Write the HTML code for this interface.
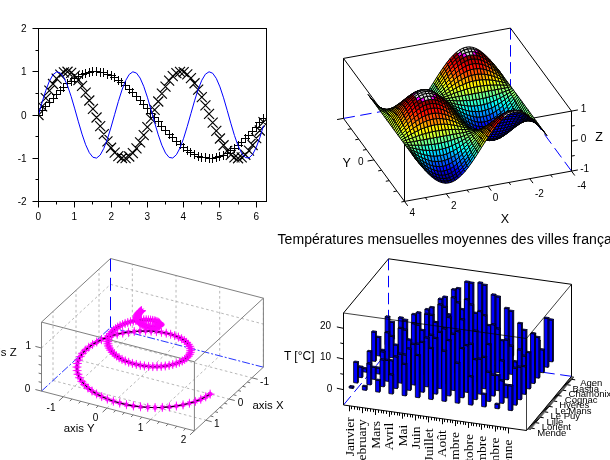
<!DOCTYPE html>
<html lang="fr">
<head>
<meta charset="utf-8">
<title>Scilab subplot</title>
<style>
html,body{margin:0;padding:0;background:#fff;}
body{width:610px;height:460px;overflow:hidden;}
svg{display:block;font-family:"Liberation Sans",sans-serif;}
</style>
</head>
<body>
<svg width="610" height="460" viewBox="0 0 610 460">
<rect x="0" y="0" width="610" height="460" fill="#fff"/>
<g id="plot2d">
<clipPath id="c1"><rect x="38.5" y="28.5" width="228" height="173"/></clipPath>
<g clip-path="url(#c1)">
<path d="M34 115.5h9M38.5 111v9M38 110.5h9M42.5 106v9M41 106.5h9M45.5 102v9M45 102.5h9M49.5 98v9M49 98.5h9M53.5 94v9M52 94.5h9M56.5 90v9M56 90.5h9M60.5 86v9M59 87.5h9M63.5 83v9M63 83.5h9M67.5 79v9M67 81.5h9M71.5 77v9M70 78.5h9M74.5 74v9M74 76.5h9M78.5 72v9M78 74.5h9M82.5 70v9M81 73.5h9M85.5 69v9M85 72.5h9M89.5 68v9M88 71.5h9M92.5 67v9M92 71.5h9M96.5 67v9M96 72.5h9M100.5 68v9M99 72.5h9M103.5 68v9M103 74.5h9M107.5 70v9M107 75.5h9M111.5 71v9M110 77.5h9M114.5 73v9M114 80.5h9M118.5 76v9M117 82.5h9M121.5 78v9M121 85.5h9M125.5 81v9M125 89.5h9M129.5 85v9M128 92.5h9M132.5 88v9M132 96.5h9M136.5 92v9M136 100.5h9M140.5 96v9M139 104.5h9M143.5 100v9M143 108.5h9M147.5 104v9M146 113.5h9M150.5 109v9M150 117.5h9M154.5 113v9M154 121.5h9M158.5 117v9M157 126.5h9M161.5 122v9M161 130.5h9M165.5 126v9M165 134.5h9M169.5 130v9M168 137.5h9M172.5 133v9M172 141.5h9M176.5 137v9M176 144.5h9M180.5 140v9M179 147.5h9M183.5 143v9M183 150.5h9M187.5 146v9M186 152.5h9M190.5 148v9M190 154.5h9M194.5 150v9M194 156.5h9M198.5 152v9M197 157.5h9M201.5 153v9M201 157.5h9M205.5 153v9M205 158.5h9M209.5 154v9M208 158.5h9M212.5 154v9M212 157.5h9M216.5 153v9M215 156.5h9M219.5 152v9M219 155.5h9M223.5 151v9M223 153.5h9M227.5 149v9M226 150.5h9M230.5 146v9M230 148.5h9M234.5 144v9M234 145.5h9M238.5 141v9M237 142.5h9M241.5 138v9M241 138.5h9M245.5 134v9M244 135.5h9M248.5 131v9M248 131.5h9M252.5 127v9M252 127.5h9M256.5 123v9M255 122.5h9M259.5 118v9M259 118.5h9M263.5 114v9" stroke="#000" stroke-width="1" fill="none"/>
<path d="M33.5 110l10 10M33.5 120l10 -10M37.13 101.41l10 10M37.13 111.41l10 -10M40.76 93.16l10 10M40.76 103.16l10 -10M44.39 85.58l10 10M44.39 95.58l10 -10M48.01 78.97l10 10M48.01 88.97l10 -10M51.64 73.61l10 10M51.64 83.61l10 -10M55.27 69.69l10 10M55.27 79.69l10 -10M58.9 67.38l10 10M58.9 77.38l10 -10M62.53 66.77l10 10M62.53 76.77l10 -10M66.16 67.88l10 10M66.16 77.88l10 -10M69.79 70.67l10 10M69.79 80.67l10 -10M73.42 75.03l10 10M73.42 85.03l10 -10M77.04 80.79l10 10M77.04 90.79l10 -10M80.67 87.7l10 10M80.67 97.7l10 -10M84.3 95.51l10 10M84.3 105.51l10 -10M87.93 103.9l10 10M87.93 113.9l10 -10M91.56 112.52l10 10M91.56 122.52l10 -10M95.19 121.05l10 10M95.19 131.05l10 -10M98.82 129.14l10 10M98.82 139.14l10 -10M102.45 136.46l10 10M102.45 146.46l10 -10M106.07 142.73l10 10M106.07 152.73l10 -10M109.7 147.7l10 10M109.7 157.7l10 -10M113.33 151.16l10 10M113.33 161.16l10 -10M116.96 152.98l10 10M116.96 162.98l10 -10M120.59 153.08l10 10M120.59 163.08l10 -10M124.22 151.47l10 10M124.22 161.47l10 -10M127.85 148.21l10 10M127.85 158.21l10 -10M131.48 143.42l10 10M131.48 153.42l10 -10M135.1 137.3l10 10M135.1 147.3l10 -10M138.73 130.09l10 10M138.73 140.09l10 -10M142.36 122.08l10 10M142.36 132.08l10 -10M145.99 113.59l10 10M145.99 123.59l10 -10M149.62 104.96l10 10M149.62 114.96l10 -10M153.25 96.53l10 10M153.25 106.53l10 -10M156.88 88.63l10 10M156.88 98.63l10 -10M160.51 81.59l10 10M160.51 91.59l10 -10M164.13 75.67l10 10M164.13 85.67l10 -10M167.76 71.13l10 10M167.76 81.13l10 -10M171.39 68.14l10 10M171.39 78.14l10 -10M175.02 66.81l10 10M175.02 76.81l10 -10M178.65 67.21l10 10M178.65 77.21l10 -10M182.28 69.31l10 10M182.28 79.31l10 -10M185.91 73.04l10 10M185.91 83.04l10 -10M189.54 78.24l10 10M189.54 88.24l10 -10M193.16 84.7l10 10M193.16 94.7l10 -10M196.79 92.18l10 10M196.79 102.18l10 -10M200.42 100.36l10 10M200.42 110.36l10 -10M204.05 108.93l10 10M204.05 118.93l10 -10M207.68 117.54l10 10M207.68 127.54l10 -10M211.31 125.85l10 10M211.31 135.85l10 -10M214.94 133.53l10 10M214.94 143.53l10 -10M218.57 140.27l10 10M218.57 150.27l10 -10M222.19 145.8l10 10M222.19 155.8l10 -10M225.82 149.91l10 10M225.82 159.91l10 -10M229.45 152.43l10 10M229.45 162.43l10 -10M233.08 153.25l10 10M233.08 163.25l10 -10M236.71 152.35l10 10M236.71 162.35l10 -10M240.34 149.76l10 10M240.34 159.76l10 -10M243.97 145.59l10 10M243.97 155.59l10 -10M247.6 139.99l10 10M247.6 149.99l10 -10M251.22 133.21l10 10M251.22 143.21l10 -10M254.85 125.49l10 10M254.85 135.49l10 -10M258.48 117.16l10 10M258.48 127.16l10 -10" stroke="#000" stroke-width="1.15" fill="none"/>
<path d="M38.5 115 L42.13 102.22 L45.76 90.58 L49.39 81.12 L53.01 74.69 L56.64 71.86 L60.27 72.88 L63.9 77.67 L67.53 85.79 L71.16 96.52 L74.79 108.9 L78.42 121.82 L82.04 134.14 L85.67 144.75 L89.3 152.7 L92.93 157.28 L96.56 158.08 L100.19 155.04 L103.82 148.42 L107.45 138.82 L111.07 127.08 L114.7 114.27 L118.33 101.53 L121.96 89.98 L125.59 80.67 L129.22 74.43 L132.85 71.81 L136.48 73.05 L140.1 78.04 L143.73 86.33 L147.36 97.18 L150.99 109.62 L154.62 122.54 L158.25 134.79 L161.88 145.27 L165.51 153.05 L169.13 157.43 L172.76 158.01 L176.39 154.76 L180.02 147.96 L183.65 138.21 L187.28 126.38 L190.91 113.55 L194.54 100.84 L198.16 89.39 L201.79 80.24 L205.42 74.19 L209.05 71.78 L212.68 73.24 L216.31 78.42 L219.94 86.88 L223.57 97.84 L227.19 110.34 L230.82 123.25 L234.45 135.43 L238.08 145.78 L241.71 153.39 L245.34 157.56 L248.97 157.93 L252.6 154.47 L256.22 147.48 L259.85 137.59 L263.48 125.68" stroke="#0000ff" stroke-width="1" fill="none"/>
</g>
<rect x="38.5" y="28.5" width="228" height="173" fill="none" stroke="#000" stroke-width="1"/>
<text x="38.2" y="220.2" font-size="10" text-anchor="middle">0</text>
<text x="74.2" y="220.2" font-size="10" text-anchor="middle">1</text>
<text x="111.2" y="220.2" font-size="10" text-anchor="middle">2</text>
<text x="147.2" y="220.2" font-size="10" text-anchor="middle">3</text>
<text x="183.2" y="220.2" font-size="10" text-anchor="middle">4</text>
<text x="219.2" y="220.2" font-size="10" text-anchor="middle">5</text>
<text x="256.2" y="220.2" font-size="10" text-anchor="middle">6</text>
<text x="26.6" y="205" font-size="10" text-anchor="end">-2</text>
<text x="26.6" y="162" font-size="10" text-anchor="end">-1</text>
<text x="26.6" y="119" font-size="10" text-anchor="end">0</text>
<text x="26.6" y="75" font-size="10" text-anchor="end">1</text>
<text x="26.6" y="32" font-size="10" text-anchor="end">2</text>
<path d="M38.5 201.5v6M56.5 201.5v3M74.5 201.5v6M92.5 201.5v3M111.5 201.5v6M129.5 201.5v3M147.5 201.5v6M165.5 201.5v3M183.5 201.5v6M201.5 201.5v3M219.5 201.5v6M238.5 201.5v3M256.5 201.5v6M38.5 201.5h-6M38.5 179.5h-3M38.5 158.5h-6M38.5 136.5h-3M38.5 115.5h-6M38.5 93.5h-3M38.5 71.5h-6M38.5 50.5h-3M38.5 28.5h-6" stroke="#000" stroke-width="1" fill="none"/>
</g>
<g id="plot3d">
<line x1="510.5" y1="28.1" x2="510.5" y2="88.1" stroke="#0000ff" stroke-width="1" stroke-dasharray="11.5 5.5"/>
<line x1="343.5" y1="118.4" x2="510.5" y2="88.1" stroke="#0000ff" stroke-width="1" stroke-dasharray="11.5 5.5"/>
<line x1="571.5" y1="171.1" x2="510.5" y2="88.1" stroke="#0000ff" stroke-width="1" stroke-dasharray="11.5 5.5"/>
<path d="M343.5 118.4L404.5 201.4L571.5 171.1L571.5 111.1L510.5 28.1L343.5 58.4Z" stroke="#000" stroke-width="1" fill="none"/>
<path d="M343.5 58.4L404.5 141.4L571.5 111.1M404.5 141.4L404.5 201.4" stroke="#000" stroke-width="1" fill="none"/>
<g stroke="#000" stroke-width="1" stroke-linejoin="round">
<polygon points="404.03,116.85 400.75,117.81 401.95,119.07 405.23,118.12" fill="#00008f"/>
<polygon points="400.75,117.81 397.48,118.04 398.67,119.31 401.95,119.07" fill="#00008f"/>
<polygon points="407.31,115.18 404.03,116.85 405.23,118.12 408.51,116.46" fill="#00008f"/>
<polygon points="397.48,118.04 394.2,117.56 395.39,118.84 398.67,119.31" fill="#00008f"/>
<polygon points="405.23,118.12 401.95,119.07 403.15,119.63 406.43,118.69" fill="#00008f"/>
<polygon points="410.59,112.82 407.31,115.18 408.51,116.46 411.79,114.12" fill="#0000af"/>
<polygon points="401.95,119.07 398.67,119.31 399.87,119.88 403.15,119.63" fill="#00008f"/>
<polygon points="408.51,116.46 405.23,118.12 406.43,118.69 409.71,117.07" fill="#0000af"/>
<polygon points="398.67,119.31 395.39,118.84 396.59,119.45 399.87,119.88" fill="#0000af"/>
<polygon points="394.2,117.56 390.92,116.39 392.12,117.69 395.39,118.84" fill="#0000af"/>
<polygon points="411.79,114.12 408.51,116.46 409.71,117.07 412.99,114.79" fill="#0000af"/>
<polygon points="413.87,109.81 410.59,112.82 411.79,114.12 415.07,111.15" fill="#0000cf"/>
<polygon points="406.43,118.69 403.15,119.63 404.35,119.49 407.63,118.57" fill="#0000af"/>
<polygon points="403.15,119.63 399.87,119.88 401.07,119.76 404.35,119.49" fill="#0000f4"/>
<polygon points="409.71,117.07 406.43,118.69 407.63,118.57 410.91,117.02" fill="#0000af"/>
<polygon points="395.39,118.84 392.12,117.69 393.31,118.36 396.59,119.45" fill="#0000af"/>
<polygon points="415.07,111.15 411.79,114.12 412.99,114.79 416.27,111.91" fill="#0000cf"/>
<polygon points="399.87,119.88 396.59,119.45 397.79,119.4 401.07,119.76" fill="#0000f4"/>
<polygon points="412.99,114.79 409.71,117.07 410.91,117.02 414.19,114.85" fill="#0000cf"/>
<polygon points="390.92,116.39 387.64,114.57 388.84,115.91 392.12,117.69" fill="#0000cf"/>
<polygon points="417.15,106.22 413.87,109.81 415.07,111.15 418.35,107.59" fill="#0010ff"/>
<polygon points="396.59,119.45 393.31,118.36 394.51,118.42 397.79,119.4" fill="#0000f4"/>
<polygon points="407.63,118.57 404.35,119.49 405.55,118.71 408.82,117.82" fill="#0000f4"/>
<polygon points="392.12,117.69 388.84,115.91 390.03,116.67 393.31,118.36" fill="#0000f4"/>
<polygon points="416.27,111.91 412.99,114.79 414.19,114.85 417.46,112.11" fill="#0000ef"/>
<polygon points="404.35,119.49 401.07,119.76 402.27,119.01 405.55,118.71" fill="#0000f4"/>
<polygon points="410.91,117.02 407.63,118.57 408.82,117.82 412.1,116.36" fill="#0000f4"/>
<polygon points="418.35,107.59 415.07,111.15 416.27,111.91 419.55,108.46" fill="#0010ff"/>
<polygon points="401.07,119.76 397.79,119.4 398.99,118.74 402.27,119.01" fill="#0000f4"/>
<polygon points="414.19,114.85 410.91,117.02 412.1,116.36 415.38,114.33" fill="#0000ef"/>
<polygon points="387.64,114.57 384.36,112.17 385.56,113.54 388.84,115.91" fill="#0010ff"/>
<polygon points="393.31,118.36 390.03,116.67 391.23,116.87 394.51,118.42" fill="#0000f4"/>
<polygon points="420.43,102.12 417.15,106.22 418.35,107.59 421.63,103.53" fill="#0050ff"/>
<polygon points="491.17,132.86 487.89,133.8 489.09,136.51 492.37,135.56" fill="#00008f"/>
<polygon points="492.37,135.56 489.09,136.51 490.29,138.5 493.57,137.54" fill="#00008f"/>
<polygon points="419.55,108.46 416.27,111.91 417.46,112.11 420.74,108.84" fill="#0030ff"/>
<polygon points="487.89,133.8 484.62,134.05 485.81,136.75 489.09,136.51" fill="#00008f"/>
<polygon points="489.09,136.51 485.81,136.75 487.01,138.73 490.29,138.5" fill="#00008f"/>
<polygon points="397.79,119.4 394.51,118.42 395.71,117.9 398.99,118.74" fill="#0000f4"/>
<polygon points="494.45,131.24 491.17,132.86 492.37,135.56 495.65,133.9" fill="#0000af"/>
<polygon points="417.46,112.11 414.19,114.85 415.38,114.33 418.66,111.79" fill="#0010ff"/>
<polygon points="495.65,133.9 492.37,135.56 493.57,137.54 496.85,135.87" fill="#00008f"/>
<polygon points="489.98,129.49 486.7,130.41 487.89,133.8 491.17,132.86" fill="#0000af"/>
<polygon points="493.57,137.54 490.29,138.5 491.49,139.77 494.77,138.82" fill="#00008f"/>
<polygon points="388.84,115.91 385.56,113.54 386.76,114.41 390.03,116.67" fill="#0000f4"/>
<polygon points="486.7,130.41 483.42,130.68 484.62,134.05 487.89,133.8" fill="#0000af"/>
<polygon points="493.26,127.94 489.98,129.49 491.17,132.86 494.45,131.24" fill="#0000af"/>
<polygon points="490.29,138.5 487.01,138.73 488.21,140.01 491.49,139.77" fill="#00008f"/>
<polygon points="408.82,117.82 405.55,118.71 406.74,117.34 410.02,116.49" fill="#0000f4"/>
<polygon points="421.63,103.53 418.35,107.59 419.55,108.46 422.82,104.53" fill="#0050ff"/>
<polygon points="496.85,135.87 493.57,137.54 494.77,138.82 498.05,137.16" fill="#00008f"/>
<polygon points="484.62,134.05 481.34,133.62 482.53,136.28 485.81,136.75" fill="#0000af"/>
<polygon points="485.81,136.75 482.53,136.28 483.73,138.25 487.01,138.73" fill="#00008f"/>
<polygon points="412.1,116.36 408.82,117.82 410.02,116.49 413.3,115.14" fill="#0000f4"/>
<polygon points="405.55,118.71 402.27,119.01 403.46,117.68 406.74,117.34" fill="#0000f4"/>
<polygon points="497.73,128.97 494.45,131.24 495.65,133.9 498.93,131.56" fill="#0000af"/>
<polygon points="498.93,131.56 495.65,133.9 496.85,135.87 500.13,133.51" fill="#0000af"/>
<polygon points="483.42,130.68 480.14,130.31 481.34,133.62 484.62,134.05" fill="#0000af"/>
<polygon points="488.78,125.48 485.5,126.37 486.7,130.41 489.98,129.49" fill="#0000cf"/>
<polygon points="496.53,125.77 493.26,127.94 494.45,131.24 497.73,128.97" fill="#0000cf"/>
<polygon points="487.01,138.73 483.73,138.25 484.93,139.54 488.21,140.01" fill="#00008f"/>
<polygon points="415.38,114.33 412.1,116.36 413.3,115.14 416.58,113.29" fill="#0000f4"/>
<polygon points="485.5,126.37 482.22,126.67 483.42,130.68 486.7,130.41" fill="#0000cf"/>
<polygon points="402.27,119.01 398.99,118.74 400.19,117.52 403.46,117.68" fill="#0000f4"/>
<polygon points="494.77,138.82 491.49,139.77 492.69,140.32 495.96,139.38" fill="#00008f"/>
<polygon points="492.06,124.01 488.78,125.48 489.98,129.49 493.26,127.94" fill="#0000cf"/>
<polygon points="500.13,133.51 496.85,135.87 498.05,137.16 501.33,134.82" fill="#0000af"/>
<polygon points="394.51,118.42 391.23,116.87 392.43,116.55 395.71,117.9" fill="#0000f4"/>
<polygon points="420.74,108.84 417.46,112.11 418.66,111.79 421.94,108.77" fill="#0050ff"/>
<polygon points="491.49,139.77 488.21,140.01 489.41,140.57 492.69,140.32" fill="#00008f"/>
<polygon points="390.03,116.67 386.76,114.41 387.95,114.79 391.23,116.87" fill="#0000f4"/>
<polygon points="498.05,137.16 494.77,138.82 495.96,139.38 499.24,137.76" fill="#0000af"/>
<polygon points="422.82,104.53 419.55,108.46 420.74,108.84 424.02,105.12" fill="#0050ff"/>
<polygon points="481.34,133.62 478.06,132.54 479.26,135.13 482.53,136.28" fill="#0000af"/>
<polygon points="482.53,136.28 479.26,135.13 480.45,137.08 483.73,138.25" fill="#0000af"/>
<polygon points="384.36,112.17 381.08,109.26 382.28,110.67 385.56,113.54" fill="#0050ff"/>
<polygon points="482.22,126.67 478.94,126.39 480.14,130.31 483.42,130.68" fill="#0000cf"/>
<polygon points="495.34,121.99 492.06,124.01 493.26,127.94 496.53,125.77" fill="#0000ef"/>
<polygon points="501.01,126.08 497.73,128.97 498.93,131.56 502.21,128.58" fill="#0000cf"/>
<polygon points="423.71,97.59 420.43,102.12 421.63,103.53 424.91,99.05" fill="#008fff"/>
<polygon points="502.21,128.58 498.93,131.56 500.13,133.51 503.41,130.51" fill="#0000cf"/>
<polygon points="480.14,130.31 476.86,129.34 478.06,132.54 481.34,133.62" fill="#0000cf"/>
<polygon points="418.66,111.79 415.38,114.33 416.58,113.29 419.86,110.99" fill="#0000f4"/>
<polygon points="488.21,140.01 484.93,139.54 486.13,140.14 489.41,140.57" fill="#0000af"/>
<polygon points="398.99,118.74 395.71,117.9 396.91,116.86 400.19,117.52" fill="#0000f4"/>
<polygon points="499.81,123.02 496.53,125.77 497.73,128.97 501.01,126.08" fill="#0000ef"/>
<polygon points="483.73,138.25 480.45,137.08 481.65,138.39 484.93,139.54" fill="#0000af"/>
<polygon points="501.33,134.82 498.05,137.16 499.24,137.76 502.52,135.49" fill="#0000af"/>
<polygon points="487.58,120.89 484.3,121.74 485.5,126.37 488.78,125.48" fill="#0010ff"/>
<polygon points="503.41,130.51 500.13,133.51 501.33,134.82 504.6,131.84" fill="#0000cf"/>
<polygon points="490.86,119.53 487.58,120.89 488.78,125.48 492.06,124.01" fill="#0010ff"/>
<polygon points="484.3,121.74 481.02,122.08 482.22,126.67 485.5,126.37" fill="#0010ff"/>
<polygon points="385.56,113.54 382.28,110.67 383.48,111.67 386.76,114.41" fill="#0000f4"/>
<polygon points="495.96,139.38 492.69,140.32 493.88,140.19 497.16,139.27" fill="#0000af"/>
<polygon points="424.91,99.05 421.63,103.53 422.82,104.53 426.1,100.19" fill="#008fff"/>
<polygon points="478.94,126.39 475.66,125.56 476.86,129.34 480.14,130.31" fill="#0000ef"/>
<polygon points="492.69,140.32 489.41,140.57 490.6,140.46 493.88,140.19" fill="#0000f4"/>
<polygon points="498.62,119.44 495.34,121.99 496.53,125.77 499.81,123.02" fill="#0010ff"/>
<polygon points="499.24,137.76 495.96,139.38 497.16,139.27 500.44,137.71" fill="#0000af"/>
<polygon points="494.14,117.69 490.86,119.53 492.06,124.01 495.34,121.99" fill="#0030ff"/>
<polygon points="424.02,105.12 420.74,108.84 421.94,108.77 425.22,105.34" fill="#0070ff"/>
<polygon points="481.02,122.08 477.74,121.91 478.94,126.39 482.22,126.67" fill="#0010ff"/>
<polygon points="391.23,116.87 387.95,114.79 389.15,114.72 392.43,116.55" fill="#0000f4"/>
<polygon points="410.02,116.49 406.74,117.34 407.94,115.46 411.22,114.66" fill="#0000f4"/>
<polygon points="484.93,139.54 481.65,138.39 482.85,139.06 486.13,140.14" fill="#0000af"/>
<polygon points="478.06,132.54 474.78,130.84 475.98,133.34 479.26,135.13" fill="#0000cf"/>
<polygon points="421.94,108.77 418.66,111.79 419.86,110.99 423.14,108.28" fill="#0070ff"/>
<polygon points="413.3,115.14 410.02,116.49 411.22,114.66 414.5,113.43" fill="#0000f4"/>
<polygon points="479.26,135.13 475.98,133.34 477.17,135.27 480.45,137.08" fill="#0000cf"/>
<polygon points="406.74,117.34 403.46,117.68 404.66,115.85 407.94,115.46" fill="#0000f4"/>
<polygon points="395.71,117.9 392.43,116.55 393.63,115.75 396.91,116.86" fill="#0000f4"/>
<polygon points="504.6,131.84 501.33,134.82 502.52,135.49 505.8,132.6" fill="#0000cf"/>
<polygon points="504.29,122.64 501.01,126.08 502.21,128.58 505.49,125.03" fill="#0010ff"/>
<polygon points="489.41,140.57 486.13,140.14 487.33,140.09 490.6,140.46" fill="#0000f4"/>
<polygon points="476.86,129.34 473.58,127.78 474.78,130.84 478.06,132.54" fill="#0000ef"/>
<polygon points="505.49,125.03 502.21,128.58 503.41,130.51 506.69,126.91" fill="#0010ff"/>
<polygon points="502.52,135.49 499.24,137.76 500.44,137.71 503.72,135.55" fill="#0000cf"/>
<polygon points="503.09,119.76 499.81,123.02 501.01,126.08 504.29,122.64" fill="#0030ff"/>
<polygon points="386.76,114.41 383.48,111.67 384.67,112.26 387.95,114.79" fill="#0000f4"/>
<polygon points="416.58,113.29 413.3,115.14 414.5,113.43 417.78,111.8" fill="#0000f4"/>
<polygon points="426.1,100.19 422.82,104.53 424.02,105.12 427.3,101.02" fill="#008fff"/>
<polygon points="480.45,137.08 477.17,135.27 478.37,136.6 481.65,138.39" fill="#0000cf"/>
<polygon points="403.46,117.68 400.19,117.52 401.38,115.81 404.66,115.85" fill="#0000f4"/>
<polygon points="497.42,115.39 494.14,117.69 495.34,121.99 498.62,119.44" fill="#0050ff"/>
<polygon points="477.74,121.91 474.46,121.26 475.66,125.56 478.94,126.39" fill="#0030ff"/>
<polygon points="486.38,115.8 483.1,116.6 484.3,121.74 487.58,120.89" fill="#0050ff"/>
<polygon points="489.66,114.57 486.38,115.8 487.58,120.89 490.86,119.53" fill="#0050ff"/>
<polygon points="506.69,126.91 503.41,130.51 504.6,131.84 507.88,128.29" fill="#0010ff"/>
<polygon points="483.1,116.6 479.82,116.99 481.02,122.08 484.3,121.74" fill="#0050ff"/>
<polygon points="475.66,125.56 472.38,124.2 473.58,127.78 476.86,129.34" fill="#0010ff"/>
<polygon points="501.89,116.43 498.62,119.44 499.81,123.02 503.09,119.76" fill="#0050ff"/>
<polygon points="381.08,109.26 377.8,105.92 379,107.38 382.28,110.67" fill="#008fff"/>
<polygon points="419.86,110.99 416.58,113.29 417.78,111.8 421.06,109.78" fill="#0000f4"/>
<polygon points="426.99,92.73 423.71,97.59 424.91,99.05 428.19,94.25" fill="#00cfff"/>
<polygon points="492.94,112.93 489.66,114.57 490.86,119.53 494.14,117.69" fill="#0050ff"/>
<polygon points="486.13,140.14 482.85,139.06 484.05,139.11 487.33,140.09" fill="#0000f4"/>
<polygon points="497.16,139.27 493.88,140.19 495.08,139.4 498.36,138.52" fill="#0000f4"/>
<polygon points="400.19,117.52 396.91,116.86 398.1,115.37 401.38,115.81" fill="#0000f4"/>
<polygon points="479.82,116.99 476.55,116.95 477.74,121.91 481.02,122.08" fill="#0050ff"/>
<polygon points="425.22,105.34 421.94,108.77 423.14,108.28 426.42,105.2" fill="#008fff"/>
<polygon points="481.65,138.39 478.37,136.6 479.57,137.36 482.85,139.06" fill="#0000f4"/>
<polygon points="505.8,132.6 502.52,135.49 503.72,135.55 507,132.8" fill="#0000ef"/>
<polygon points="493.88,140.19 490.6,140.46 491.8,139.71 495.08,139.4" fill="#0000f4"/>
<polygon points="500.44,137.71 497.16,139.27 498.36,138.52 501.64,137.05" fill="#0000f4"/>
<polygon points="392.43,116.55 389.15,114.72 390.35,114.23 393.63,115.75" fill="#0000f4"/>
<polygon points="427.3,101.02 424.02,105.12 425.22,105.34 428.5,101.56" fill="#00afff"/>
<polygon points="507.88,128.29 504.6,131.84 505.8,132.6 509.08,129.16" fill="#0010ff"/>
<polygon points="500.7,112.68 497.42,115.39 498.62,119.44 501.89,116.43" fill="#0070ff"/>
<polygon points="387.95,114.79 384.67,112.26 385.87,112.47 389.15,114.72" fill="#0000f4"/>
<polygon points="474.78,130.84 471.5,128.59 472.7,130.98 475.98,133.34" fill="#0010ff"/>
<polygon points="382.28,110.67 379,107.38 380.2,108.52 383.48,111.67" fill="#0000f4"/>
<polygon points="428.19,94.25 424.91,99.05 426.1,100.19 429.38,95.55" fill="#00cfff"/>
<polygon points="474.46,121.26 471.19,120.15 472.38,124.2 475.66,125.56" fill="#0050ff"/>
<polygon points="496.22,110.92 492.94,112.93 494.14,117.69 497.42,115.39" fill="#0070ff"/>
<polygon points="475.98,133.34 472.7,130.98 473.9,132.86 477.17,135.27" fill="#0010ff"/>
<polygon points="473.58,127.78 470.3,125.71 471.5,128.59 474.78,130.84" fill="#0030ff"/>
<polygon points="490.6,140.46 487.33,140.09 488.52,139.43 491.8,139.71" fill="#0000f4"/>
<polygon points="507.57,118.71 504.29,122.64 505.49,125.03 508.77,120.97" fill="#0050ff"/>
<polygon points="423.14,108.28 419.86,110.99 421.06,109.78 424.34,107.43" fill="#0000f4"/>
<polygon points="503.72,135.55 500.44,137.71 501.64,137.05 504.92,135.03" fill="#0000ef"/>
<polygon points="476.55,116.95 473.27,116.5 474.46,121.26 477.74,121.91" fill="#0050ff"/>
<polygon points="506.37,116.04 503.09,119.76 504.29,122.64 507.57,118.71" fill="#0050ff"/>
<polygon points="508.77,120.97 505.49,125.03 506.69,126.91 509.96,122.81" fill="#0050ff"/>
<polygon points="396.91,116.86 393.63,115.75 394.83,114.54 398.1,115.37" fill="#0000f4"/>
<polygon points="477.17,135.27 473.9,132.86 475.09,134.24 478.37,136.6" fill="#0010ff"/>
<polygon points="505.17,112.99 501.89,116.43 503.09,119.76 506.37,116.04" fill="#0070ff"/>
<polygon points="472.38,124.2 469.1,122.38 470.3,125.71 473.58,127.78" fill="#0050ff"/>
<polygon points="485.19,110.28 481.91,111.04 483.1,116.6 486.38,115.8" fill="#008fff"/>
<polygon points="488.46,109.2 485.19,110.28 486.38,115.8 489.66,114.57" fill="#008fff"/>
<polygon points="482.85,139.06 479.57,137.36 480.77,137.56 484.05,139.11" fill="#0000f4"/>
<polygon points="429.38,95.55 426.1,100.19 427.3,101.02 430.58,96.63" fill="#00cfff"/>
<polygon points="509.96,122.81 506.69,126.91 507.88,128.29 511.16,124.23" fill="#0050ff"/>
<polygon points="481.91,111.04 478.63,111.47 479.82,116.99 483.1,116.6" fill="#008fff"/>
<polygon points="411.22,114.66 407.94,115.46 409.14,113.16 412.42,112.4" fill="#0000f4"/>
<polygon points="383.48,111.67 380.2,108.52 381.39,109.35 384.67,112.26" fill="#0000f4"/>
<polygon points="414.5,113.43 411.22,114.66 412.42,112.4 415.7,111.32" fill="#0000f4"/>
<polygon points="509.08,129.16 505.8,132.6 507,132.8 510.28,129.54" fill="#0030ff"/>
<polygon points="499.5,108.57 496.22,110.92 497.42,115.39 500.7,112.68" fill="#008fff"/>
<polygon points="491.74,107.8 488.46,109.2 489.66,114.57 492.94,112.93" fill="#008fff"/>
<polygon points="407.94,115.46 404.66,115.85 405.86,113.59 409.14,113.16" fill="#0000f4"/>
<polygon points="487.33,140.09 484.05,139.11 485.24,138.6 488.52,139.43" fill="#0000f4"/>
<polygon points="428.5,101.56 425.22,105.34 426.42,105.2 429.7,101.83" fill="#00cfff"/>
<polygon points="507,132.8 503.72,135.55 504.92,135.03 508.2,132.48" fill="#0010ff"/>
<polygon points="417.78,111.8 414.5,113.43 415.7,111.32 418.98,109.92" fill="#0000f4"/>
<polygon points="503.98,109.6 500.7,112.68 501.89,116.43 505.17,112.99" fill="#008fff"/>
<polygon points="473.27,116.5 469.99,115.68 471.19,120.15 474.46,121.26" fill="#0070ff"/>
<polygon points="478.63,111.47 475.35,111.58 476.55,116.95 479.82,116.99" fill="#008fff"/>
<polygon points="426.42,105.2 423.14,108.28 424.34,107.43 427.62,104.77" fill="#00afff"/>
<polygon points="478.37,136.6 475.09,134.24 476.29,135.11 479.57,137.36" fill="#0000f4"/>
<polygon points="404.66,115.85 401.38,115.81 402.58,113.7 405.86,113.59" fill="#0000f4"/>
<polygon points="471.19,120.15 467.91,118.63 469.1,122.38 472.38,124.2" fill="#0070ff"/>
<polygon points="389.15,114.72 385.87,112.47 387.07,112.34 390.35,114.23" fill="#0000f4"/>
<polygon points="495.02,106.11 491.74,107.8 492.94,112.93 496.22,110.92" fill="#00afff"/>
<polygon points="498.36,138.52 495.08,139.4 496.28,138.04 499.56,137.19" fill="#0000f4"/>
<polygon points="511.16,124.23 507.88,128.29 509.08,129.16 512.36,125.23" fill="#0050ff"/>
<polygon points="421.06,109.78 417.78,111.8 418.98,109.92 422.26,108.23" fill="#0000f4"/>
<polygon points="501.64,137.05 498.36,138.52 499.56,137.19 502.84,135.83" fill="#0000f4"/>
<polygon points="495.08,139.4 491.8,139.71 493,138.38 496.28,138.04" fill="#0000f4"/>
<polygon points="393.63,115.75 390.35,114.23 391.55,113.38 394.83,114.54" fill="#0000f4"/>
<polygon points="430.58,96.63 427.3,101.02 428.5,101.56 431.78,97.51" fill="#00efff"/>
<polygon points="430.27,87.65 426.99,92.73 428.19,94.25 431.46,89.22" fill="#30ffcf"/>
<polygon points="475.35,111.58 472.07,111.37 473.27,116.5 476.55,116.95" fill="#008fff"/>
<polygon points="377.8,105.92 374.52,102.25 375.72,103.77 379,107.38" fill="#00cfff"/>
<polygon points="384.67,112.26 381.39,109.35 382.59,109.89 385.87,112.47" fill="#0000f4"/>
<polygon points="471.5,128.59 468.22,125.85 469.42,128.11 472.7,130.98" fill="#0050ff"/>
<polygon points="401.38,115.81 398.1,115.37 399.3,113.49 402.58,113.7" fill="#0000f4"/>
<polygon points="502.78,105.91 499.5,108.57 500.7,112.68 503.98,109.6" fill="#00afff"/>
<polygon points="470.3,125.71 467.02,123.18 468.22,125.85 471.5,128.59" fill="#0050ff"/>
<polygon points="509.65,111.94 506.37,116.04 507.57,118.71 510.85,114.37" fill="#008fff"/>
<polygon points="504.92,135.03 501.64,137.05 502.84,135.83 506.12,133.99" fill="#0000f4"/>
<polygon points="510.85,114.37 507.57,118.71 508.77,120.97 512.05,116.49" fill="#008fff"/>
<polygon points="498.3,104.16 495.02,106.11 496.22,110.92 499.5,108.57" fill="#00cfff"/>
<polygon points="491.8,139.71 488.52,139.43 489.72,138.21 493,138.38" fill="#0000f4"/>
<polygon points="472.7,130.98 469.42,128.11 470.62,129.95 473.9,132.86" fill="#0050ff"/>
<polygon points="484.05,139.11 480.77,137.56 481.97,137.24 485.24,138.6" fill="#0000f4"/>
<polygon points="510.28,129.54 507,132.8 508.2,132.48 511.48,129.46" fill="#0050ff"/>
<polygon points="424.34,107.43 421.06,109.78 422.26,108.23 425.53,106.28" fill="#0000f4"/>
<polygon points="508.45,109.22 505.17,112.99 506.37,116.04 509.65,111.94" fill="#00afff"/>
<polygon points="431.46,89.22 428.19,94.25 429.38,95.55 432.66,90.68" fill="#30ffcf"/>
<polygon points="512.05,116.49 508.77,120.97 509.96,122.81 513.24,118.28" fill="#008fff"/>
<polygon points="479.57,137.36 476.29,135.11 477.49,135.49 480.77,137.56" fill="#0000f4"/>
<polygon points="469.99,115.68 466.71,114.52 467.91,118.63 471.19,120.15" fill="#008fff"/>
<polygon points="469.1,122.38 465.83,120.13 467.02,123.18 470.3,125.71" fill="#0070ff"/>
<polygon points="379,107.38 375.72,103.77 376.92,105.06 380.2,108.52" fill="#0000f4"/>
<polygon points="512.36,125.23 509.08,129.16 510.28,129.54 513.56,125.82" fill="#0050ff"/>
<polygon points="429.7,101.83 426.42,105.2 427.62,104.77 430.89,101.86" fill="#00efff"/>
<polygon points="473.9,132.86 470.62,129.95 471.81,131.37 475.09,134.24" fill="#0050ff"/>
<polygon points="487.27,103.51 483.99,104.44 485.19,110.28 488.46,109.2" fill="#00cfff"/>
<polygon points="483.99,104.44 480.71,105.15 481.91,111.04 485.19,110.28" fill="#00cfff"/>
<polygon points="472.07,111.37 468.79,110.87 469.99,115.68 473.27,116.5" fill="#00afff"/>
<polygon points="507.25,106.23 503.98,109.6 505.17,112.99 508.45,109.22" fill="#00cfff"/>
<polygon points="431.78,97.51 428.5,101.56 429.7,101.83 432.98,98.22" fill="#10ffef"/>
<polygon points="490.55,102.37 487.27,103.51 488.46,109.2 491.74,107.8" fill="#00cfff"/>
<polygon points="480.71,105.15 477.43,105.63 478.63,111.47 481.91,111.04" fill="#00cfff"/>
<polygon points="398.1,115.37 394.83,114.54 396.02,112.99 399.3,113.49" fill="#0000f4"/>
<polygon points="513.24,118.28 509.96,122.81 511.16,124.23 514.44,119.75" fill="#008fff"/>
<polygon points="508.2,132.48 504.92,135.03 506.12,133.99 509.4,131.69" fill="#0000f4"/>
<polygon points="488.52,139.43 485.24,138.6 486.44,137.56 489.72,138.21" fill="#0000f4"/>
<polygon points="501.58,101.97 498.3,104.16 499.5,108.57 502.78,105.91" fill="#00efff"/>
<polygon points="432.66,90.68 429.38,95.55 430.58,96.63 433.86,92.04" fill="#30ffcf"/>
<polygon points="467.91,118.63 464.63,116.74 465.83,120.13 469.1,122.38" fill="#008fff"/>
<polygon points="493.82,101.03 490.55,102.37 491.74,107.8 495.02,106.11" fill="#00efff"/>
<polygon points="390.35,114.23 387.07,112.34 388.27,111.91 391.55,113.38" fill="#0000f4"/>
<polygon points="477.43,105.63 474.15,105.89 475.35,111.58 478.63,111.47" fill="#00cfff"/>
<polygon points="427.62,104.77 424.34,107.43 425.53,106.28 428.81,104.09" fill="#0000f4"/>
<polygon points="385.87,112.47 382.59,109.89 383.79,110.16 387.07,112.34" fill="#0000f4"/>
<polygon points="506.06,103 502.78,105.91 503.98,109.6 507.25,106.23" fill="#00efff"/>
<polygon points="380.2,108.52 376.92,105.06 378.12,106.15 381.39,109.35" fill="#0000f4"/>
<polygon points="475.09,134.24 471.81,131.37 473.01,132.36 476.29,135.11" fill="#0000f4"/>
<polygon points="514.44,119.75 511.16,124.23 512.36,125.23 515.64,120.89" fill="#008fff"/>
<polygon points="497.1,99.51 493.82,101.03 495.02,106.11 498.3,104.16" fill="#10ffef"/>
<polygon points="474.15,105.89 470.87,105.94 472.07,111.37 475.35,111.58" fill="#00cfff"/>
<polygon points="468.79,110.87 465.51,110.11 466.71,114.52 469.99,115.68" fill="#00cfff"/>
<polygon points="415.7,111.32 412.42,112.4 413.62,109.82 416.89,108.89" fill="#0000f4"/>
<polygon points="412.42,112.4 409.14,113.16 410.34,110.53 413.62,109.82" fill="#0000f4"/>
<polygon points="499.13,70.56 495.85,66.55 497.04,68.24 500.32,72.19" fill="#cfff30"/>
<polygon points="433.86,92.04 430.58,96.63 431.78,97.51 435.06,93.29" fill="#30ffcf"/>
<polygon points="513.56,125.82 510.28,129.54 511.48,129.46 514.76,126.03" fill="#0070ff"/>
<polygon points="480.77,137.56 477.49,135.49 478.69,135.41 481.97,137.24" fill="#0000f4"/>
<polygon points="394.83,114.54 391.55,113.38 392.74,112.23 396.02,112.99" fill="#0000f4"/>
<polygon points="466.71,114.52 463.43,113.05 464.63,116.74 467.91,118.63" fill="#00afff"/>
<polygon points="418.98,109.92 415.7,111.32 416.89,108.89 420.17,107.75" fill="#0000f4"/>
<polygon points="499.56,137.19 496.28,138.04 497.48,136.16 500.76,135.35" fill="#0000f4"/>
<polygon points="409.14,113.16 405.86,113.59 407.06,111.01 410.34,110.53" fill="#0000f4"/>
<polygon points="432.98,98.22 429.7,101.83 430.89,101.86 434.17,98.76" fill="#10ffef"/>
<polygon points="511.48,129.46 508.2,132.48 509.4,131.69 512.67,128.97" fill="#0070ff"/>
<polygon points="504.86,99.59 501.58,101.97 502.78,105.91 506.06,103" fill="#10ffef"/>
<polygon points="502.84,135.83 499.56,137.19 500.76,135.35 504.03,134.12" fill="#0000f4"/>
<polygon points="496.28,138.04 493,138.38 494.2,136.54 497.48,136.16" fill="#0000f4"/>
<polygon points="485.24,138.6 481.97,137.24 483.16,136.45 486.44,137.56" fill="#0000f4"/>
<polygon points="500.38,97.83 497.1,99.51 498.3,104.16 501.58,101.97" fill="#10ffef"/>
<polygon points="500.32,72.19 497.04,68.24 498.24,70.04 501.52,73.82" fill="#cfff30"/>
<polygon points="430.89,101.86 427.62,104.77 428.81,104.09 432.09,101.71" fill="#10ffef"/>
<polygon points="422.26,108.23 418.98,109.92 420.17,107.75 423.45,106.41" fill="#0000f4"/>
<polygon points="381.39,109.35 378.12,106.15 379.31,107.03 382.59,109.89" fill="#0000f4"/>
<polygon points="405.86,113.59 402.58,113.7 403.78,111.27 407.06,111.01" fill="#0000f4"/>
<polygon points="512.93,107.55 509.65,111.94 510.85,114.37 514.13,109.72" fill="#00cfff"/>
<polygon points="511.73,105.17 508.45,109.22 509.65,111.94 512.93,107.55" fill="#00efff"/>
<polygon points="470.87,105.94 467.59,105.79 468.79,110.87 472.07,111.37" fill="#00efff"/>
<polygon points="467.02,123.18 463.74,120.27 464.94,122.7 468.22,125.85" fill="#008fff"/>
<polygon points="468.22,125.85 464.94,122.7 466.14,124.82 469.42,128.11" fill="#008fff"/>
<polygon points="433.55,82.46 430.27,87.65 431.46,89.22 434.74,84.09" fill="#70ff8f"/>
<polygon points="514.13,109.72 510.85,114.37 512.05,116.49 515.32,111.68" fill="#00cfff"/>
<polygon points="476.29,135.11 473.01,132.36 474.21,132.96 477.49,135.49" fill="#0000f4"/>
<polygon points="506.12,133.99 502.84,135.83 504.03,134.12 507.31,132.49" fill="#0000f4"/>
<polygon points="515.64,120.89 512.36,125.23 513.56,125.82 516.84,121.72" fill="#008fff"/>
<polygon points="510.53,102.62 507.25,106.23 508.45,109.22 511.73,105.17" fill="#10ffef"/>
<polygon points="493,138.38 489.72,138.21 490.92,136.5 494.2,136.54" fill="#0000f4"/>
<polygon points="465.83,120.13 462.55,117.54 463.74,120.27 467.02,123.18" fill="#00afff"/>
<polygon points="501.52,73.82 498.24,70.04 499.44,71.94 502.72,75.45" fill="#cfff30"/>
<polygon points="469.42,128.11 466.14,124.82 467.34,126.61 470.62,129.95" fill="#008fff"/>
<polygon points="435.06,93.29 431.78,97.51 432.98,98.22 436.25,94.45" fill="#30ffcf"/>
<polygon points="425.53,106.28 422.26,108.23 423.45,106.41 426.73,104.89" fill="#0000f4"/>
<polygon points="515.32,111.68 512.05,116.49 513.24,118.28 516.52,113.43" fill="#00cfff"/>
<polygon points="374.52,102.25 371.24,98.36 372.44,99.93 375.72,103.77" fill="#30ffcf"/>
<polygon points="509.34,99.9 506.06,103 507.25,106.23 510.53,102.62" fill="#10ffef"/>
<polygon points="402.58,113.7 399.3,113.49 400.5,111.32 403.78,111.27" fill="#0000f4"/>
<polygon points="486.07,97.62 482.79,98.38 483.99,104.44 487.27,103.51" fill="#30ffcf"/>
<polygon points="387.07,112.34 383.79,110.16 384.99,110.19 388.27,111.91" fill="#0000f4"/>
<polygon points="489.35,96.75 486.07,97.62 487.27,103.51 490.55,102.37" fill="#30ffcf"/>
<polygon points="482.79,98.38 479.51,99.03 480.71,105.15 483.99,104.44" fill="#30ffcf"/>
<polygon points="503.66,96.02 500.38,97.83 501.58,101.97 504.86,99.59" fill="#30ffcf"/>
<polygon points="434.74,84.09 431.46,89.22 432.66,90.68 435.94,85.72" fill="#70ff8f"/>
<polygon points="465.51,110.11 462.23,109.11 463.43,113.05 466.71,114.52" fill="#00efff"/>
<polygon points="492.63,95.77 489.35,96.75 490.55,102.37 493.82,101.03" fill="#30ffcf"/>
<polygon points="502.72,75.45 499.44,71.94 500.64,73.95 503.92,77.08" fill="#cfff30"/>
<polygon points="464.63,116.74 461.35,114.55 462.55,117.54 465.83,120.13" fill="#00cfff"/>
<polygon points="479.51,99.03 476.23,99.57 477.43,105.63 480.71,105.15" fill="#30ffcf"/>
<polygon points="470.62,129.95 467.34,126.61 468.53,128.08 471.81,131.37" fill="#008fff"/>
<polygon points="391.55,113.38 388.27,111.91 389.46,111.23 392.74,112.23" fill="#0000f4"/>
<polygon points="509.4,131.69 506.12,133.99 507.31,132.49 510.59,130.48" fill="#0000f4"/>
<polygon points="467.59,105.79 464.31,105.46 465.51,110.11 468.79,110.87" fill="#10ffef"/>
<polygon points="495.91,94.71 492.63,95.77 493.82,101.03 497.1,99.51" fill="#30ffcf"/>
<polygon points="508.14,97.06 504.86,99.59 506.06,103 509.34,99.9" fill="#30ffcf"/>
<polygon points="516.52,113.43 513.24,118.28 514.44,119.75 517.72,114.94" fill="#00cfff"/>
<polygon points="375.72,103.77 372.44,99.93 373.64,101.39 376.92,105.06" fill="#0000f4"/>
<polygon points="428.81,104.09 425.53,106.28 426.73,104.89 430.01,103.21" fill="#0000f4"/>
<polygon points="503.92,77.08 500.64,73.95 501.84,76.05 505.11,78.71" fill="#afff50"/>
<polygon points="489.72,138.21 486.44,137.56 487.64,136.06 490.92,136.5" fill="#0000f4"/>
<polygon points="476.23,99.57 472.95,100 474.15,105.89 477.43,105.63" fill="#30ffcf"/>
<polygon points="434.17,98.76 430.89,101.86 432.09,101.71 435.37,99.18" fill="#30ffcf"/>
<polygon points="514.76,126.03 511.48,129.46 512.67,128.97 515.95,125.9" fill="#008fff"/>
<polygon points="382.59,109.89 379.31,107.03 380.51,107.74 383.79,110.16" fill="#0000f4"/>
<polygon points="435.94,85.72 432.66,90.68 433.86,92.04 437.14,87.35" fill="#70ff8f"/>
<polygon points="399.3,113.49 396.02,112.99 397.22,111.17 400.5,111.32" fill="#0000f4"/>
<polygon points="499.19,93.57 495.91,94.71 497.1,99.51 500.38,97.83" fill="#50ffaf"/>
<polygon points="463.43,113.05 460.15,111.33 461.35,114.55 464.63,116.74" fill="#00efff"/>
<polygon points="481.97,137.24 478.69,135.41 479.88,134.92 483.16,136.45" fill="#0000f4"/>
<polygon points="436.25,94.45 432.98,98.22 434.17,98.76 437.45,95.53" fill="#50ffaf"/>
<polygon points="516.84,121.72 513.56,125.82 514.76,126.03 518.03,122.25" fill="#00afff"/>
<polygon points="505.11,78.71 501.84,76.05 503.03,78.23 506.31,80.34" fill="#afff50"/>
<polygon points="506.94,94.11 503.66,96.02 504.86,99.59 508.14,97.06" fill="#50ffaf"/>
<polygon points="472.95,100 469.67,100.32 470.87,105.94 474.15,105.89" fill="#30ffcf"/>
<polygon points="477.49,135.49 474.21,132.96 475.41,133.17 478.69,135.41" fill="#0000f4"/>
<polygon points="471.81,131.37 468.53,128.08 469.73,129.22 473.01,132.36" fill="#0000f4"/>
<polygon points="517.72,114.94 514.44,119.75 515.64,120.89 518.92,116.24" fill="#00cfff"/>
<polygon points="502.46,92.36 499.19,93.57 500.38,97.83 503.66,96.02" fill="#50ffaf"/>
<polygon points="506.31,80.34 503.03,78.23 504.23,80.47 507.51,81.97" fill="#afff50"/>
<polygon points="376.92,105.06 373.64,101.39 374.84,102.75 378.12,106.15" fill="#0000f4"/>
<polygon points="432.09,101.71 428.81,104.09 430.01,103.21 433.29,101.4" fill="#30ffcf"/>
<polygon points="437.14,87.35 433.86,92.04 435.06,93.29 438.34,88.97" fill="#70ff8f"/>
<polygon points="512.67,128.97 509.4,131.69 510.59,130.48 513.87,128.12" fill="#0000f4"/>
<polygon points="464.31,105.46 461.03,104.97 462.23,109.11 465.51,110.11" fill="#10ffef"/>
<polygon points="469.67,100.32 466.39,100.53 467.59,105.79 470.87,105.94" fill="#30ffcf"/>
<polygon points="507.51,81.97 504.23,80.47 505.43,82.77 508.71,83.59" fill="#afff50"/>
<polygon points="505.74,91.1 502.46,92.36 503.66,96.02 506.94,94.11" fill="#70ff8f"/>
<polygon points="396.02,112.99 392.74,112.23 393.94,110.84 397.22,111.17" fill="#0000f4"/>
<polygon points="462.23,109.11 458.95,107.92 460.15,111.33 463.43,113.05" fill="#10ffef"/>
<polygon points="486.44,137.56 483.16,136.45 484.36,135.24 487.64,136.06" fill="#0000f4"/>
<polygon points="512.62,96.67 509.34,99.9 510.53,102.62 513.81,98.85" fill="#50ffaf"/>
<polygon points="513.81,98.85 510.53,102.62 511.73,105.17 515.01,100.95" fill="#30ffcf"/>
<polygon points="511.42,94.43 508.14,97.06 509.34,99.9 512.62,96.67" fill="#50ffaf"/>
<polygon points="515.01,100.95 511.73,105.17 512.93,107.55 516.21,102.95" fill="#30ffcf"/>
<polygon points="508.71,83.59 505.43,82.77 506.63,85.1 509.91,85.22" fill="#afff50"/>
<polygon points="388.27,111.91 384.99,110.19 386.19,110.04 389.46,111.23" fill="#0000f4"/>
<polygon points="510.22,92.13 506.94,94.11 508.14,97.06 511.42,94.43" fill="#70ff8f"/>
<polygon points="437.45,95.53 434.17,98.76 435.37,99.18 438.65,96.55" fill="#50ffaf"/>
<polygon points="516.21,102.95 512.93,107.55 514.13,109.72 517.41,104.86" fill="#30ffcf"/>
<polygon points="383.79,110.16 380.51,107.74 381.71,108.28 384.99,110.19" fill="#0000f4"/>
<polygon points="438.34,88.97 435.06,93.29 436.25,94.45 439.53,90.6" fill="#70ff8f"/>
<polygon points="518.92,116.24 515.64,120.89 516.84,121.72 520.12,117.33" fill="#00cfff"/>
<polygon points="509.91,85.22 506.63,85.1 507.82,87.45 511.1,86.85" fill="#afff50"/>
<polygon points="500.76,135.35 497.48,136.16 498.67,133.86 501.95,133.1" fill="#0000f4"/>
<polygon points="509.02,89.8 505.74,91.1 506.94,94.11 510.22,92.13" fill="#8fff70"/>
<polygon points="473.01,132.36 469.73,129.22 470.93,130.05 474.21,132.96" fill="#0000f4"/>
<polygon points="466.39,100.53 463.12,100.66 464.31,105.46 467.59,105.79" fill="#30ffcf"/>
<polygon points="495.85,66.55 492.57,62.66 493.77,64.4 497.04,68.24" fill="#ffef00"/>
<polygon points="378.12,106.15 374.84,102.75 376.03,104 379.31,107.03" fill="#0000f4"/>
<polygon points="504.03,134.12 500.76,135.35 501.95,133.1 505.23,132.01" fill="#0000f4"/>
<polygon points="435.37,99.18 432.09,101.71 433.29,101.4 436.57,99.49" fill="#50ffaf"/>
<polygon points="497.99,89.23 494.71,89.83 495.91,94.71 499.19,93.57" fill="#8fff70"/>
<polygon points="501.27,88.64 497.99,89.23 499.19,93.57 502.46,92.36" fill="#8fff70"/>
<polygon points="494.71,89.83 491.43,90.42 492.63,95.77 495.91,94.71" fill="#70ff8f"/>
<polygon points="504.55,88.04 501.27,88.64 502.46,92.36 505.74,91.1" fill="#8fff70"/>
<polygon points="416.89,108.89 413.62,109.82 414.81,107.02 418.09,106.26" fill="#0000f4"/>
<polygon points="497.48,136.16 494.2,136.54 495.4,134.29 498.67,133.86" fill="#0000f4"/>
<polygon points="517.41,104.86 514.13,109.72 515.32,111.68 518.6,106.66" fill="#30ffcf"/>
<polygon points="491.43,90.42 488.15,91.02 489.35,96.75 492.63,95.77" fill="#70ff8f"/>
<polygon points="463.74,120.27 460.46,117.07 461.66,119.24 464.94,122.7" fill="#00cfff"/>
<polygon points="420.17,107.75 416.89,108.89 418.09,106.26 421.37,105.39" fill="#0000f4"/>
<polygon points="507.82,87.45 504.55,88.04 505.74,91.1 509.02,89.8" fill="#8fff70"/>
<polygon points="462.55,117.54 459.27,114.69 460.46,117.07 463.74,120.27" fill="#00efff"/>
<polygon points="413.62,109.82 410.34,110.53 411.53,107.67 414.81,107.02" fill="#0000f4"/>
<polygon points="511.1,86.85 507.82,87.45 509.02,89.8 512.3,88.48" fill="#8fff70"/>
<polygon points="488.15,91.02 484.87,91.61 486.07,97.62 489.35,96.75" fill="#70ff8f"/>
<polygon points="518.03,122.25 514.76,126.03 515.95,125.9 519.23,122.52" fill="#00cfff"/>
<polygon points="423.45,106.41 420.17,107.75 421.37,105.39 424.65,104.41" fill="#0000f4"/>
<polygon points="464.94,122.7 461.66,119.24 462.86,121.2 466.14,124.82" fill="#00cfff"/>
<polygon points="507.31,132.49 504.03,134.12 505.23,132.01 508.51,130.62" fill="#0000f4"/>
<polygon points="484.87,91.61 481.59,92.21 482.79,98.38 486.07,97.62" fill="#70ff8f"/>
<polygon points="436.82,77.26 433.55,82.46 434.74,84.09 438.02,78.95" fill="#cfff30"/>
<polygon points="461.35,114.55 458.07,112.14 459.27,114.69 462.55,117.54" fill="#10ffef"/>
<polygon points="506.63,85.1 503.35,84.99 504.55,88.04 507.82,87.45" fill="#afff50"/>
<polygon points="410.34,110.53 407.06,111.01 408.26,108.21 411.53,107.67" fill="#0000f4"/>
<polygon points="497.04,68.24 493.77,64.4 494.96,66.37 498.24,70.04" fill="#ffef00"/>
<polygon points="461.03,104.97 457.76,104.35 458.95,107.92 462.23,109.11" fill="#30ffcf"/>
<polygon points="515.95,125.9 512.67,128.97 513.87,128.12 517.15,125.47" fill="#00afff"/>
<polygon points="512.3,88.48 509.02,89.8 510.22,92.13 513.5,90.11" fill="#8fff70"/>
<polygon points="481.59,92.21 478.31,92.8 479.51,99.03 482.79,98.38" fill="#70ff8f"/>
<polygon points="392.74,112.23 389.46,111.23 390.66,110.35 393.94,110.84" fill="#0000f4"/>
<polygon points="426.73,104.89 423.45,106.41 424.65,104.41 427.93,103.35" fill="#0000f4"/>
<polygon points="518.6,106.66 515.32,111.68 516.52,113.43 519.8,108.35" fill="#30ffcf"/>
<polygon points="439.53,90.6 436.25,94.45 437.45,95.53 440.73,92.23" fill="#8fff70"/>
<polygon points="505.43,82.77 502.15,81.98 503.35,84.99 506.63,85.1" fill="#afff50"/>
<polygon points="494.2,136.54 490.92,136.5 492.12,134.39 495.4,134.29" fill="#0000f4"/>
<polygon points="478.69,135.41 475.41,133.17 476.6,133.04 479.88,134.92" fill="#0000f4"/>
<polygon points="466.14,124.82 462.86,121.2 464.06,122.95 467.34,126.61" fill="#00cfff"/>
<polygon points="478.31,92.8 475.03,93.4 476.23,99.57 479.51,99.03" fill="#70ff8f"/>
<polygon points="498.24,70.04 494.96,66.37 496.16,68.54 499.44,71.94" fill="#ffef00"/>
<polygon points="463.12,100.66 459.84,100.71 461.03,104.97 464.31,105.46" fill="#50ffaf"/>
<polygon points="407.06,111.01 403.78,111.27 404.98,108.64 408.26,108.21" fill="#0000f4"/>
<polygon points="460.15,111.33 456.87,109.42 458.07,112.14 461.35,114.55" fill="#10ffef"/>
<polygon points="504.23,80.47 500.95,79.03 502.15,81.98 505.43,82.77" fill="#cfff30"/>
<polygon points="513.5,90.11 510.22,92.13 511.42,94.43 514.7,91.74" fill="#8fff70"/>
<polygon points="503.35,84.99 500.07,84.92 501.27,88.64 504.55,88.04" fill="#afff50"/>
<polygon points="438.02,78.95 434.74,84.09 435.94,85.72 439.22,80.75" fill="#cfff30"/>
<polygon points="430.01,103.21 426.73,104.89 427.93,103.35 431.21,102.21" fill="#0000f4"/>
<polygon points="499.44,71.94 496.16,68.54 497.36,70.92 500.64,73.95" fill="#ffef00"/>
<polygon points="510.59,130.48 507.31,132.49 508.51,130.62 511.79,128.93" fill="#0000f4"/>
<polygon points="503.03,78.23 499.75,76.19 500.95,79.03 504.23,80.47" fill="#cfff30"/>
<polygon points="475.03,93.4 471.75,93.99 472.95,100 476.23,99.57" fill="#70ff8f"/>
<polygon points="483.16,136.45 479.88,134.92 481.08,134.07 484.36,135.24" fill="#0000f4"/>
<polygon points="520.12,117.33 516.84,121.72 518.03,122.25 521.31,118.21" fill="#00efff"/>
<polygon points="379.31,107.03 376.03,104 377.23,105.16 380.51,107.74" fill="#0000f4"/>
<polygon points="500.64,73.95 497.36,70.92 498.56,73.47 501.84,76.05" fill="#efff10"/>
<polygon points="501.84,76.05 498.56,73.47 499.75,76.19 503.03,78.23" fill="#efff10"/>
<polygon points="438.65,96.55 435.37,99.18 436.57,99.49 439.85,97.51" fill="#70ff8f"/>
<polygon points="449.55,177.36 446.27,178.3 447.47,181 450.75,180.05" fill="#00008f"/>
<polygon points="371.24,98.36 367.96,94.35 369.16,95.98 372.44,99.93" fill="#70ff8f"/>
<polygon points="519.8,108.35 516.52,113.43 517.72,114.94 521,109.92" fill="#30ffcf"/>
<polygon points="450.75,180.05 447.47,181 448.66,182.99 451.94,182.04" fill="#00008f"/>
<polygon points="514.7,91.74 511.42,94.43 512.62,96.67 515.89,93.37" fill="#8fff70"/>
<polygon points="403.78,111.27 400.5,111.32 401.7,108.96 404.98,108.64" fill="#0000f4"/>
<polygon points="458.95,107.92 455.67,106.58 456.87,109.42 460.15,111.33" fill="#30ffcf"/>
<polygon points="467.34,126.61 464.06,122.95 465.26,124.46 468.53,128.08" fill="#00cfff"/>
<polygon points="471.75,93.99 468.48,94.59 469.67,100.32 472.95,100" fill="#70ff8f"/>
<polygon points="500.07,84.92 496.79,84.9 497.99,89.23 501.27,88.64" fill="#afff50"/>
<polygon points="446.27,178.3 442.99,178.55 444.19,181.24 447.47,181" fill="#00008f"/>
<polygon points="474.21,132.96 470.93,130.05 472.13,130.58 475.41,133.17" fill="#0000f4"/>
<polygon points="447.47,181 444.19,181.24 445.39,183.23 448.66,182.99" fill="#00008f"/>
<polygon points="433.29,101.4 430.01,103.21 431.21,102.21 434.49,101" fill="#0000f4"/>
<polygon points="440.73,92.23 437.45,95.53 438.65,96.55 441.93,93.86" fill="#8fff70"/>
<polygon points="439.22,80.75 435.94,85.72 437.14,87.35 440.42,82.65" fill="#cfff30"/>
<polygon points="490.92,136.5 487.64,136.06 488.84,134.19 492.12,134.39" fill="#0000f4"/>
<polygon points="452.83,175.74 449.55,177.36 450.75,180.05 454.02,178.39" fill="#0000af"/>
<polygon points="384.99,110.19 381.71,108.28 382.91,108.7 386.19,110.04" fill="#0000f4"/>
<polygon points="454.02,178.39 450.75,180.05 451.94,182.04 455.22,180.36" fill="#00008f"/>
<polygon points="515.89,93.37 512.62,96.67 513.81,98.85 517.09,95" fill="#8fff70"/>
<polygon points="502.15,81.98 498.87,81.26 500.07,84.92 503.35,84.99" fill="#cfff30"/>
<polygon points="459.84,100.71 456.56,100.69 457.76,104.35 461.03,104.97" fill="#50ffaf"/>
<polygon points="448.35,173.98 445.07,174.9 446.27,178.3 449.55,177.36" fill="#0000af"/>
<polygon points="468.48,94.59 465.2,95.18 466.39,100.53 469.67,100.32" fill="#70ff8f"/>
<polygon points="496.79,84.9 493.51,84.95 494.71,89.83 497.99,89.23" fill="#afff50"/>
<polygon points="372.44,99.93 369.16,95.98 370.36,97.61 373.64,101.39" fill="#70ff8f"/>
<polygon points="400.5,111.32 397.22,111.17 398.42,109.17 401.7,108.96" fill="#0000f4"/>
<polygon points="513.87,128.12 510.59,130.48 511.79,128.93 515.07,126.97" fill="#0000f4"/>
<polygon points="445.07,174.9 441.79,175.17 442.99,178.55 446.27,178.3" fill="#0000af"/>
<polygon points="389.46,111.23 386.19,110.04 387.38,109.73 390.66,110.35" fill="#0000f4"/>
<polygon points="440.42,82.65 437.14,87.35 438.34,88.97 441.62,84.66" fill="#cfff30"/>
<polygon points="521,109.92 517.72,114.94 518.92,116.24 522.2,111.38" fill="#30ffcf"/>
<polygon points="457.76,104.35 454.48,103.63 455.67,106.58 458.95,107.92" fill="#50ffaf"/>
<polygon points="436.57,99.49 433.29,101.4 434.49,101 437.77,99.73" fill="#70ff8f"/>
<polygon points="517.09,95 513.81,98.85 515.01,100.95 518.29,96.63" fill="#70ff8f"/>
<polygon points="451.63,172.43 448.35,173.98 449.55,177.36 452.83,175.74" fill="#0000af"/>
<polygon points="465.2,95.18 461.92,95.78 463.12,100.66 466.39,100.53" fill="#70ff8f"/>
<polygon points="468.53,128.08 465.26,124.46 466.45,125.76 469.73,129.22" fill="#0000f4"/>
<polygon points="442.99,178.55 439.71,178.12 440.91,180.77 444.19,181.24" fill="#0000af"/>
<polygon points="519.23,122.52 515.95,125.9 517.15,125.47 520.43,122.56" fill="#00efff"/>
<polygon points="444.19,181.24 440.91,180.77 442.11,182.74 445.39,183.23" fill="#00008f"/>
<polygon points="493.51,84.95 490.23,85.07 491.43,90.42 494.71,89.83" fill="#afff50"/>
<polygon points="380.51,107.74 377.23,105.16 378.43,106.24 381.71,108.28" fill="#0000f4"/>
<polygon points="441.93,93.86 438.65,96.55 439.85,97.51 443.13,95.49" fill="#8fff70"/>
<polygon points="441.62,84.66 438.34,88.97 439.53,90.6 442.81,86.76" fill="#afff50"/>
<polygon points="456.11,173.46 452.83,175.74 454.02,178.39 457.3,176.05" fill="#0000af"/>
<polygon points="500.95,79.03 497.67,77.69 498.87,81.26 502.15,81.98" fill="#efff10"/>
<polygon points="518.29,96.63 515.01,100.95 516.21,102.95 519.49,98.26" fill="#70ff8f"/>
<polygon points="457.3,176.05 454.02,178.39 455.22,180.36 458.5,178" fill="#0000af"/>
<polygon points="521.31,118.21 518.03,122.25 519.23,122.52 522.51,118.91" fill="#10ffef"/>
<polygon points="461.92,95.78 458.64,96.37 459.84,100.71 463.12,100.66" fill="#8fff70"/>
<polygon points="373.64,101.39 370.36,97.61 371.56,99.24 374.84,102.75" fill="#70ff8f"/>
<polygon points="487.64,136.06 484.36,135.24 485.56,133.69 488.84,134.19" fill="#0000f4"/>
<polygon points="439.85,97.51 436.57,99.49 437.77,99.73 441.05,98.44" fill="#8fff70"/>
<polygon points="397.22,111.17 393.94,110.84 395.14,109.3 398.42,109.17" fill="#0000f4"/>
<polygon points="490.23,85.07 486.95,85.29 488.15,91.02 491.43,90.42" fill="#cfff30"/>
<polygon points="498.87,81.26 495.59,80.63 496.79,84.9 500.07,84.92" fill="#cfff30"/>
<polygon points="441.79,175.17 438.51,174.81 439.71,178.12 442.99,178.55" fill="#0000af"/>
<polygon points="456.56,100.69 453.28,100.61 454.48,103.63 457.76,104.35" fill="#70ff8f"/>
<polygon points="447.15,169.97 443.87,170.86 445.07,174.9 448.35,173.98" fill="#0000cf"/>
<polygon points="442.81,86.76 439.53,90.6 440.73,92.23 444.01,88.94" fill="#afff50"/>
<polygon points="522.2,111.38 518.92,116.24 520.12,117.33 523.39,112.73" fill="#30ffcf"/>
<polygon points="454.91,170.26 451.63,172.43 452.83,175.74 456.11,173.46" fill="#0000cf"/>
<polygon points="519.49,98.26 516.21,102.95 517.41,104.86 520.69,99.89" fill="#70ff8f"/>
<polygon points="479.88,134.92 476.6,133.04 477.8,132.61 481.08,134.07" fill="#0000f4"/>
<polygon points="443.87,170.86 440.59,171.16 441.79,175.17 445.07,174.9" fill="#0000cf"/>
<polygon points="458.64,96.37 455.36,96.97 456.56,100.69 459.84,100.71" fill="#8fff70"/>
<polygon points="486.95,85.29 483.67,85.61 484.87,91.61 488.15,91.02" fill="#cfff30"/>
<polygon points="450.43,168.51 447.15,169.97 448.35,173.98 451.63,172.43" fill="#0000cf"/>
<polygon points="517.15,125.47 513.87,128.12 515.07,126.97 518.35,124.78" fill="#0000f4"/>
<polygon points="499.75,76.19 496.48,74.27 497.67,77.69 500.95,79.03" fill="#ffef00"/>
<polygon points="444.01,88.94 440.73,92.23 441.93,93.86 445.21,91.18" fill="#afff50"/>
<polygon points="475.41,133.17 472.13,130.58 473.33,130.85 476.6,133.04" fill="#0000f4"/>
<polygon points="469.73,129.22 466.45,125.76 467.65,126.84 470.93,130.05" fill="#0000f4"/>
<polygon points="443.13,95.49 439.85,97.51 441.05,98.44 444.32,97.12" fill="#8fff70"/>
<polygon points="456.87,109.42 453.59,107.38 454.79,109.56 458.07,112.14" fill="#50ffaf"/>
<polygon points="458.07,112.14 454.79,109.56 455.99,111.66 459.27,114.69" fill="#30ffcf"/>
<polygon points="374.84,102.75 371.56,99.24 372.76,100.87 376.03,104" fill="#70ff8f"/>
<polygon points="483.67,85.61 480.39,86.04 481.59,92.21 484.87,91.61" fill="#cfff30"/>
<polygon points="455.67,106.58 452.39,105.14 453.59,107.38 456.87,109.42" fill="#50ffaf"/>
<polygon points="459.27,114.69 455.99,111.66 457.19,113.66 460.46,117.07" fill="#30ffcf"/>
<polygon points="386.19,110.04 382.91,108.7 384.1,109.01 387.38,109.73" fill="#0000f4"/>
<polygon points="520.69,99.89 517.41,104.86 518.6,106.66 521.88,101.52" fill="#70ff8f"/>
<polygon points="393.94,110.84 390.66,110.35 391.86,109.35 395.14,109.3" fill="#0000f4"/>
<polygon points="455.36,96.97 452.08,97.56 453.28,100.61 456.56,100.69" fill="#8fff70"/>
<polygon points="445.21,91.18 441.93,93.86 443.13,95.49 446.41,93.48" fill="#afff50"/>
<polygon points="439.71,178.12 436.43,177.03 437.63,179.62 440.91,180.77" fill="#0000af"/>
<polygon points="454.48,103.63 451.2,102.84 452.39,105.14 455.67,106.58" fill="#70ff8f"/>
<polygon points="498.56,73.47 495.28,71.05 496.48,74.27 499.75,76.19" fill="#ffcf00"/>
<polygon points="495.59,80.63 492.31,80.15 493.51,84.95 496.79,84.9" fill="#efff10"/>
<polygon points="440.91,180.77 437.63,179.62 438.83,181.57 442.11,182.74" fill="#0000af"/>
<polygon points="381.71,108.28 378.43,106.24 379.63,107.26 382.91,108.7" fill="#0000f4"/>
<polygon points="460.46,117.07 457.19,113.66 458.38,115.57 461.66,119.24" fill="#30ffcf"/>
<polygon points="480.39,86.04 477.12,86.57 478.31,92.8 481.59,92.21" fill="#cfff30"/>
<polygon points="492.57,62.66 489.29,58.99 490.49,60.79 493.77,64.4" fill="#ff8f00"/>
<polygon points="440.59,171.16 437.32,170.89 438.51,174.81 441.79,175.17" fill="#0000cf"/>
<polygon points="453.28,100.61 450,100.51 451.2,102.84 454.48,103.63" fill="#8fff70"/>
<polygon points="453.71,166.48 450.43,168.51 451.63,172.43 454.91,170.26" fill="#0000ef"/>
<polygon points="505.23,132.01 501.95,133.1 503.15,130.52 506.43,129.59" fill="#0000f4"/>
<polygon points="440.1,72.18 436.82,77.26 438.02,78.95 441.3,73.92" fill="#ffef00"/>
<polygon points="501.95,133.1 498.67,133.86 499.87,131.22 503.15,130.52" fill="#0000f4"/>
<polygon points="459.38,170.58 456.11,173.46 457.3,176.05 460.58,173.08" fill="#0000cf"/>
<polygon points="523.39,112.73 520.12,117.33 521.31,118.21 524.59,113.99" fill="#30ffcf"/>
<polygon points="477.12,86.57 473.84,87.23 475.03,93.4 478.31,92.8" fill="#cfff30"/>
<polygon points="446.41,93.48 443.13,95.49 444.32,97.12 447.6,95.81" fill="#afff50"/>
<polygon points="497.67,77.69 494.39,76.5 495.59,80.63 498.87,81.26" fill="#ffef00"/>
<polygon points="460.58,173.08 457.3,176.05 458.5,178 461.78,175" fill="#0000cf"/>
<polygon points="484.36,135.24 481.08,134.07 482.28,132.92 485.56,133.69" fill="#0000f4"/>
<polygon points="431.21,102.21 427.93,103.35 429.13,101.73 432.41,101.13" fill="#0000f4"/>
<polygon points="461.66,119.24 458.38,115.57 459.58,117.37 462.86,121.2" fill="#30ffcf"/>
<polygon points="434.49,101 431.21,102.21 432.41,101.13 435.69,100.54" fill="#0000f4"/>
<polygon points="438.51,174.81 435.23,173.83 436.43,177.03 439.71,178.12" fill="#0000cf"/>
<polygon points="427.93,103.35 424.65,104.41 425.85,102.32 429.13,101.73" fill="#0000f4"/>
<polygon points="452.08,97.56 448.8,98.16 450,100.51 453.28,100.61" fill="#8fff70"/>
<polygon points="497.36,70.92 494.08,68.06 495.28,71.05 498.56,73.47" fill="#ffcf00"/>
<polygon points="508.51,130.62 505.23,132.01 506.43,129.59 509.71,128.45" fill="#0000f4"/>
<polygon points="437.77,99.73 434.49,101 435.69,100.54 438.96,99.94" fill="#8fff70"/>
<polygon points="521.88,101.52 518.6,106.66 519.8,108.35 523.08,103.15" fill="#70ff8f"/>
<polygon points="498.67,133.86 495.4,134.29 496.59,131.71 499.87,131.22" fill="#0000f4"/>
<polygon points="473.84,87.23 470.56,87.99 471.75,93.99 475.03,93.4" fill="#cfff30"/>
<polygon points="424.65,104.41 421.37,105.39 422.57,102.92 425.85,102.32" fill="#0000f4"/>
<polygon points="441.05,98.44 437.77,99.73 438.96,99.94 442.24,99.35" fill="#8fff70"/>
<polygon points="493.77,64.4 490.49,60.79 491.68,62.91 494.96,66.37" fill="#ff8f00"/>
<polygon points="376.03,104 372.76,100.87 373.95,102.5 377.23,105.16" fill="#70ff8f"/>
<polygon points="444.32,97.12 441.05,98.44 442.24,99.35 445.52,98.75" fill="#8fff70"/>
<polygon points="522.51,118.91 519.23,122.52 520.43,122.56 523.71,119.46" fill="#10ffef"/>
<polygon points="421.37,105.39 418.09,106.26 419.29,103.51 422.57,102.92" fill="#0000f4"/>
<polygon points="470.56,87.99 467.28,88.86 468.48,94.59 471.75,93.99" fill="#cfff30"/>
<polygon points="458.19,167.52 454.91,170.26 456.11,173.46 459.38,170.58" fill="#0000ef"/>
<polygon points="447.6,95.81 444.32,97.12 445.52,98.75 448.8,98.16" fill="#afff50"/>
<polygon points="496.16,68.54 492.88,65.34 494.08,68.06 497.36,70.92" fill="#ffaf00"/>
<polygon points="450.88,94.51 447.6,95.81 448.8,98.16 452.08,97.56" fill="#afff50"/>
<polygon points="494.96,66.37 491.68,62.91 492.88,65.34 496.16,68.54" fill="#ffaf00"/>
<polygon points="467.28,88.86 464,89.83 465.2,95.18 468.48,94.59" fill="#cfff30"/>
<polygon points="441.3,73.92 438.02,78.95 439.22,80.75 442.5,75.89" fill="#ffef00"/>
<polygon points="418.09,106.26 414.81,107.02 416.01,104.11 419.29,103.51" fill="#0000f4"/>
<polygon points="454.16,93.25 450.88,94.51 452.08,97.56 455.36,96.97" fill="#afff50"/>
<polygon points="464,89.83 460.72,90.9 461.92,95.78 465.2,95.18" fill="#afff50"/>
<polygon points="457.44,92.04 454.16,93.25 455.36,96.97 458.64,96.37" fill="#afff50"/>
<polygon points="445.95,165.38 442.68,166.23 443.87,170.86 447.15,169.97" fill="#0010ff"/>
<polygon points="460.72,90.9 457.44,92.04 458.64,96.37 461.92,95.78" fill="#afff50"/>
<polygon points="520.43,122.56 517.15,125.47 518.35,124.78 521.63,122.4" fill="#10ffef"/>
<polygon points="390.66,110.35 387.38,109.73 388.58,109.33 391.86,109.35" fill="#0000f4"/>
<polygon points="511.79,128.93 508.51,130.62 509.71,128.45 512.99,127.11" fill="#0000f4"/>
<polygon points="462.86,121.2 459.58,117.37 460.78,119.05 464.06,122.95" fill="#30ffcf"/>
<polygon points="492.31,80.15 489.03,79.81 490.23,85.07 493.51,84.95" fill="#efff10"/>
<polygon points="414.81,107.02 411.53,107.67 412.73,104.7 416.01,104.11" fill="#0000f4"/>
<polygon points="470.93,130.05 467.65,126.84 468.85,127.73 472.13,130.58" fill="#0000f4"/>
<polygon points="495.4,134.29 492.12,134.39 493.31,131.97 496.59,131.71" fill="#0000f4"/>
<polygon points="449.69,91.5 446.41,93.48 447.6,95.81 450.88,94.51" fill="#afff50"/>
<polygon points="448.8,98.16 445.52,98.75 446.72,100.38 450,100.51" fill="#8fff70"/>
<polygon points="449.23,164.03 445.95,165.38 447.15,169.97 450.43,168.51" fill="#0010ff"/>
<polygon points="442.68,166.23 439.4,166.57 440.59,171.16 443.87,170.86" fill="#0010ff"/>
<polygon points="442.5,75.89 439.22,80.75 440.42,82.65 443.7,78.06" fill="#ffef00"/>
<polygon points="523.08,103.15 519.8,108.35 521,109.92 524.28,104.78" fill="#70ff8f"/>
<polygon points="411.53,107.67 408.26,108.21 409.45,105.3 412.73,104.7" fill="#0000f4"/>
<polygon points="448.49,88.55 445.21,91.18 446.41,93.48 449.69,91.5" fill="#cfff30"/>
<polygon points="450,100.51 446.72,100.38 447.92,102.01 451.2,102.84" fill="#8fff70"/>
<polygon points="443.7,78.06 440.42,82.65 441.62,84.66 444.89,80.43" fill="#ffef00"/>
<polygon points="447.29,85.7 444.01,88.94 445.21,91.18 448.49,88.55" fill="#cfff30"/>
<polygon points="377.23,105.16 373.95,102.5 375.15,104.13 378.43,106.24" fill="#8fff70"/>
<polygon points="437.32,170.89 434.04,170.05 435.23,173.83 438.51,174.81" fill="#0000ef"/>
<polygon points="444.89,80.43 441.62,84.66 442.81,86.76 446.09,82.99" fill="#efff10"/>
<polygon points="446.09,82.99 442.81,86.76 444.01,88.94 447.29,85.7" fill="#efff10"/>
<polygon points="408.26,108.21 404.98,108.64 406.17,105.89 409.45,105.3" fill="#0000f4"/>
<polygon points="524.59,113.99 521.31,118.21 522.51,118.91 525.79,115.15" fill="#30ffcf"/>
<polygon points="456.99,163.94 453.71,166.48 454.91,170.26 458.19,167.52" fill="#0010ff"/>
<polygon points="382.91,108.7 379.63,107.26 380.83,108.22 384.1,109.01" fill="#70ff8f"/>
<polygon points="445.52,98.75 442.24,99.35 443.44,100.26 446.72,100.38" fill="#afff50"/>
<polygon points="496.48,74.27 493.2,72.56 494.39,76.5 497.67,77.69" fill="#ffcf00"/>
<polygon points="515.07,126.97 511.79,128.93 512.99,127.11 516.27,125.59" fill="#0000f4"/>
<polygon points="464.06,122.95 460.78,119.05 461.98,120.63 465.26,124.46" fill="#30ffcf"/>
<polygon points="452.96,89.58 449.69,91.5 450.88,94.51 454.16,93.25" fill="#cfff30"/>
<polygon points="492.12,134.39 488.84,134.19 490.04,132.02 493.31,131.97" fill="#0000f4"/>
<polygon points="476.6,133.04 473.33,130.85 474.52,130.89 477.8,132.61" fill="#0000f4"/>
<polygon points="451.2,102.84 447.92,102.01 449.12,103.64 452.39,105.14" fill="#8fff70"/>
<polygon points="489.03,79.81 485.75,79.66 486.95,85.29 490.23,85.07" fill="#ffef00"/>
<polygon points="452.51,162.18 449.23,164.03 450.43,168.51 453.71,166.48" fill="#0030ff"/>
<polygon points="439.4,166.57 436.12,166.41 437.32,170.89 440.59,171.16" fill="#0010ff"/>
<polygon points="404.98,108.64 401.7,108.96 402.9,106.49 406.17,105.89" fill="#0000f4"/>
<polygon points="494.39,76.5 491.12,75.5 492.31,80.15 495.59,80.63" fill="#ffcf00"/>
<polygon points="524.28,104.78 521,109.92 522.2,111.38 525.48,106.41" fill="#70ff8f"/>
<polygon points="387.38,109.73 384.1,109.01 385.3,109.25 388.58,109.33" fill="#0000f4"/>
<polygon points="436.43,177.03 433.15,175.33 434.35,177.84 437.63,179.62" fill="#0000cf"/>
<polygon points="437.63,179.62 434.35,177.84 435.55,179.76 438.83,181.57" fill="#0000cf"/>
<polygon points="452.39,105.14 449.12,103.64 450.31,105.27 453.59,107.38" fill="#8fff70"/>
<polygon points="442.24,99.35 438.96,99.94 440.16,100.15 443.44,100.26" fill="#afff50"/>
<polygon points="481.08,134.07 477.8,132.61 479,131.92 482.28,132.92" fill="#0000f4"/>
<polygon points="401.7,108.96 398.42,109.17 399.62,107.08 402.9,106.49" fill="#0000f4"/>
<polygon points="456.24,87.77 452.96,89.58 454.16,93.25 457.44,92.04" fill="#cfff30"/>
<polygon points="462.66,167.13 459.38,170.58 460.58,173.08 463.86,169.52" fill="#0010ff"/>
<polygon points="378.43,106.24 375.15,104.13 376.35,105.76 379.63,107.26" fill="#8fff70"/>
<polygon points="435.23,173.83 431.95,172.28 433.15,175.33 436.43,177.03" fill="#0000ef"/>
<polygon points="485.75,79.66 482.48,79.71 483.67,85.61 486.95,85.29" fill="#ffef00"/>
<polygon points="465.26,124.46 461.98,120.63 463.17,122.09 466.45,125.76" fill="#0000f4"/>
<polygon points="518.35,124.78 515.07,126.97 516.27,125.59 519.55,123.91" fill="#0000f4"/>
<polygon points="451.77,86.02 448.49,88.55 449.69,91.5 452.96,89.58" fill="#efff10"/>
<polygon points="463.86,169.52 460.58,173.08 461.78,175 465.06,171.41" fill="#0010ff"/>
<polygon points="523.71,119.46 520.43,122.56 521.63,122.4 524.91,119.87" fill="#30ffcf"/>
<polygon points="453.59,107.38 450.31,105.27 451.51,106.9 454.79,109.56" fill="#8fff70"/>
<polygon points="472.13,130.58 468.85,127.73 470.05,128.43 473.33,130.85" fill="#0000f4"/>
<polygon points="446.72,100.38 443.44,100.26 444.64,101.19 447.92,102.01" fill="#afff50"/>
<polygon points="461.47,164.25 458.19,167.52 459.38,170.58 462.66,167.13" fill="#0030ff"/>
<polygon points="495.28,71.05 492,68.87 493.2,72.56 496.48,74.27" fill="#ffaf00"/>
<polygon points="525.48,106.41 522.2,111.38 523.39,112.73 526.67,108.04" fill="#70ff8f"/>
<polygon points="488.84,134.19 485.56,133.69 486.76,131.87 490.04,132.02" fill="#0000f4"/>
<polygon points="398.42,109.17 395.14,109.3 396.34,107.68 399.62,107.08" fill="#0000f4"/>
<polygon points="438.96,99.94 435.69,100.54 436.88,100.08 440.16,100.15" fill="#0000f4"/>
<polygon points="459.52,86.09 456.24,87.77 457.44,92.04 460.72,90.9" fill="#efff10"/>
<polygon points="525.79,115.15 522.51,118.91 523.71,119.46 526.99,116.23" fill="#50ffaf"/>
<polygon points="455.79,159.88 452.51,162.18 453.71,166.48 456.99,163.94" fill="#0050ff"/>
<polygon points="482.48,79.71 479.2,79.98 480.39,86.04 483.67,85.61" fill="#ffef00"/>
<polygon points="454.79,109.56 451.51,106.9 452.71,108.53 455.99,111.66" fill="#70ff8f"/>
<polygon points="436.12,166.41 432.84,165.75 434.04,170.05 437.32,170.89" fill="#0030ff"/>
<polygon points="444.76,160.29 441.48,161.1 442.68,166.23 445.95,165.38" fill="#0050ff"/>
<polygon points="384.1,109.01 380.83,108.22 382.02,109.15 385.3,109.25" fill="#8fff70"/>
<polygon points="395.14,109.3 391.86,109.35 393.06,108.27 396.34,107.68" fill="#0000f4"/>
<polygon points="450.57,82.6 447.29,85.7 448.49,88.55 451.77,86.02" fill="#ffef00"/>
<polygon points="448.04,159.06 444.76,160.29 445.95,165.38 449.23,164.03" fill="#0050ff"/>
<polygon points="462.8,84.57 459.52,86.09 460.72,90.9 464,89.83" fill="#efff10"/>
<polygon points="491.12,75.5 487.84,74.74 489.03,79.81 492.31,80.15" fill="#ffcf00"/>
<polygon points="435.69,100.54 432.41,101.13 433.6,100.06 436.88,100.08" fill="#0000f4"/>
<polygon points="441.48,161.1 438.2,161.48 439.4,166.57 442.68,166.23" fill="#0050ff"/>
<polygon points="434.04,170.05 430.76,168.7 431.95,172.28 435.23,173.83" fill="#0010ff"/>
<polygon points="379.63,107.26 376.35,105.76 377.55,107.39 380.83,108.22" fill="#8fff70"/>
<polygon points="460.27,160.92 456.99,163.94 458.19,167.52 461.47,164.25" fill="#0050ff"/>
<polygon points="479.2,79.98 475.92,80.46 477.12,86.57 480.39,86.04" fill="#ffef00"/>
<polygon points="466.45,125.76 463.17,122.09 464.37,123.44 467.65,126.84" fill="#0000f4"/>
<polygon points="521.63,122.4 518.35,124.78 519.55,123.91 522.83,122.1" fill="#30ffcf"/>
<polygon points="494.08,68.06 490.8,65.48 492,68.87 495.28,71.05" fill="#ff8f00"/>
<polygon points="526.67,108.04 523.39,112.73 524.59,113.99 527.87,109.67" fill="#70ff8f"/>
<polygon points="455.99,111.66 452.71,108.53 453.91,110.16 457.19,113.66" fill="#70ff8f"/>
<polygon points="466.08,83.23 462.8,84.57 464,89.83 467.28,88.86" fill="#ffef00"/>
<polygon points="447.92,102.01 444.64,101.19 445.84,102.15 449.12,103.64" fill="#afff50"/>
<polygon points="493.2,72.56 489.92,71.09 491.12,75.5 494.39,76.5" fill="#ffaf00"/>
<polygon points="455.05,83.64 451.77,86.02 452.96,89.58 456.24,87.77" fill="#ffef00"/>
<polygon points="475.92,80.46 472.64,81.17 473.84,87.23 477.12,86.57" fill="#ffef00"/>
<polygon points="391.86,109.35 388.58,109.33 389.78,108.87 393.06,108.27" fill="#0000f4"/>
<polygon points="469.36,82.09 466.08,83.23 467.28,88.86 470.56,87.99" fill="#ffef00"/>
<polygon points="472.64,81.17 469.36,82.09 470.56,87.99 473.84,87.23" fill="#ffef00"/>
<polygon points="432.41,101.13 429.13,101.73 430.33,100.11 433.6,100.06" fill="#0000f4"/>
<polygon points="451.31,157.43 448.04,159.06 449.23,164.03 452.51,162.18" fill="#0050ff"/>
<polygon points="443.44,100.26 440.16,100.15 441.36,100.39 444.64,101.19" fill="#afff50"/>
<polygon points="449.37,79.38 446.09,82.99 447.29,85.7 450.57,82.6" fill="#ffcf00"/>
<polygon points="485.56,133.69 482.28,132.92 483.48,131.54 486.76,131.87" fill="#0000f4"/>
<polygon points="443.38,67.32 440.1,72.18 441.3,73.92 444.58,69.12" fill="#ff8f00"/>
<polygon points="438.2,161.48 434.92,161.44 436.12,166.41 439.4,166.57" fill="#0050ff"/>
<polygon points="489.29,58.99 486.01,55.66 487.21,57.5 490.49,60.79" fill="#ff5000"/>
<polygon points="457.19,113.66 453.91,110.16 455.1,111.79 458.38,115.57" fill="#70ff8f"/>
<polygon points="492.88,65.34 489.6,62.43 490.8,65.48 494.08,68.06" fill="#ff7000"/>
<polygon points="477.8,132.61 474.52,130.89 475.72,130.73 479,131.92" fill="#0000f4"/>
<polygon points="448.17,76.39 444.89,80.43 446.09,82.99 449.37,79.38" fill="#ffcf00"/>
<polygon points="388.58,109.33 385.3,109.25 386.5,109.46 389.78,108.87" fill="#0000f4"/>
<polygon points="429.13,101.73 425.85,102.32 427.05,100.23 430.33,100.11" fill="#0000f4"/>
<polygon points="444.58,69.12 441.3,73.92 442.5,75.89 445.78,71.24" fill="#ff8f00"/>
<polygon points="526.99,116.23 523.71,119.46 524.91,119.87 528.19,117.24" fill="#50ffaf"/>
<polygon points="490.49,60.79 487.21,57.5 488.41,59.76 491.68,62.91" fill="#ff5000"/>
<polygon points="380.83,108.22 377.55,107.39 378.74,109.02 382.02,109.15" fill="#8fff70"/>
<polygon points="473.33,130.85 470.05,128.43 471.24,128.98 474.52,130.89" fill="#0000f4"/>
<polygon points="527.87,109.67 524.59,113.99 525.79,115.15 529.07,111.3" fill="#70ff8f"/>
<polygon points="491.68,62.91 488.41,59.76 489.6,62.43 492.88,65.34" fill="#ff5000"/>
<polygon points="487.84,74.74 484.56,74.24 485.75,79.66 489.03,79.81" fill="#ffaf00"/>
<polygon points="446.98,73.67 443.7,78.06 444.89,80.43 448.17,76.39" fill="#ffaf00"/>
<polygon points="445.78,71.24 442.5,75.89 443.7,78.06 446.98,73.67" fill="#ffaf00"/>
<polygon points="459.07,157.17 455.79,159.88 456.99,163.94 460.27,160.92" fill="#0070ff"/>
<polygon points="449.12,103.64 445.84,102.15 447.03,103.16 450.31,105.27" fill="#afff50"/>
<polygon points="467.65,126.84 464.37,123.44 465.57,124.69 468.85,127.73" fill="#0000f4"/>
<polygon points="433.15,175.33 429.87,173.08 431.07,175.47 434.35,177.84" fill="#0010ff"/>
<polygon points="458.38,115.57 455.1,111.79 456.3,113.42 459.58,117.37" fill="#70ff8f"/>
<polygon points="524.91,119.87 521.63,122.4 522.83,122.1 526.1,120.19" fill="#50ffaf"/>
<polygon points="458.32,81.45 455.05,83.64 456.24,87.77 459.52,86.09" fill="#ffcf00"/>
<polygon points="425.85,102.32 422.57,102.92 423.77,100.45 427.05,100.23" fill="#0000f4"/>
<polygon points="432.84,165.75 429.56,164.64 430.76,168.7 434.04,170.05" fill="#0050ff"/>
<polygon points="506.43,129.59 503.15,130.52 504.35,127.72 507.63,126.95" fill="#0000f4"/>
<polygon points="454.59,155.42 451.31,157.43 452.51,162.18 455.79,159.88" fill="#0070ff"/>
<polygon points="509.71,128.45 506.43,129.59 507.63,126.95 510.91,126.08" fill="#0000f4"/>
<polygon points="385.3,109.25 382.02,109.15 383.22,110.06 386.5,109.46" fill="#8fff70"/>
<polygon points="434.35,177.84 431.07,175.47 432.27,177.36 435.55,179.76" fill="#0010ff"/>
<polygon points="503.15,130.52 499.87,131.22 501.07,128.37 504.35,127.72" fill="#0000f4"/>
<polygon points="453.85,79.7 450.57,82.6 451.77,86.02 455.05,83.64" fill="#ffcf00"/>
<polygon points="431.95,172.28 428.68,170.2 429.87,173.08 433.15,175.33" fill="#0030ff"/>
<polygon points="465.94,163.2 462.66,167.13 463.86,169.52 467.14,165.46" fill="#0050ff"/>
<polygon points="512.99,127.11 509.71,128.45 510.91,126.08 514.19,125.11" fill="#0000f4"/>
<polygon points="440.16,100.15 436.88,100.08 438.08,99.67 441.36,100.39" fill="#0000f4"/>
<polygon points="434.92,161.44 431.64,161 432.84,165.75 436.12,166.41" fill="#0050ff"/>
<polygon points="499.87,131.22 496.59,131.71 497.79,128.91 501.07,128.37" fill="#0000f4"/>
<polygon points="492,68.87 488.72,66.98 489.92,71.09 493.2,72.56" fill="#ff7000"/>
<polygon points="464.75,160.53 461.47,164.25 462.66,167.13 465.94,163.2" fill="#0050ff"/>
<polygon points="422.57,102.92 419.29,103.51 420.49,100.77 423.77,100.45" fill="#0000f4"/>
<polygon points="467.14,165.46 463.86,169.52 465.06,171.41 468.34,167.3" fill="#0050ff"/>
<polygon points="482.28,132.92 479,131.92 480.2,131.05 483.48,131.54" fill="#0000f4"/>
<polygon points="459.58,117.37 456.3,113.42 457.5,115.05 460.78,119.05" fill="#70ff8f"/>
<polygon points="516.27,125.59 512.99,127.11 514.19,125.11 517.47,124.05" fill="#0000f4"/>
<polygon points="529.07,111.3 525.79,115.15 526.99,116.23 530.27,112.93" fill="#8fff70"/>
<polygon points="489.92,71.09 486.64,69.92 487.84,74.74 491.12,75.5" fill="#ff8f00"/>
<polygon points="382.02,109.15 378.74,109.02 379.94,110.65 383.22,110.06" fill="#8fff70"/>
<polygon points="444.64,101.19 441.36,100.39 442.56,100.71 445.84,102.15" fill="#cfff30"/>
<polygon points="484.56,74.24 481.28,74.03 482.48,79.71 485.75,79.66" fill="#ffaf00"/>
<polygon points="419.29,103.51 416.01,104.11 417.21,101.19 420.49,100.77" fill="#0000f4"/>
<polygon points="496.59,131.71 493.31,131.97 494.51,129.33 497.79,128.91" fill="#0000f4"/>
<polygon points="450.31,105.27 447.03,103.16 448.23,104.24 451.51,106.9" fill="#afff50"/>
<polygon points="461.6,79.5 458.32,81.45 459.52,86.09 462.8,84.57" fill="#ffcf00"/>
<polygon points="463.55,157.49 460.27,160.92 461.47,164.25 464.75,160.53" fill="#0070ff"/>
<polygon points="430.76,168.7 427.48,166.87 428.68,170.2 431.95,172.28" fill="#0050ff"/>
<polygon points="519.55,123.91 516.27,125.59 517.47,124.05 520.74,122.9" fill="#0000f4"/>
<polygon points="443.56,154.77 440.28,155.53 441.48,161.1 444.76,160.29" fill="#008fff"/>
<polygon points="416.01,104.11 412.73,104.7 413.93,101.73 417.21,101.19" fill="#0000f4"/>
<polygon points="446.84,153.69 443.56,154.77 444.76,160.29 448.04,159.06" fill="#008fff"/>
<polygon points="468.85,127.73 465.57,124.69 466.77,125.86 470.05,128.43" fill="#0000f4"/>
<polygon points="528.19,117.24 524.91,119.87 526.1,120.19 529.38,118.2" fill="#70ff8f"/>
<polygon points="452.65,76.01 449.37,79.38 450.57,82.6 453.85,79.7" fill="#ffaf00"/>
<polygon points="460.78,119.05 457.5,115.05 458.7,116.68 461.98,120.63" fill="#70ff8f"/>
<polygon points="440.28,155.53 437,155.96 438.2,161.48 441.48,161.1" fill="#008fff"/>
<polygon points="412.73,104.7 409.45,105.3 410.65,102.38 413.93,101.73" fill="#0000f4"/>
<polygon points="493.31,131.97 490.04,132.02 491.23,129.65 494.51,129.33" fill="#0000f4"/>
<polygon points="436.88,100.08 433.6,100.06 434.8,99.05 438.08,99.67" fill="#0000f4"/>
<polygon points="457.87,153.06 454.59,155.42 455.79,159.88 459.07,157.17" fill="#008fff"/>
<polygon points="481.28,74.03 478,74.14 479.2,79.98 482.48,79.71" fill="#ff8f00"/>
<polygon points="450.12,152.29 446.84,153.69 448.04,159.06 451.31,157.43" fill="#008fff"/>
<polygon points="464.88,77.81 461.6,79.5 462.8,84.57 466.08,83.23" fill="#ffaf00"/>
<polygon points="409.45,105.3 406.17,105.89 407.37,103.15 410.65,102.38" fill="#0000f4"/>
<polygon points="522.83,122.1 519.55,123.91 520.74,122.9 524.02,121.69" fill="#0000f4"/>
<polygon points="530.27,112.93 526.99,116.23 528.19,117.24 531.46,114.56" fill="#8fff70"/>
<polygon points="490.8,65.48 487.52,63.23 488.72,66.98 492,68.87" fill="#ff5000"/>
<polygon points="474.52,130.89 471.24,128.98 472.44,129.39 475.72,130.73" fill="#0000f4"/>
<polygon points="406.17,105.89 402.9,106.49 404.09,104.02 407.37,103.15" fill="#0000f4"/>
<polygon points="457.13,77.04 453.85,79.7 455.05,83.64 458.32,81.45" fill="#ffaf00"/>
<polygon points="383.22,110.06 379.94,110.65 381.14,112.28 384.42,110.97" fill="#afff50"/>
<polygon points="451.51,106.9 448.23,104.24 449.43,105.41 452.71,108.53" fill="#afff50"/>
<polygon points="386.5,109.46 383.22,110.06 384.42,110.97 387.7,109.67" fill="#afff50"/>
<polygon points="402.9,106.49 399.62,107.08 400.81,104.99 404.09,104.02" fill="#0000f4"/>
<polygon points="389.78,108.87 386.5,109.46 387.7,109.67 390.98,108.41" fill="#afff50"/>
<polygon points="462.35,154.09 459.07,157.17 460.27,160.92 463.55,157.49" fill="#008fff"/>
<polygon points="431.64,161 428.36,160.18 429.56,164.64 432.84,165.75" fill="#0070ff"/>
<polygon points="399.62,107.08 396.34,107.68 397.53,106.05 400.81,104.99" fill="#0000f4"/>
<polygon points="437,155.96 433.72,156.07 434.92,161.44 438.2,161.48" fill="#008fff"/>
<polygon points="393.06,108.27 389.78,108.87 390.98,108.41 394.26,107.2" fill="#0000f4"/>
<polygon points="396.34,107.68 393.06,108.27 394.26,107.2 397.53,106.05" fill="#0000f4"/>
<polygon points="478,74.14 474.72,74.57 475.92,80.46 479.2,79.98" fill="#ff8f00"/>
<polygon points="468.16,76.41 464.88,77.81 466.08,83.23 469.36,82.09" fill="#ffaf00"/>
<polygon points="461.98,120.63 458.7,116.68 459.9,118.31 463.17,122.09" fill="#70ff8f"/>
<polygon points="490.04,132.02 486.76,131.87 487.95,129.87 491.23,129.65" fill="#0000f4"/>
<polygon points="479,131.92 475.72,130.73 476.92,130.43 480.2,131.05" fill="#0000f4"/>
<polygon points="451.45,72.61 448.17,76.39 449.37,79.38 452.65,76.01" fill="#ff8f00"/>
<polygon points="429.56,164.64 426.28,163.12 427.48,166.87 430.76,168.7" fill="#0070ff"/>
<polygon points="526.1,120.19 522.83,122.1 524.02,121.69 527.3,120.43" fill="#70ff8f"/>
<polygon points="486.64,69.92 483.36,69.1 484.56,74.24 487.84,74.74" fill="#ff7000"/>
<polygon points="474.72,74.57 471.44,75.33 472.64,81.17 475.92,80.46" fill="#ff8f00"/>
<polygon points="471.44,75.33 468.16,76.41 469.36,82.09 472.64,81.17" fill="#ff8f00"/>
<polygon points="453.4,150.6 450.12,152.29 451.31,157.43 454.59,155.42" fill="#00afff"/>
<polygon points="445.84,102.15 442.56,100.71 443.76,101.12 447.03,103.16" fill="#0000f4"/>
<polygon points="433.6,100.06 430.33,100.11 431.52,98.56 434.8,99.05" fill="#0000f4"/>
<polygon points="441.36,100.39 438.08,99.67 439.28,99.37 442.56,100.71" fill="#0000f4"/>
<polygon points="470.05,128.43 466.77,125.86 467.97,126.94 471.24,128.98" fill="#0000f4"/>
<polygon points="489.6,62.43 486.32,59.9 487.52,63.23 490.8,65.48" fill="#ff3000"/>
<polygon points="531.46,114.56 528.19,117.24 529.38,118.2 532.66,116.19" fill="#8fff70"/>
<polygon points="488.72,66.98 485.44,65.46 486.64,69.92 489.92,71.09" fill="#ff5000"/>
<polygon points="452.71,108.53 449.43,105.41 450.63,106.66 453.91,110.16" fill="#cfff30"/>
<polygon points="446.66,62.8 443.38,67.32 444.58,69.12 447.86,64.64" fill="#ff5000"/>
<polygon points="450.25,69.57 446.98,73.67 448.17,76.39 451.45,72.61" fill="#ff7000"/>
<polygon points="384.42,110.97 381.14,112.28 382.34,113.91 385.62,111.9" fill="#afff50"/>
<polygon points="433.72,156.07 430.44,155.86 431.64,161 434.92,161.44" fill="#008fff"/>
<polygon points="463.17,122.09 459.9,118.31 461.09,119.94 464.37,123.44" fill="#70ff8f"/>
<polygon points="529.38,118.2 526.1,120.19 527.3,120.43 530.58,119.13" fill="#8fff70"/>
<polygon points="486.76,131.87 483.48,131.54 484.67,129.99 487.95,129.87" fill="#0000f4"/>
<polygon points="486.01,55.66 482.73,52.74 483.93,54.63 487.21,57.5" fill="#ff1000"/>
<polygon points="460.41,74.68 457.13,77.04 458.32,81.45 461.6,79.5" fill="#ff8f00"/>
<polygon points="447.86,64.64 444.58,69.12 445.78,71.24 449.06,66.9" fill="#ff5000"/>
<polygon points="449.06,66.9 445.78,71.24 446.98,73.67 450.25,69.57" fill="#ff5000"/>
<polygon points="429.87,173.08 426.59,170.34 427.79,172.6 431.07,175.47" fill="#0050ff"/>
<polygon points="488.41,59.76 485.13,57.02 486.32,59.9 489.6,62.43" fill="#ff1000"/>
<polygon points="461.15,150.4 457.87,153.06 459.07,157.17 462.35,154.09" fill="#00afff"/>
<polygon points="455.93,72.93 452.65,76.01 453.85,79.7 457.13,77.04" fill="#ff7000"/>
<polygon points="428.68,170.2 425.4,167.67 426.59,170.34 429.87,173.08" fill="#0050ff"/>
<polygon points="487.21,57.5 483.93,54.63 485.13,57.02 488.41,59.76" fill="#ff1000"/>
<polygon points="468.02,156.43 464.75,160.53 465.94,163.2 469.22,158.86" fill="#008fff"/>
<polygon points="469.22,158.86 465.94,163.2 467.14,165.46 470.42,160.98" fill="#008fff"/>
<polygon points="456.68,148.65 453.4,150.6 454.59,155.42 457.87,153.06" fill="#00cfff"/>
<polygon points="431.07,175.47 427.79,172.6 428.99,174.44 432.27,177.36" fill="#0050ff"/>
<polygon points="430.33,100.11 427.05,100.23 428.24,98.23 431.52,98.56" fill="#0000f4"/>
<polygon points="387.7,109.67 384.42,110.97 385.62,111.9 388.9,109.91" fill="#afff50"/>
<polygon points="453.91,110.16 450.63,106.66 451.83,108.01 455.1,111.79" fill="#cfff30"/>
<polygon points="483.36,69.1 480.08,68.66 481.28,74.03 484.56,74.24" fill="#ff5000"/>
<polygon points="532.66,116.19 529.38,118.2 530.58,119.13 533.86,117.82" fill="#8fff70"/>
<polygon points="466.83,153.71 463.55,157.49 464.75,160.53 468.02,156.43" fill="#00afff"/>
<polygon points="470.42,160.98 467.14,165.46 468.34,167.3 471.62,162.78" fill="#008fff"/>
<polygon points="464.37,123.44 461.09,119.94 462.29,121.57 465.57,124.69" fill="#70ff8f"/>
<polygon points="428.36,160.18 425.08,159.01 426.28,163.12 429.56,164.64" fill="#008fff"/>
<polygon points="385.62,111.9 382.34,113.91 383.54,115.54 386.81,112.86" fill="#afff50"/>
<polygon points="427.48,166.87 424.2,164.62 425.4,167.67 428.68,170.2" fill="#0070ff"/>
<polygon points="447.03,103.16 443.76,101.12 444.95,101.67 448.23,104.24" fill="#0000f4"/>
<polygon points="475.72,130.73 472.44,129.39 473.64,129.71 476.92,130.43" fill="#0000f4"/>
<polygon points="483.48,131.54 480.2,131.05 481.4,130.04 484.67,129.99" fill="#0000f4"/>
<polygon points="471.24,128.98 467.97,126.94 469.16,127.95 472.44,129.39" fill="#0000f4"/>
<polygon points="463.69,72.67 460.41,74.68 461.6,79.5 464.88,77.81" fill="#ff7000"/>
<polygon points="445.64,148.01 442.36,148.93 443.56,154.77 446.84,153.69" fill="#00cfff"/>
<polygon points="442.36,148.93 439.08,149.64 440.28,155.53 443.56,154.77" fill="#00cfff"/>
<polygon points="430.44,155.86 427.16,155.36 428.36,160.18 431.64,161" fill="#00afff"/>
<polygon points="390.98,108.41 387.7,109.67 388.9,109.91 392.17,108" fill="#cfff30"/>
<polygon points="487.52,63.23 484.24,61.4 485.44,65.46 488.72,66.98" fill="#ff3000"/>
<polygon points="465.63,150.72 462.35,154.09 463.55,157.49 466.83,153.71" fill="#00cfff"/>
<polygon points="438.08,99.67 434.8,99.05 436,98.18 439.28,99.37" fill="#0000f4"/>
<polygon points="427.05,100.23 423.77,100.45 424.96,98.08 428.24,98.23" fill="#0000f4"/>
<polygon points="455.1,111.79 451.83,108.01 453.02,109.47 456.3,113.42" fill="#cfff30"/>
<polygon points="448.92,146.87 445.64,148.01 446.84,153.69 450.12,152.29" fill="#00cfff"/>
<polygon points="439.08,149.64 435.8,150.12 437,155.96 440.28,155.53" fill="#00cfff"/>
<polygon points="520.74,122.9 517.47,124.05 518.66,122.42 521.94,121.83" fill="#0000f4"/>
<polygon points="524.02,121.69 520.74,122.9 521.94,121.83 525.22,121.23" fill="#0000f4"/>
<polygon points="480.08,68.66 476.8,68.62 478,74.14 481.28,74.03" fill="#ff5000"/>
<polygon points="517.47,124.05 514.19,125.11 515.38,123.02 518.66,122.42" fill="#0000f4"/>
<polygon points="485.44,65.46 482.16,64.35 483.36,69.1 486.64,69.92" fill="#ff3000"/>
<polygon points="454.73,69.18 451.45,72.61 452.65,76.01 455.93,72.93" fill="#ff5000"/>
<polygon points="527.3,120.43 524.02,121.69 525.22,121.23 528.5,120.64" fill="#8fff70"/>
<polygon points="514.19,125.11 510.91,126.08 512.1,123.61 515.38,123.02" fill="#0000f4"/>
<polygon points="530.58,119.13 527.3,120.43 528.5,120.64 531.78,120.04" fill="#8fff70"/>
<polygon points="465.57,124.69 462.29,121.57 463.49,123.2 466.77,125.86" fill="#70ff8f"/>
<polygon points="533.86,117.82 530.58,119.13 531.78,120.04 535.06,119.45" fill="#8fff70"/>
<polygon points="459.95,146.46 456.68,148.65 457.87,153.06 461.15,150.4" fill="#00efff"/>
<polygon points="510.91,126.08 507.63,126.95 508.83,124.21 512.1,123.61" fill="#0000f4"/>
<polygon points="442.56,100.71 439.28,99.37 440.48,99.21 443.76,101.12" fill="#0000f4"/>
<polygon points="426.28,163.12 423,161.23 424.2,164.62 427.48,166.87" fill="#008fff"/>
<polygon points="386.81,112.86 383.54,115.54 384.73,117.17 388.01,113.87" fill="#afff50"/>
<polygon points="394.26,107.2 390.98,108.41 392.17,108 395.45,106.19" fill="#0000f4"/>
<polygon points="507.63,126.95 504.35,127.72 505.55,124.8 508.83,124.21" fill="#0000f4"/>
<polygon points="452.2,145.53 448.92,146.87 450.12,152.29 453.4,150.6" fill="#00efff"/>
<polygon points="466.96,71.04 463.69,72.67 464.88,77.81 468.16,76.41" fill="#ff5000"/>
<polygon points="435.8,150.12 432.52,150.39 433.72,156.07 437,155.96" fill="#00cfff"/>
<polygon points="459.21,70.22 455.93,72.93 457.13,77.04 460.41,74.68" fill="#ff5000"/>
<polygon points="480.2,131.05 476.92,130.43 478.12,130.02 481.4,130.04" fill="#0000f4"/>
<polygon points="423.77,100.45 420.49,100.77 421.69,98.13 424.96,98.08" fill="#0000f4"/>
<polygon points="504.35,127.72 501.07,128.37 502.27,125.4 505.55,124.8" fill="#0000f4"/>
<polygon points="476.8,68.62 473.52,69 474.72,74.57 478,74.14" fill="#ff5000"/>
<polygon points="456.3,113.42 453.02,109.47 454.22,111.05 457.5,115.05" fill="#cfff30"/>
<polygon points="464.43,147.5 461.15,150.4 462.35,154.09 465.63,150.72" fill="#00efff"/>
<polygon points="388.9,109.91 385.62,111.9 386.81,112.86 390.09,110.23" fill="#cfff30"/>
<polygon points="448.23,104.24 444.95,101.67 446.15,102.37 449.43,105.41" fill="#0000f4"/>
<polygon points="470.24,69.81 466.96,71.04 468.16,76.41 471.44,75.33" fill="#ff5000"/>
<polygon points="501.07,128.37 497.79,128.91 498.99,125.99 502.27,125.4" fill="#0000f4"/>
<polygon points="473.52,69 470.24,69.81 471.44,75.33 474.72,74.57" fill="#ff5000"/>
<polygon points="397.53,106.05 394.26,107.2 395.45,106.19 398.73,104.51" fill="#0000f4"/>
<polygon points="486.32,59.9 483.05,57.82 484.24,61.4 487.52,63.23" fill="#ff1000"/>
<polygon points="453.53,65.85 450.25,69.57 451.45,72.61 454.73,69.18" fill="#ff3000"/>
<polygon points="455.48,144.01 452.2,145.53 453.4,150.6 456.68,148.65" fill="#10ffef"/>
<polygon points="466.77,125.86 463.49,123.2 464.69,124.83 467.97,126.94" fill="#8fff70"/>
<polygon points="420.49,100.77 417.21,101.19 418.41,98.39 421.69,98.13" fill="#0000f4"/>
<polygon points="497.79,128.91 494.51,129.33 495.71,126.59 498.99,125.99" fill="#0000f4"/>
<polygon points="432.52,150.39 429.25,150.44 430.44,155.86 433.72,156.07" fill="#00cfff"/>
<polygon points="472.44,129.39 469.16,127.95 470.36,128.91 473.64,129.71" fill="#70ff8f"/>
<polygon points="535.06,119.45 531.78,120.04 532.98,120.95 536.26,121.08" fill="#afff50"/>
<polygon points="427.16,155.36 423.88,154.6 425.08,159.01 428.36,160.18" fill="#00cfff"/>
<polygon points="388.01,113.87 384.73,117.17 385.93,118.8 389.21,114.95" fill="#afff50"/>
<polygon points="400.81,104.99 397.53,106.05 398.73,104.51 402.01,102.99" fill="#0000f4"/>
<polygon points="457.5,115.05 454.22,111.05 455.42,112.73 458.7,116.68" fill="#cfff30"/>
<polygon points="434.8,99.05 431.52,98.56 432.72,97.18 436,98.18" fill="#0000f4"/>
<polygon points="449.94,58.69 446.66,62.8 447.86,64.64 451.14,60.58" fill="#ff1000"/>
<polygon points="494.51,129.33 491.23,129.65 492.43,127.18 495.71,126.59" fill="#0000f4"/>
<polygon points="452.34,62.97 449.06,66.9 450.25,69.57 453.53,65.85" fill="#ff1000"/>
<polygon points="425.08,159.01 421.8,157.54 423,161.23 426.28,163.12" fill="#00afff"/>
<polygon points="417.21,101.19 413.93,101.73 415.13,98.88 418.41,98.39" fill="#0000f4"/>
<polygon points="482.16,64.35 478.88,63.69 480.08,68.66 483.36,69.1" fill="#ff1000"/>
<polygon points="476.92,130.43 473.64,129.71 474.84,129.95 478.12,130.02" fill="#0000f4"/>
<polygon points="404.09,104.02 400.81,104.99 402.01,102.99 405.29,101.65" fill="#0000f4"/>
<polygon points="451.14,60.58 447.86,64.64 449.06,66.9 452.34,62.97" fill="#ff1000"/>
<polygon points="485.13,57.02 481.85,54.77 483.05,57.82 486.32,59.9" fill="#ef0000"/>
<polygon points="463.23,144.08 459.95,146.46 461.15,150.4 464.43,147.5" fill="#10ffef"/>
<polygon points="413.93,101.73 410.65,102.38 411.85,99.58 415.13,98.88" fill="#0000f4"/>
<polygon points="482.73,52.74 479.45,50.34 480.65,52.26 483.93,54.63" fill="#cf0000"/>
<polygon points="531.78,120.04 528.5,120.64 529.7,120.85 532.98,120.95" fill="#afff50"/>
<polygon points="407.37,103.15 404.09,104.02 405.29,101.65 408.57,100.51" fill="#0000f4"/>
<polygon points="462.49,67.92 459.21,70.22 460.41,74.68 463.69,72.67" fill="#ff3000"/>
<polygon points="410.65,102.38 407.37,103.15 408.57,100.51 411.85,99.58" fill="#0000f4"/>
<polygon points="484.24,61.4 480.96,60.05 482.16,64.35 485.44,65.46" fill="#ff1000"/>
<polygon points="491.23,129.65 487.95,129.87 489.15,127.78 492.43,127.18" fill="#0000f4"/>
<polygon points="458.76,142.33 455.48,144.01 456.68,148.65 459.95,146.46" fill="#10ffef"/>
<polygon points="392.17,108 388.9,109.91 390.09,110.23 393.37,107.7" fill="#efff10"/>
<polygon points="458.7,116.68 455.42,112.73 456.62,114.53 459.9,118.31" fill="#cfff30"/>
<polygon points="483.93,54.63 480.65,52.26 481.85,54.77 485.13,57.02" fill="#cf0000"/>
<polygon points="449.43,105.41 446.15,102.37 447.35,103.26 450.63,106.66" fill="#0000f4"/>
<polygon points="467.97,126.94 464.69,124.83 465.88,126.46 469.16,127.95" fill="#8fff70"/>
<polygon points="458.01,66.16 454.73,69.18 455.93,72.93 459.21,70.22" fill="#ff3000"/>
<polygon points="471.3,152.04 468.02,156.43 469.22,158.86 472.5,154.21" fill="#00cfff"/>
<polygon points="470.11,149.67 466.83,153.71 468.02,156.43 471.3,152.04" fill="#00efff"/>
<polygon points="429.25,150.44 425.97,150.29 427.16,155.36 430.44,155.86" fill="#00efff"/>
<polygon points="425.4,167.67 422.12,164.76 423.32,167.19 426.59,170.34" fill="#008fff"/>
<polygon points="389.21,114.95 385.93,118.8 387.13,120.43 390.41,116.11" fill="#afff50"/>
<polygon points="443.76,101.12 440.48,99.21 441.67,99.25 444.95,101.67" fill="#0000f4"/>
<polygon points="536.26,121.08 532.98,120.95 534.17,121.88 537.45,122.71" fill="#afff50"/>
<polygon points="426.59,170.34 423.32,167.19 424.51,169.31 427.79,172.6" fill="#008fff"/>
<polygon points="390.09,110.23 386.81,112.86 388.01,113.87 391.29,110.64" fill="#cfff30"/>
<polygon points="472.5,154.21 469.22,158.86 470.42,160.98 473.7,156.18" fill="#00cfff"/>
<polygon points="487.95,129.87 484.67,129.99 485.87,128.37 489.15,127.78" fill="#0000f4"/>
<polygon points="528.5,120.64 525.22,121.23 526.42,120.77 529.7,120.85" fill="#0000f4"/>
<polygon points="468.91,147.11 465.63,150.72 466.83,153.71 470.11,149.67" fill="#10ffef"/>
<polygon points="439.28,99.37 436,98.18 437.2,97.49 440.48,99.21" fill="#0000f4"/>
<polygon points="424.2,164.62 420.92,162.04 422.12,164.76 425.4,167.67" fill="#00afff"/>
<polygon points="459.9,118.31 456.62,114.53 457.81,116.44 461.09,119.94" fill="#cfff30"/>
<polygon points="427.79,172.6 424.51,169.31 425.71,171.11 428.99,174.44" fill="#008fff"/>
<polygon points="478.88,63.69 475.6,63.53 476.8,68.62 480.08,68.66" fill="#ff1000"/>
<polygon points="473.7,156.18 470.42,160.98 471.62,162.78 474.9,157.92" fill="#00cfff"/>
<polygon points="431.52,98.56 428.24,98.23 429.44,96.41 432.72,97.18" fill="#0000f4"/>
<polygon points="467.71,144.4 464.43,147.5 465.63,150.72 468.91,147.11" fill="#10ffef"/>
<polygon points="473.64,129.71 470.36,128.91 471.56,129.84 474.84,129.95" fill="#8fff70"/>
<polygon points="465.77,66.07 462.49,67.92 463.69,72.67 466.96,71.04" fill="#ff1000"/>
<polygon points="484.67,129.99 481.4,130.04 482.59,128.97 485.87,128.37" fill="#0000f4"/>
<polygon points="444.44,142.11 441.16,142.87 442.36,148.93 445.64,148.01" fill="#30ffcf"/>
<polygon points="447.72,141.24 444.44,142.11 445.64,148.01 448.92,146.87" fill="#30ffcf"/>
<polygon points="525.22,121.23 521.94,121.83 523.14,120.75 526.42,120.77" fill="#0000f4"/>
<polygon points="441.16,142.87 437.88,143.53 439.08,149.64 442.36,148.93" fill="#30ffcf"/>
<polygon points="462.04,140.52 458.76,142.33 459.95,146.46 463.23,144.08" fill="#30ffcf"/>
<polygon points="423.88,154.6 420.61,153.6 421.8,157.54 425.08,159.01" fill="#00efff"/>
<polygon points="469.16,127.95 465.88,126.46 467.08,128.09 470.36,128.91" fill="#8fff70"/>
<polygon points="451,140.27 447.72,141.24 448.92,146.87 452.2,145.53" fill="#30ffcf"/>
<polygon points="461.09,119.94 457.81,116.44 459.01,118.44 462.29,121.57" fill="#cfff30"/>
<polygon points="390.41,116.11 387.13,120.43 388.33,122.06 391.61,117.37" fill="#cfff30"/>
<polygon points="423,161.23 419.72,159.05 420.92,162.04 424.2,164.62" fill="#00cfff"/>
<polygon points="395.45,106.19 392.17,108 393.37,107.7 396.65,105.32" fill="#ffef00"/>
<polygon points="450.63,106.66 447.35,103.26 448.55,104.34 451.83,108.01" fill="#0000f4"/>
<polygon points="437.88,143.53 434.61,144.06 435.8,150.12 439.08,149.64" fill="#30ffcf"/>
<polygon points="456.81,62.58 453.53,65.85 454.73,69.18 458.01,66.16" fill="#ff1000"/>
<polygon points="537.45,122.71 534.17,121.88 535.37,122.84 538.65,124.34" fill="#afff50"/>
<polygon points="483.05,57.82 479.77,56.27 480.96,60.05 484.24,61.4" fill="#cf0000"/>
<polygon points="475.6,63.53 472.32,63.87 473.52,69 476.8,68.62" fill="#ff1000"/>
<polygon points="481.4,130.04 478.12,130.02 479.31,129.56 482.59,128.97" fill="#0000f4"/>
<polygon points="425.97,150.29 422.69,149.95 423.88,154.6 427.16,155.36" fill="#10ffef"/>
<polygon points="454.28,139.2 451,140.27 452.2,145.53 455.48,144.01" fill="#30ffcf"/>
<polygon points="469.05,64.72 465.77,66.07 466.96,71.04 470.24,69.81" fill="#ff1000"/>
<polygon points="466.51,141.55 463.23,144.08 464.43,147.5 467.71,144.4" fill="#30ffcf"/>
<polygon points="521.94,121.83 518.66,122.42 519.86,120.8 523.14,120.75" fill="#0000f4"/>
<polygon points="532.98,120.95 529.7,120.85 530.9,121.09 534.17,121.88" fill="#afff50"/>
<polygon points="472.32,63.87 469.05,64.72 470.24,69.81 473.52,69" fill="#ff1000"/>
<polygon points="480.96,60.05 477.68,59.21 478.88,63.69 482.16,64.35" fill="#ef0000"/>
<polygon points="462.29,121.57 459.01,118.44 460.21,120.54 463.49,123.2" fill="#afff50"/>
<polygon points="434.61,144.06 431.33,144.49 432.52,150.39 435.8,150.12" fill="#30ffcf"/>
<polygon points="461.29,63.62 458.01,66.16 459.21,70.22 462.49,67.92" fill="#ff1000"/>
<polygon points="391.29,110.64 388.01,113.87 389.21,114.95 392.49,111.19" fill="#efff10"/>
<polygon points="457.56,138.06 454.28,139.2 455.48,144.01 458.76,142.33" fill="#50ffaf"/>
<polygon points="478.12,130.02 474.84,129.95 476.04,130.16 479.31,129.56" fill="#0000f4"/>
<polygon points="518.66,122.42 515.38,123.02 516.58,120.93 519.86,120.8" fill="#0000f4"/>
<polygon points="428.24,98.23 424.96,98.08 426.16,95.91 429.44,96.41" fill="#0000f4"/>
<polygon points="391.61,117.37 388.33,122.06 389.52,123.69 392.8,118.72" fill="#cfff30"/>
<polygon points="421.8,157.54 418.52,155.83 419.72,159.05 423,161.23" fill="#00efff"/>
<polygon points="455.62,59.52 452.34,62.97 453.53,65.85 456.81,62.58" fill="#ef0000"/>
<polygon points="470.36,128.91 467.08,128.09 468.28,129.72 471.56,129.84" fill="#8fff70"/>
<polygon points="444.95,101.67 441.67,99.25 442.87,99.52 446.15,102.37" fill="#0000f4"/>
<polygon points="463.49,123.2 460.21,120.54 461.41,122.72 464.69,124.83" fill="#afff50"/>
<polygon points="393.37,107.7 390.09,110.23 391.29,110.64 394.57,107.54" fill="#ffef00"/>
<polygon points="453.22,55.1 449.94,58.69 451.14,60.58 454.42,57.02" fill="#cf0000"/>
<polygon points="465.31,138.6 462.04,140.52 463.23,144.08 466.51,141.55" fill="#50ffaf"/>
<polygon points="398.73,104.51 395.45,106.19 396.65,105.32 399.93,103.13" fill="#0000f4"/>
<polygon points="451.83,108.01 448.55,104.34 449.74,105.64 453.02,109.47" fill="#0000f4"/>
<polygon points="431.33,144.49 428.05,144.81 429.25,150.44 432.52,150.39" fill="#30ffcf"/>
<polygon points="481.85,54.77 478.57,53.07 479.77,56.27 483.05,57.82" fill="#af0000"/>
<polygon points="538.65,124.34 535.37,122.84 536.57,123.86 539.85,125.97" fill="#afff50"/>
<polygon points="454.42,57.02 451.14,60.58 452.34,62.97 455.62,59.52" fill="#cf0000"/>
<polygon points="460.84,136.85 457.56,138.06 458.76,142.33 462.04,140.52" fill="#50ffaf"/>
<polygon points="515.38,123.02 512.1,123.61 513.3,121.14 516.58,120.93" fill="#0000f4"/>
<polygon points="436,98.18 432.72,97.18 433.92,96.03 437.2,97.49" fill="#0000f4"/>
<polygon points="474.84,129.95 471.56,129.84 472.76,130.75 476.04,130.16" fill="#8fff70"/>
<polygon points="464.69,124.83 461.41,122.72 462.61,124.96 465.88,126.46" fill="#afff50"/>
<polygon points="479.45,50.34 476.17,48.53 477.37,50.48 480.65,52.26" fill="#8f0000"/>
<polygon points="480.65,52.26 477.37,50.48 478.57,53.07 481.85,54.77" fill="#af0000"/>
<polygon points="529.7,120.85 526.42,120.77 527.62,120.37 530.9,121.09" fill="#0000f4"/>
<polygon points="392.8,118.72 389.52,123.69 390.72,125.32 394,120.18" fill="#cfff30"/>
<polygon points="422.69,149.95 419.41,149.47 420.61,153.6 423.88,154.6" fill="#10ffef"/>
<polygon points="512.1,123.61 508.83,124.21 510.02,121.46 513.3,121.14" fill="#0000f4"/>
<polygon points="477.68,59.21 474.41,58.94 475.6,63.53 478.88,63.69" fill="#cf0000"/>
<polygon points="464.57,61.59 461.29,63.62 462.49,67.92 465.77,66.07" fill="#ef0000"/>
<polygon points="428.05,144.81 424.77,145.03 425.97,150.29 429.25,150.44" fill="#30ffcf"/>
<polygon points="465.88,126.46 462.61,124.96 463.8,127.26 467.08,128.09" fill="#afff50"/>
<polygon points="440.48,99.21 437.2,97.49 438.4,97.06 441.67,99.25" fill="#0000f4"/>
<polygon points="424.96,98.08 421.69,98.13 422.88,95.71 426.16,95.91" fill="#0000f4"/>
<polygon points="464.12,135.59 460.84,136.85 462.04,140.52 465.31,138.6" fill="#70ff8f"/>
<polygon points="453.02,109.47 449.74,105.64 450.94,107.15 454.22,111.05" fill="#ffef00"/>
<polygon points="402.01,102.99 398.73,104.51 399.93,103.13 403.21,101.17" fill="#0000f4"/>
<polygon points="420.61,153.6 417.33,152.41 418.52,155.83 421.8,157.54" fill="#10ffef"/>
<polygon points="471.56,129.84 468.28,129.72 469.48,131.35 472.76,130.75" fill="#8fff70"/>
<polygon points="534.17,121.88 530.9,121.09 532.09,121.4 535.37,122.84" fill="#cfff30"/>
<polygon points="460.09,59.84 456.81,62.58 458.01,66.16 461.29,63.62" fill="#cf0000"/>
<polygon points="392.49,111.19 389.21,114.95 390.41,116.11 393.69,111.89" fill="#efff10"/>
<polygon points="508.83,124.21 505.55,124.8 506.74,121.89 510.02,121.46" fill="#0000f4"/>
<polygon points="470.99,141.16 467.71,144.4 468.91,147.11 472.19,143.34" fill="#50ffaf"/>
<polygon points="472.19,143.34 468.91,147.11 470.11,149.67 473.38,145.44" fill="#30ffcf"/>
<polygon points="479.77,56.27 476.49,55.29 477.68,59.21 480.96,60.05" fill="#af0000"/>
<polygon points="539.85,125.97 536.57,123.86 537.77,124.94 541.05,127.6" fill="#afff50"/>
<polygon points="469.79,138.92 466.51,141.55 467.71,144.4 470.99,141.16" fill="#50ffaf"/>
<polygon points="473.38,145.44 470.11,149.67 471.3,152.04 474.58,147.45" fill="#30ffcf"/>
<polygon points="467.08,128.09 463.8,127.26 465,129.59 468.28,129.72" fill="#afff50"/>
<polygon points="468.59,136.62 465.31,138.6 466.51,141.55 469.79,138.92" fill="#70ff8f"/>
<polygon points="505.55,124.8 502.27,125.4 503.47,122.43 506.74,121.89" fill="#0000f4"/>
<polygon points="394,120.18 390.72,125.32 391.92,126.95 395.2,121.75" fill="#cfff30"/>
<polygon points="474.58,147.45 471.3,152.04 472.5,154.21 475.78,149.35" fill="#30ffcf"/>
<polygon points="474.41,58.94 471.13,59.24 472.32,63.87 475.6,63.53" fill="#cf0000"/>
<polygon points="467.85,60.13 464.57,61.59 465.77,66.07 469.05,64.72" fill="#cf0000"/>
<polygon points="468.28,129.72 465,129.59 466.2,131.94 469.48,131.35" fill="#afff50"/>
<polygon points="467.4,134.29 464.12,135.59 465.31,138.6 468.59,136.62" fill="#8fff70"/>
<polygon points="421.69,98.13 418.41,98.39 419.6,95.81 422.88,95.71" fill="#0000f4"/>
<polygon points="446.15,102.37 442.87,99.52 444.07,100.05 447.35,103.26" fill="#0000f4"/>
<polygon points="502.27,125.4 498.99,125.99 500.19,123.08 503.47,122.43" fill="#0000f4"/>
<polygon points="424.77,145.03 421.49,145.15 422.69,149.95 425.97,150.29" fill="#30ffcf"/>
<polygon points="454.22,111.05 450.94,107.15 452.14,108.9 455.42,112.73" fill="#ffef00"/>
<polygon points="405.29,101.65 402.01,102.99 403.21,101.17 406.49,99.48" fill="#0000f4"/>
<polygon points="526.42,120.77 523.14,120.75 524.34,119.75 527.62,120.37" fill="#0000f4"/>
<polygon points="396.65,105.32 393.37,107.7 394.57,107.54 397.85,104.63" fill="#ffcf00"/>
<polygon points="456.36,133.73 453.08,134.32 454.28,139.2 457.56,138.06" fill="#8fff70"/>
<polygon points="471.13,59.24 467.85,60.13 469.05,64.72 472.32,63.87" fill="#cf0000"/>
<polygon points="459.64,133.13 456.36,133.73 457.56,138.06 460.84,136.85" fill="#8fff70"/>
<polygon points="453.08,134.32 449.8,134.92 451,140.27 454.28,139.2" fill="#70ff8f"/>
<polygon points="462.92,132.54 459.64,133.13 460.84,136.85 464.12,135.59" fill="#8fff70"/>
<polygon points="498.99,125.99 495.71,126.59 496.91,123.84 500.19,123.08" fill="#0000f4"/>
<polygon points="475.78,149.35 472.5,154.21 473.7,156.18 476.98,151.15" fill="#30ffcf"/>
<polygon points="449.8,134.92 446.52,135.51 447.72,141.24 451,140.27" fill="#70ff8f"/>
<polygon points="422.12,164.76 418.84,161.56 420.04,163.73 423.32,167.19" fill="#00cfff"/>
<polygon points="466.2,131.94 462.92,132.54 464.12,135.59 467.4,134.29" fill="#8fff70"/>
<polygon points="420.92,162.04 417.64,159.18 418.84,161.56 422.12,164.76" fill="#00efff"/>
<polygon points="469.48,131.35 466.2,131.94 467.4,134.29 470.68,132.98" fill="#8fff70"/>
<polygon points="458.89,56.64 455.62,59.52 456.81,62.58 460.09,59.84" fill="#af0000"/>
<polygon points="446.52,135.51 443.25,136.11 444.44,142.11 447.72,141.24" fill="#70ff8f"/>
<polygon points="495.71,126.59 492.43,127.18 493.63,124.71 496.91,123.84" fill="#0000f4"/>
<polygon points="394.57,107.54 391.29,110.64 392.49,111.19 395.77,107.58" fill="#ffcf00"/>
<polygon points="472.76,130.75 469.48,131.35 470.68,132.98 473.95,131.66" fill="#afff50"/>
<polygon points="541.05,127.6 537.77,124.94 538.97,126.1 542.24,129.23" fill="#afff50"/>
<polygon points="423.32,167.19 420.04,163.73 421.23,165.7 424.51,169.31" fill="#00cfff"/>
<polygon points="476.04,130.16 472.76,130.75 473.95,131.66 477.23,130.37" fill="#afff50"/>
<polygon points="492.43,127.18 489.15,127.78 490.35,125.69 493.63,124.71" fill="#0000f4"/>
<polygon points="443.25,136.11 439.97,136.7 441.16,142.87 444.44,142.11" fill="#70ff8f"/>
<polygon points="418.41,98.39 415.13,98.88 416.33,96.24 419.6,95.81" fill="#0000f4"/>
<polygon points="395.2,121.75 391.92,126.95 393.12,128.58 396.4,123.44" fill="#cfff30"/>
<polygon points="479.31,129.56 476.04,130.16 477.23,130.37 480.51,129.1" fill="#afff50"/>
<polygon points="408.57,100.51 405.29,101.65 406.49,99.48 409.77,98.09" fill="#0000f4"/>
<polygon points="419.72,159.05 416.44,156.63 417.64,159.18 420.92,162.04" fill="#10ffef"/>
<polygon points="465,129.59 461.72,129.49 462.92,132.54 466.2,131.94" fill="#afff50"/>
<polygon points="489.15,127.78 485.87,128.37 487.07,126.75 490.35,125.69" fill="#0000f4"/>
<polygon points="478.57,53.07 475.29,51.98 476.49,55.29 479.77,56.27" fill="#8f0000"/>
<polygon points="482.59,128.97 479.31,129.56 480.51,129.1 483.79,127.89" fill="#0000f4"/>
<polygon points="455.42,112.73 452.14,108.9 453.34,110.86 456.62,114.53" fill="#ffef00"/>
<polygon points="485.87,128.37 482.59,128.97 483.79,127.89 487.07,126.75" fill="#0000f4"/>
<polygon points="432.72,97.18 429.44,96.41 430.64,94.86 433.92,96.03" fill="#0000f4"/>
<polygon points="456.5,52.1 453.22,55.1 454.42,57.02 457.7,54.05" fill="#8f0000"/>
<polygon points="419.41,149.47 416.13,148.84 417.33,152.41 420.61,153.6" fill="#30ffcf"/>
<polygon points="470.68,132.98 467.4,134.29 468.59,136.62 471.87,134.61" fill="#8fff70"/>
<polygon points="439.97,136.7 436.69,137.3 437.88,143.53 441.16,142.87" fill="#70ff8f"/>
<polygon points="393.69,111.89 390.41,116.11 391.61,117.37 394.88,112.77" fill="#ffef00"/>
<polygon points="457.7,54.05 454.42,57.02 455.62,59.52 458.89,56.64" fill="#af0000"/>
<polygon points="415.13,98.88 411.85,99.58 413.05,97 416.33,96.24" fill="#0000f4"/>
<polygon points="476.98,151.15 473.7,156.18 474.9,157.92 478.18,152.84" fill="#30ffcf"/>
<polygon points="411.85,99.58 408.57,100.51 409.77,98.09 413.05,97" fill="#0000f4"/>
<polygon points="463.37,57.67 460.09,59.84 461.29,63.62 464.57,61.59" fill="#af0000"/>
<polygon points="463.8,127.26 460.52,126.47 461.72,129.49 465,129.59" fill="#afff50"/>
<polygon points="476.49,55.29 473.21,54.93 474.41,58.94 477.68,59.21" fill="#af0000"/>
<polygon points="424.51,169.31 421.23,165.7 422.43,167.44 425.71,171.11" fill="#00cfff"/>
<polygon points="436.69,137.3 433.41,137.89 434.61,144.06 437.88,143.53" fill="#70ff8f"/>
<polygon points="456.62,114.53 453.34,110.86 454.54,113.03 457.81,116.44" fill="#ffef00"/>
<polygon points="535.37,122.84 532.09,121.4 533.29,121.82 536.57,123.86" fill="#0000f4"/>
<polygon points="476.17,48.53 472.89,47.36 474.09,49.33 477.37,50.48" fill="#d8d8d8"/>
<polygon points="421.49,145.15 418.21,145.2 419.41,149.47 422.69,149.95" fill="#50ffaf"/>
<polygon points="418.52,155.83 415.25,153.91 416.44,156.63 419.72,159.05" fill="#10ffef"/>
<polygon points="462.61,124.96 459.33,123.52 460.52,126.47 463.8,127.26" fill="#cfff30"/>
<polygon points="477.37,50.48 474.09,49.33 475.29,51.98 478.57,53.07" fill="#ff00ff"/>
<polygon points="471.87,134.61 468.59,136.62 469.79,138.92 473.07,136.24" fill="#8fff70"/>
<polygon points="461.72,129.49 458.44,129.41 459.64,133.13 462.92,132.54" fill="#afff50"/>
<polygon points="523.14,120.75 519.86,120.8 521.06,119.26 524.34,119.75" fill="#0000f4"/>
<polygon points="396.4,123.44 393.12,128.58 394.31,130.21 397.59,125.24" fill="#cfff30"/>
<polygon points="530.9,121.09 527.62,120.37 528.81,120.06 532.09,121.4" fill="#0000f4"/>
<polygon points="457.81,116.44 454.54,113.03 455.73,115.41 459.01,118.44" fill="#ffef00"/>
<polygon points="461.41,122.72 458.13,120.68 459.33,123.52 462.61,124.96" fill="#cfff30"/>
<polygon points="433.41,137.89 430.13,138.49 431.33,144.49 434.61,144.06" fill="#70ff8f"/>
<polygon points="542.24,129.23 538.97,126.1 540.16,127.35 543.44,130.86" fill="#cfff30"/>
<polygon points="459.01,118.44 455.73,115.41 456.93,117.96 460.21,120.54" fill="#efff10"/>
<polygon points="460.21,120.54 456.93,117.96 458.13,120.68 461.41,122.72" fill="#efff10"/>
<polygon points="473.95,131.66 470.68,132.98 471.87,134.61 475.15,132.59" fill="#afff50"/>
<polygon points="447.35,103.26 444.07,100.05 445.27,100.88 448.55,104.34" fill="#0000f4"/>
<polygon points="441.67,99.25 438.4,97.06 439.59,96.93 442.87,99.52" fill="#0000f4"/>
<polygon points="473.07,136.24 469.79,138.92 470.99,141.16 474.27,137.87" fill="#8fff70"/>
<polygon points="417.33,152.41 414.05,151.07 415.25,153.91 418.52,155.83" fill="#30ffcf"/>
<polygon points="399.93,103.13 396.65,105.32 397.85,104.63 401.13,101.98" fill="#0000f4"/>
<polygon points="466.65,56.12 463.37,57.67 464.57,61.59 467.85,60.13" fill="#af0000"/>
<polygon points="430.13,138.49 426.85,139.08 428.05,144.81 431.33,144.49" fill="#70ff8f"/>
<polygon points="458.44,129.41 455.16,129.39 456.36,133.73 459.64,133.13" fill="#afff50"/>
<polygon points="473.21,54.93 469.93,55.2 471.13,59.24 474.41,58.94" fill="#8f0000"/>
<polygon points="437.2,97.49 433.92,96.03 435.12,95.18 438.4,97.06" fill="#0000f4"/>
<polygon points="397.59,125.24 394.31,130.21 395.51,131.84 398.79,127.15" fill="#cfff30"/>
<polygon points="462.17,54.36 458.89,56.64 460.09,59.84 463.37,57.67" fill="#8f0000"/>
<polygon points="394.88,112.77 391.61,117.37 392.8,118.72 396.08,113.86" fill="#ffef00"/>
<polygon points="474.27,137.87 470.99,141.16 472.19,143.34 475.47,139.5" fill="#8fff70"/>
<polygon points="469.93,55.2 466.65,56.12 467.85,60.13 471.13,59.24" fill="#8f0000"/>
<polygon points="460.52,126.47 457.24,125.75 458.44,129.41 461.72,129.49" fill="#cfff30"/>
<polygon points="475.29,51.98 472.01,51.55 473.21,54.93 476.49,55.29" fill="#ff00ff"/>
<polygon points="418.21,145.2 414.93,145.18 416.13,148.84 419.41,149.47" fill="#50ffaf"/>
<polygon points="426.85,139.08 423.57,139.68 424.77,145.03 428.05,144.81" fill="#70ff8f"/>
<polygon points="519.86,120.8 516.58,120.93 517.78,118.93 521.06,119.26" fill="#0000f4"/>
<polygon points="477.23,130.37 473.95,131.66 475.15,132.59 478.43,130.61" fill="#afff50"/>
<polygon points="429.44,96.41 426.16,95.91 427.36,94.04 430.64,94.86" fill="#0000f4"/>
<polygon points="543.44,130.86 540.16,127.35 541.36,128.71 544.64,132.49" fill="#cfff30"/>
<polygon points="455.16,129.39 451.88,129.44 453.08,134.32 456.36,133.73" fill="#afff50"/>
<polygon points="395.77,107.58 392.49,111.19 393.69,111.89 396.97,107.85" fill="#ffcf00"/>
<polygon points="459.78,49.74 456.5,52.1 457.7,54.05 460.98,51.71" fill="#d8d8d8"/>
<polygon points="398.79,127.15 395.51,131.84 396.71,133.47 399.99,129.15" fill="#cfff30"/>
<polygon points="416.13,148.84 412.85,148.12 414.05,151.07 417.33,152.41" fill="#50ffaf"/>
<polygon points="460.98,51.71 457.7,54.05 458.89,56.64 462.17,54.36" fill="#ff00ff"/>
<polygon points="475.47,139.5 472.19,143.34 473.38,145.44 476.66,141.13" fill="#70ff8f"/>
<polygon points="475.15,132.59 471.87,134.61 473.07,136.24 476.35,133.55" fill="#afff50"/>
<polygon points="536.57,123.86 533.29,121.82 534.49,122.36 537.77,124.94" fill="#0000f4"/>
<polygon points="423.57,139.68 420.29,140.27 421.49,145.15 424.77,145.03" fill="#70ff8f"/>
<polygon points="472.89,47.36 469.61,46.87 470.81,48.86 474.09,49.33" fill="#d8d8d8"/>
<polygon points="397.85,104.63 394.57,107.54 395.77,107.58 399.05,104.2" fill="#ffaf00"/>
<polygon points="474.09,49.33 470.81,48.86 472.01,51.55 475.29,51.98" fill="#d8d8d8"/>
<polygon points="448.55,104.34 445.27,100.88 446.47,102.02 449.74,105.64" fill="#0000f4"/>
<polygon points="451.88,129.44 448.61,129.57 449.8,134.92 453.08,134.32" fill="#afff50"/>
<polygon points="465.45,52.74 462.17,54.36 463.37,57.67 466.65,56.12" fill="#ff00ff"/>
<polygon points="399.99,129.15 396.71,133.47 397.91,135.1 401.19,131.25" fill="#afff50"/>
<polygon points="480.51,129.1 477.23,130.37 478.43,130.61 481.71,128.7" fill="#cfff30"/>
<polygon points="459.33,123.52 456.05,122.18 457.24,125.75 460.52,126.47" fill="#efff10"/>
<polygon points="396.08,113.86 392.8,118.72 394,120.18 397.28,115.16" fill="#ffef00"/>
<polygon points="476.66,141.13 473.38,145.44 474.58,147.45 477.86,142.75" fill="#70ff8f"/>
<polygon points="527.62,120.37 524.34,119.75 525.54,118.87 528.81,120.06" fill="#0000f4"/>
<polygon points="472.01,51.55 468.73,51.8 469.93,55.2 473.21,54.93" fill="#d8d8d8"/>
<polygon points="403.21,101.17 399.93,103.13 401.13,101.98 404.41,99.62" fill="#0000f4"/>
<polygon points="516.58,120.93 513.3,121.14 514.5,118.78 517.78,118.93" fill="#0000f4"/>
<polygon points="544.64,132.49 541.36,128.71 542.56,130.17 545.84,134.12" fill="#cfff30"/>
<polygon points="420.29,140.27 417.01,140.87 418.21,145.2 421.49,145.15" fill="#8fff70"/>
<polygon points="448.61,129.57 445.33,129.78 446.52,135.51 449.8,134.92" fill="#cfff30"/>
<polygon points="468.73,51.8 465.45,52.74 466.65,56.12 469.93,55.2" fill="#d8d8d8"/>
<polygon points="457.24,125.75 453.97,125.13 455.16,129.39 458.44,129.41" fill="#cfff30"/>
<polygon points="414.93,145.18 411.65,145.11 412.85,148.12 416.13,148.84" fill="#70ff8f"/>
<polygon points="401.19,131.25 397.91,135.1 399.11,136.73 402.38,133.43" fill="#afff50"/>
<polygon points="463.06,48.06 459.78,49.74 460.98,51.71 464.25,50.05" fill="#d8d8d8"/>
<polygon points="532.09,121.4 528.81,120.06 530.01,119.91 533.29,121.82" fill="#0000f4"/>
<polygon points="464.25,50.05 460.98,51.71 462.17,54.36 465.45,52.74" fill="#d8d8d8"/>
<polygon points="426.16,95.91 422.88,95.71 424.08,93.6 427.36,94.04" fill="#0000f4"/>
<polygon points="477.86,142.75 474.58,147.45 475.78,149.35 479.06,144.38" fill="#70ff8f"/>
<polygon points="476.35,133.55 473.07,136.24 474.27,137.87 477.55,134.57" fill="#afff50"/>
<polygon points="483.79,127.89 480.51,129.1 481.71,128.7 484.99,126.89" fill="#0000f4"/>
<polygon points="469.61,46.87 466.34,47.11 467.53,49.1 470.81,48.86" fill="#d8d8d8"/>
<polygon points="442.87,99.52 439.59,96.93 440.79,97.14 444.07,100.05" fill="#0000f4"/>
<polygon points="470.81,48.86 467.53,49.1 468.73,51.8 472.01,51.55" fill="#d8d8d8"/>
<polygon points="417.01,140.87 413.73,141.46 414.93,145.18 418.21,145.2" fill="#8fff70"/>
<polygon points="445.33,129.78 442.05,130.1 443.25,136.11 446.52,135.51" fill="#cfff30"/>
<polygon points="449.74,105.64 446.47,102.02 447.66,103.49 450.94,107.15" fill="#ff8f00"/>
<polygon points="458.13,120.68 454.85,118.77 456.05,122.18 459.33,123.52" fill="#ffef00"/>
<polygon points="513.3,121.14 510.02,121.46 511.22,118.83 514.5,118.78" fill="#0000f4"/>
<polygon points="402.38,133.43 399.11,136.73 400.3,138.36 403.58,135.67" fill="#afff50"/>
<polygon points="466.34,47.11 463.06,48.06 464.25,50.05 467.53,49.1" fill="#d8d8d8"/>
<polygon points="397.28,115.16 394,120.18 395.2,121.75 398.48,116.67" fill="#ffef00"/>
<polygon points="545.84,134.12 542.56,130.17 543.76,131.74 547.04,135.75" fill="#cfff30"/>
<polygon points="467.53,49.1 464.25,50.05 465.45,52.74 468.73,51.8" fill="#d8d8d8"/>
<polygon points="478.43,130.61 475.15,132.59 476.35,133.55 479.63,130.92" fill="#cfff30"/>
<polygon points="415.25,153.91 411.97,151.87 413.16,154.05 416.44,156.63" fill="#50ffaf"/>
<polygon points="416.44,156.63 413.16,154.05 414.36,156.15 417.64,159.18" fill="#30ffcf"/>
<polygon points="537.77,124.94 534.49,122.36 535.69,123.07 538.97,126.1" fill="#0000f4"/>
<polygon points="396.97,107.85 393.69,111.89 394.88,112.77 398.16,108.38" fill="#ffaf00"/>
<polygon points="433.92,96.03 430.64,94.86 431.84,93.65 435.12,95.18" fill="#0000f4"/>
<polygon points="442.05,130.1 438.77,130.53 439.97,136.7 443.25,136.11" fill="#cfff30"/>
<polygon points="414.05,151.07 410.77,149.63 411.97,151.87 415.25,153.91" fill="#50ffaf"/>
<polygon points="406.49,99.48 403.21,101.17 404.41,99.62 407.69,97.61" fill="#0000f4"/>
<polygon points="417.64,159.18 414.36,156.15 415.56,158.16 418.84,161.56" fill="#30ffcf"/>
<polygon points="487.07,126.75 483.79,127.89 484.99,126.89 488.27,125.21" fill="#0000f4"/>
<polygon points="479.06,144.38 475.78,149.35 476.98,151.15 480.26,146.01" fill="#70ff8f"/>
<polygon points="413.73,141.46 410.45,142.06 411.65,145.11 414.93,145.18" fill="#8fff70"/>
<polygon points="403.58,135.67 400.3,138.36 401.5,139.99 404.78,137.97" fill="#afff50"/>
<polygon points="412.85,148.12 409.57,147.33 410.77,149.63 414.05,151.07" fill="#70ff8f"/>
<polygon points="456.93,117.96 453.65,115.55 454.85,118.77 458.13,120.68" fill="#ffcf00"/>
<polygon points="510.02,121.46 506.74,121.89 507.94,119.09 511.22,118.83" fill="#0000f4"/>
<polygon points="453.97,125.13 450.69,124.64 451.88,129.44 455.16,129.39" fill="#efff10"/>
<polygon points="418.84,161.56 415.56,158.16 416.76,160.06 420.04,163.73" fill="#30ffcf"/>
<polygon points="438.77,130.53 435.49,131.07 436.69,137.3 439.97,136.7" fill="#cfff30"/>
<polygon points="450.94,107.15 447.66,103.49 448.86,105.28 452.14,108.9" fill="#ff8f00"/>
<polygon points="438.4,97.06 435.12,95.18 436.31,94.69 439.59,96.93" fill="#0000f4"/>
<polygon points="422.88,95.71 419.6,95.81 420.8,93.56 424.08,93.6" fill="#0000f4"/>
<polygon points="411.65,145.11 408.37,145 409.57,147.33 412.85,148.12" fill="#8fff70"/>
<polygon points="477.55,134.57 474.27,137.87 475.47,139.5 478.75,135.65" fill="#afff50"/>
<polygon points="398.48,116.67 395.2,121.75 396.4,123.44 399.68,118.42" fill="#ffef00"/>
<polygon points="490.35,125.69 487.07,126.75 488.27,125.21 491.55,123.69" fill="#0000f4"/>
<polygon points="524.34,119.75 521.06,119.26 522.26,117.87 525.54,118.87" fill="#0000f4"/>
<polygon points="435.49,131.07 432.21,131.72 433.41,137.89 436.69,137.3" fill="#cfff30"/>
<polygon points="404.78,137.97 401.5,139.99 402.7,141.62 405.98,140.3" fill="#afff50"/>
<polygon points="401.13,101.98 397.85,104.63 399.05,104.2 402.33,101.13" fill="#ff7000"/>
<polygon points="456.05,122.18 452.77,120.99 453.97,125.13 457.24,125.75" fill="#ffef00"/>
<polygon points="420.04,163.73 416.76,160.06 417.96,161.86 421.23,165.7" fill="#30ffcf"/>
<polygon points="506.74,121.89 503.47,122.43 504.66,119.57 507.94,119.09" fill="#0000f4"/>
<polygon points="410.45,142.06 407.18,142.65 408.37,145 411.65,145.11" fill="#8fff70"/>
<polygon points="455.73,115.41 452.45,112.56 453.65,115.55 456.93,117.96" fill="#ffcf00"/>
<polygon points="480.26,146.01 476.98,151.15 478.18,152.84 481.45,147.64" fill="#70ff8f"/>
<polygon points="432.21,131.72 428.93,132.48 430.13,138.49 433.41,137.89" fill="#cfff30"/>
<polygon points="409.77,98.09 406.49,99.48 407.69,97.61 410.97,95.98" fill="#0000f4"/>
<polygon points="452.14,108.9 448.86,105.28 450.06,107.4 453.34,110.86" fill="#ff8f00"/>
<polygon points="493.63,124.71 490.35,125.69 491.55,123.69 494.83,122.35" fill="#0000f4"/>
<polygon points="399.05,104.2 395.77,107.58 396.97,107.85 400.24,104.07" fill="#ff8f00"/>
<polygon points="428.93,132.48 425.65,133.35 426.85,139.08 430.13,138.49" fill="#cfff30"/>
<polygon points="405.98,140.3 402.7,141.62 403.9,143.25 407.18,142.65" fill="#afff50"/>
<polygon points="503.47,122.43 500.19,123.08 501.38,120.28 504.66,119.57" fill="#0000f4"/>
<polygon points="454.54,113.03 451.26,109.83 452.45,112.56 455.73,115.41" fill="#ffaf00"/>
<polygon points="409.26,139 405.98,140.3 407.18,142.65 410.45,142.06" fill="#afff50"/>
<polygon points="496.91,123.84 493.63,124.71 494.83,122.35 498.11,121.21" fill="#0000f4"/>
<polygon points="453.34,110.86 450.06,107.4 451.26,109.83 454.54,113.03" fill="#ffaf00"/>
<polygon points="425.65,133.35 422.37,134.33 423.57,139.68 426.85,139.08" fill="#cfff30"/>
<polygon points="399.68,118.42 396.4,123.44 397.59,125.24 400.87,120.38" fill="#ffef00"/>
<polygon points="419.6,95.81 416.33,96.24 417.52,93.94 420.8,93.56" fill="#0000f4"/>
<polygon points="500.19,123.08 496.91,123.84 498.11,121.21 501.38,120.28" fill="#0000f4"/>
<polygon points="412.54,137.74 409.26,139 410.45,142.06 413.73,141.46" fill="#afff50"/>
<polygon points="422.37,134.33 419.09,135.39 420.29,140.27 423.57,139.68" fill="#afff50"/>
<polygon points="415.81,136.53 412.54,137.74 413.73,141.46 417.01,140.87" fill="#afff50"/>
<polygon points="419.09,135.39 415.81,136.53 417.01,140.87 420.29,140.27" fill="#afff50"/>
<polygon points="481.71,128.7 478.43,130.61 479.63,130.92 482.91,128.39" fill="#efff10"/>
<polygon points="413.05,97 409.77,98.09 410.97,95.98 414.24,94.75" fill="#0000f4"/>
<polygon points="538.97,126.1 535.69,123.07 536.88,123.95 540.16,127.35" fill="#0000f4"/>
<polygon points="421.23,165.7 417.96,161.86 419.15,163.55 422.43,167.44" fill="#30ffcf"/>
<polygon points="450.69,124.64 447.41,124.31 448.61,129.57 451.88,129.44" fill="#efff10"/>
<polygon points="444.07,100.05 440.79,97.14 441.99,97.74 445.27,100.88" fill="#0000f4"/>
<polygon points="408.06,135.99 404.78,137.97 405.98,140.3 409.26,139" fill="#afff50"/>
<polygon points="416.33,96.24 413.05,97 414.24,94.75 417.52,93.94" fill="#0000f4"/>
<polygon points="407.18,142.65 403.9,143.25 405.09,144.88 408.37,145" fill="#8fff70"/>
<polygon points="398.16,108.38 394.88,112.77 396.08,113.86 399.36,109.21" fill="#ffaf00"/>
<polygon points="478.75,135.65 475.47,139.5 476.66,141.13 479.94,136.81" fill="#afff50"/>
<polygon points="533.29,121.82 530.01,119.91 531.21,119.94 534.49,122.36" fill="#0000f4"/>
<polygon points="400.87,120.38 397.59,125.24 398.79,127.15 402.07,122.55" fill="#ffef00"/>
<polygon points="479.63,130.92 476.35,133.55 477.55,134.57 480.83,131.34" fill="#cfff30"/>
<polygon points="406.86,133.04 403.58,135.67 404.78,137.97 408.06,135.99" fill="#cfff30"/>
<polygon points="528.81,120.06 525.54,118.87 526.73,118.19 530.01,119.91" fill="#0000f4"/>
<polygon points="408.37,145 405.09,144.88 406.29,146.51 409.57,147.33" fill="#8fff70"/>
<polygon points="402.07,122.55 398.79,127.15 399.99,129.15 403.27,124.93" fill="#ffef00"/>
<polygon points="405.66,130.2 402.38,133.43 403.58,135.67 406.86,133.04" fill="#cfff30"/>
<polygon points="403.27,124.93 399.99,129.15 401.19,131.25 404.47,127.48" fill="#efff10"/>
<polygon points="404.47,127.48 401.19,131.25 402.38,133.43 405.66,130.2" fill="#efff10"/>
<polygon points="430.64,94.86 427.36,94.04 428.56,92.54 431.84,93.65" fill="#0000f4"/>
<polygon points="454.85,118.77 451.57,117.05 452.77,120.99 456.05,122.18" fill="#ffcf00"/>
<polygon points="521.06,119.26 517.78,118.93 518.98,117.11 522.26,117.87" fill="#0000f4"/>
<polygon points="411.34,134.08 408.06,135.99 409.26,139 412.54,137.74" fill="#cfff30"/>
<polygon points="409.57,147.33 406.29,146.51 407.49,148.13 410.77,149.63" fill="#8fff70"/>
<polygon points="447.41,124.31 444.13,124.16 445.33,129.78 448.61,129.57" fill="#ffef00"/>
<polygon points="452.77,120.99 449.49,119.99 450.69,124.64 453.97,125.13" fill="#ffcf00"/>
<polygon points="404.41,99.62 401.13,101.98 402.33,101.13 405.6,98.41" fill="#0000f4"/>
<polygon points="479.94,136.81 476.66,141.13 477.86,142.75 481.14,138.06" fill="#cfff30"/>
<polygon points="484.99,126.89 481.71,128.7 482.91,128.39 486.19,126.01" fill="#ffef00"/>
<polygon points="540.16,127.35 536.88,123.95 538.08,125.04 541.36,128.71" fill="#0000f4"/>
<polygon points="410.77,149.63 407.49,148.13 408.69,149.76 411.97,151.87" fill="#8fff70"/>
<polygon points="414.62,132.27 411.34,134.08 412.54,137.74 415.81,136.53" fill="#cfff30"/>
<polygon points="399.36,109.21 396.08,113.86 397.28,115.16 400.56,110.35" fill="#ff8f00"/>
<polygon points="445.27,100.88 441.99,97.74 443.19,98.73 446.47,102.02" fill="#0000f4"/>
<polygon points="439.59,96.93 436.31,94.69 437.51,94.61 440.79,97.14" fill="#0000f4"/>
<polygon points="444.13,124.16 440.85,124.21 442.05,130.1 445.33,129.78" fill="#ffef00"/>
<polygon points="410.14,130.51 406.86,133.04 408.06,135.99 411.34,134.08" fill="#efff10"/>
<polygon points="411.97,151.87 408.69,149.76 409.89,151.39 413.16,154.05" fill="#8fff70"/>
<polygon points="400.24,104.07 396.97,107.85 398.16,108.38 401.44,104.28" fill="#ff7000"/>
<polygon points="480.83,131.34 477.55,134.57 478.75,135.65 482.02,131.88" fill="#efff10"/>
<polygon points="435.12,95.18 431.84,93.65 433.03,92.86 436.31,94.69" fill="#0000f4"/>
<polygon points="453.65,115.55 450.37,113.36 451.57,117.05 454.85,118.77" fill="#ffaf00"/>
<polygon points="417.9,130.59 414.62,132.27 415.81,136.53 419.09,135.39" fill="#efff10"/>
<polygon points="517.78,118.93 514.5,118.78 515.7,116.61 518.98,117.11" fill="#0000f4"/>
<polygon points="481.14,138.06 477.86,142.75 479.06,144.38 482.34,139.42" fill="#cfff30"/>
<polygon points="534.49,122.36 531.21,119.94 532.41,120.21 535.69,123.07" fill="#0000f4"/>
<polygon points="402.33,101.13 399.05,104.2 400.24,104.07 403.52,100.64" fill="#ff5000"/>
<polygon points="482.91,128.39 479.63,130.92 480.83,131.34 484.11,128.24" fill="#ffef00"/>
<polygon points="440.85,124.21 437.57,124.47 438.77,130.53 442.05,130.1" fill="#ffef00"/>
<polygon points="427.36,94.04 424.08,93.6 425.28,91.89 428.56,92.54" fill="#0000f4"/>
<polygon points="413.16,154.05 409.89,151.39 411.08,153.02 414.36,156.15" fill="#70ff8f"/>
<polygon points="488.27,125.21 484.99,126.89 486.19,126.01 489.47,123.82" fill="#0000f4"/>
<polygon points="541.36,128.71 538.08,125.04 539.28,126.33 542.56,130.17" fill="#0000f4"/>
<polygon points="400.56,110.35 397.28,115.16 398.48,116.67 401.76,111.82" fill="#ff8f00"/>
<polygon points="408.94,127.1 405.66,130.2 406.86,133.04 410.14,130.51" fill="#ffef00"/>
<polygon points="421.18,129.07 417.9,130.59 419.09,135.39 422.37,134.33" fill="#efff10"/>
<polygon points="449.49,119.99 446.21,119.23 447.41,124.31 450.69,124.64" fill="#ffcf00"/>
<polygon points="407.69,97.61 404.41,99.62 405.6,98.41 408.88,96.11" fill="#0000f4"/>
<polygon points="525.54,118.87 522.26,117.87 523.45,116.72 526.73,118.19" fill="#0000f4"/>
<polygon points="446.47,102.02 443.19,98.73 444.38,100.15 447.66,103.49" fill="#ff5000"/>
<polygon points="437.57,124.47 434.29,124.95 435.49,131.07 438.77,130.53" fill="#ffef00"/>
<polygon points="452.45,112.56 449.17,109.97 450.37,113.36 453.65,115.55" fill="#ff8f00"/>
<polygon points="414.36,156.15 411.08,153.02 412.28,154.65 415.56,158.16" fill="#70ff8f"/>
<polygon points="424.45,127.73 421.18,129.07 422.37,134.33 425.65,133.35" fill="#ffef00"/>
<polygon points="451.57,117.05 448.29,115.58 449.49,119.99 452.77,120.99" fill="#ffaf00"/>
<polygon points="482.34,139.42 479.06,144.38 480.26,146.01 483.54,140.88" fill="#cfff30"/>
<polygon points="413.42,128.13 410.14,130.51 411.34,134.08 414.62,132.27" fill="#ffef00"/>
<polygon points="434.29,124.95 431.01,125.66 432.21,131.72 435.49,131.07" fill="#ffef00"/>
<polygon points="427.73,126.59 424.45,127.73 425.65,133.35 428.93,132.48" fill="#ffef00"/>
<polygon points="530.01,119.91 526.73,118.19 527.93,117.76 531.21,119.94" fill="#0000f4"/>
<polygon points="431.01,125.66 427.73,126.59 428.93,132.48 432.21,131.72" fill="#ffef00"/>
<polygon points="514.5,118.78 511.22,118.83 512.42,116.4 515.7,116.61" fill="#0000f4"/>
<polygon points="407.75,123.87 404.47,127.48 405.66,130.2 408.94,127.1" fill="#ffcf00"/>
<polygon points="542.56,130.17 539.28,126.33 540.48,127.85 543.76,131.74" fill="#ffef00"/>
<polygon points="401.76,111.82 398.48,116.67 399.68,118.42 402.95,113.61" fill="#ff8f00"/>
<polygon points="491.55,123.69 488.27,125.21 489.47,123.82 492.74,121.87" fill="#0000f4"/>
<polygon points="482.02,131.88 478.75,135.65 479.94,136.81 483.22,132.59" fill="#efff10"/>
<polygon points="447.66,103.49 444.38,100.15 445.58,101.99 448.86,105.28" fill="#ff5000"/>
<polygon points="415.56,158.16 412.28,154.65 413.48,156.28 416.76,160.06" fill="#70ff8f"/>
<polygon points="451.26,109.83 447.98,106.92 449.17,109.97 452.45,112.56" fill="#ff7000"/>
<polygon points="424.08,93.6 420.8,93.56 422,91.72 425.28,91.89" fill="#0000f4"/>
<polygon points="406.55,120.88 403.27,124.93 404.47,127.48 407.75,123.87" fill="#ffcf00"/>
<polygon points="401.44,104.28 398.16,108.38 399.36,109.21 402.64,104.87" fill="#ff5000"/>
<polygon points="410.97,95.98 407.69,97.61 408.88,96.11 412.16,94.27" fill="#0000f4"/>
<polygon points="440.79,97.14 437.51,94.61 438.71,94.99 441.99,97.74" fill="#0000f4"/>
<polygon points="402.95,113.61 399.68,118.42 400.87,120.38 404.15,115.73" fill="#ff8f00"/>
<polygon points="483.54,140.88 480.26,146.01 481.45,147.64 484.73,142.45" fill="#cfff30"/>
<polygon points="448.86,105.28 445.58,101.99 446.78,104.25 450.06,107.4" fill="#ff5000"/>
<polygon points="450.06,107.4 446.78,104.25 447.98,106.92 451.26,109.83" fill="#ff5000"/>
<polygon points="446.21,119.23 442.93,118.73 444.13,124.16 447.41,124.31" fill="#ffaf00"/>
<polygon points="405.35,118.16 402.07,122.55 403.27,124.93 406.55,120.88" fill="#ffaf00"/>
<polygon points="404.15,115.73 400.87,120.38 402.07,122.55 405.35,118.16" fill="#ffaf00"/>
<polygon points="511.22,118.83 507.94,119.09 509.14,116.51 512.42,116.4" fill="#0000f4"/>
<polygon points="535.69,123.07 532.41,120.21 533.61,120.75 536.88,123.95" fill="#0000f4"/>
<polygon points="494.83,122.35 491.55,123.69 492.74,121.87 496.02,120.18" fill="#0000f4"/>
<polygon points="486.19,126.01 482.91,128.39 484.11,128.24 487.38,125.33" fill="#ffcf00"/>
<polygon points="416.76,160.06 413.48,156.28 414.68,157.91 417.96,161.86" fill="#70ff8f"/>
<polygon points="416.7,125.94 413.42,128.13 414.62,132.27 417.9,130.59" fill="#ffcf00"/>
<polygon points="431.84,93.65 428.56,92.54 429.76,91.5 433.03,92.86" fill="#0000f4"/>
<polygon points="420.8,93.56 417.52,93.94 418.72,92.06 422,91.72" fill="#0000f4"/>
<polygon points="414.24,94.75 410.97,95.98 412.16,94.27 415.44,92.91" fill="#0000f4"/>
<polygon points="412.22,124.19 408.94,127.1 410.14,130.51 413.42,128.13" fill="#ffcf00"/>
<polygon points="405.6,98.41 402.33,101.13 403.52,100.64 406.8,97.62" fill="#ff3000"/>
<polygon points="484.11,128.24 480.83,131.34 482.02,131.88 485.3,128.27" fill="#ffcf00"/>
<polygon points="507.94,119.09 504.66,119.57 505.86,116.94 509.14,116.51" fill="#0000f4"/>
<polygon points="417.52,93.94 414.24,94.75 415.44,92.91 418.72,92.06" fill="#0000f4"/>
<polygon points="498.11,121.21 494.83,122.35 496.02,120.18 499.3,118.78" fill="#0000f4"/>
<polygon points="450.37,113.36 447.09,111.47 448.29,115.58 451.57,117.05" fill="#ff7000"/>
<polygon points="522.26,117.87 518.98,117.11 520.17,115.56 523.45,116.72" fill="#0000f4"/>
<polygon points="436.31,94.69 433.03,92.86 434.23,92.54 437.51,94.61" fill="#0000f4"/>
<polygon points="403.52,100.64 400.24,104.07 401.44,104.28 404.72,100.56" fill="#ff3000"/>
<polygon points="483.22,132.59 479.94,136.81 481.14,138.06 484.42,133.47" fill="#ffef00"/>
<polygon points="417.96,161.86 414.68,157.91 415.87,159.54 419.15,163.55" fill="#70ff8f"/>
<polygon points="504.66,119.57 501.38,120.28 502.58,117.7 505.86,116.94" fill="#0000f4"/>
<polygon points="501.38,120.28 498.11,121.21 499.3,118.78 502.58,117.7" fill="#0000f4"/>
<polygon points="448.29,115.58 445.01,114.42 446.21,119.23 449.49,119.99" fill="#ff8f00"/>
<polygon points="442.93,118.73 439.65,118.52 440.85,124.21 444.13,124.16" fill="#ffaf00"/>
<polygon points="419.98,123.99 416.7,125.94 417.9,130.59 421.18,129.07" fill="#ffcf00"/>
<polygon points="402.64,104.87 399.36,109.21 400.56,110.35 403.84,105.87" fill="#ff5000"/>
<polygon points="441.99,97.74 438.71,94.99 439.91,95.86 443.19,98.73" fill="#0000f4"/>
<polygon points="536.88,123.95 533.61,120.75 534.8,121.58 538.08,125.04" fill="#0000f4"/>
<polygon points="411.02,120.5 407.75,123.87 408.94,127.1 412.22,124.19" fill="#ffaf00"/>
<polygon points="531.21,119.94 527.93,117.76 529.13,117.63 532.41,120.21" fill="#0000f4"/>
<polygon points="489.47,123.82 486.19,126.01 487.38,125.33 490.66,122.67" fill="#0000f4"/>
<polygon points="439.65,118.52 436.37,118.63 437.57,124.47 440.85,124.21" fill="#ff8f00"/>
<polygon points="526.73,118.19 523.45,116.72 524.65,115.87 527.93,117.76" fill="#0000f4"/>
<polygon points="423.26,122.3 419.98,123.99 421.18,129.07 424.45,127.73" fill="#ffaf00"/>
<polygon points="449.17,109.97 445.9,107.72 447.09,111.47 450.37,113.36" fill="#ff5000"/>
<polygon points="484.42,133.47 481.14,138.06 482.34,139.42 485.62,134.55" fill="#ffef00"/>
<polygon points="415.5,121.53 412.22,124.19 413.42,128.13 416.7,125.94" fill="#ffaf00"/>
<polygon points="428.56,92.54 425.28,91.89 426.48,90.67 429.76,91.5" fill="#0000f4"/>
<polygon points="408.88,96.11 405.6,98.41 406.8,97.62 410.08,95.07" fill="#0000f4"/>
<polygon points="403.84,105.87 400.56,110.35 401.76,111.82 405.04,107.29" fill="#ff5000"/>
<polygon points="518.98,117.11 515.7,116.61 516.9,114.73 520.17,115.56" fill="#0000f4"/>
<polygon points="436.37,118.63 433.09,119.06 434.29,124.95 437.57,124.47" fill="#ff8f00"/>
<polygon points="426.54,120.9 423.26,122.3 424.45,127.73 427.73,126.59" fill="#ffaf00"/>
<polygon points="485.3,128.27 482.02,131.88 483.22,132.59 486.5,128.54" fill="#ffcf00"/>
<polygon points="409.83,117.11 406.55,120.88 407.75,123.87 411.02,120.5" fill="#ff8f00"/>
<polygon points="445.01,114.42 441.73,113.6 442.93,118.73 446.21,119.23" fill="#ff7000"/>
<polygon points="433.09,119.06 429.81,119.82 431.01,125.66 434.29,124.95" fill="#ff8f00"/>
<polygon points="429.81,119.82 426.54,120.9 427.73,126.59 431.01,125.66" fill="#ff8f00"/>
<polygon points="443.19,98.73 439.91,95.86 441.1,97.24 444.38,100.15" fill="#ff1000"/>
<polygon points="487.38,125.33 484.11,128.24 485.3,128.27 488.58,124.9" fill="#ffaf00"/>
<polygon points="404.72,100.56 401.44,104.28 402.64,104.87 405.92,100.94" fill="#ff1000"/>
<polygon points="538.08,125.04 534.8,121.58 536,122.72 539.28,126.33" fill="#0000f4"/>
<polygon points="447.98,106.92 444.7,104.39 445.9,107.72 449.17,109.97" fill="#ff3000"/>
<polygon points="447.09,111.47 443.81,109.95 445.01,114.42 448.29,115.58" fill="#ff5000"/>
<polygon points="437.51,94.61 434.23,92.54 435.43,92.74 438.71,94.99" fill="#0000f4"/>
<polygon points="405.04,107.29 401.76,111.82 402.95,113.61 406.23,109.13" fill="#ff5000"/>
<polygon points="485.62,134.55 482.34,139.42 483.54,140.88 486.81,135.85" fill="#ffef00"/>
<polygon points="408.63,114.06 405.35,118.16 406.55,120.88 409.83,117.11" fill="#ff7000"/>
<polygon points="492.74,121.87 489.47,123.82 490.66,122.67 493.94,120.32" fill="#0000f4"/>
<polygon points="406.8,97.62 403.52,100.64 404.72,100.56 408,97.3" fill="#ff1000"/>
<polygon points="433.03,92.86 429.76,91.5 430.95,90.99 434.23,92.54" fill="#0000f4"/>
<polygon points="444.38,100.15 441.1,97.24 442.3,99.12 445.58,101.99" fill="#ff1000"/>
<polygon points="425.28,91.89 422,91.72 423.2,90.39 426.48,90.67" fill="#0000f4"/>
<polygon points="418.78,119.18 415.5,121.53 416.7,125.94 419.98,123.99" fill="#ff8f00"/>
<polygon points="406.23,109.13 402.95,113.61 404.15,115.73 407.43,111.39" fill="#ff5000"/>
<polygon points="412.16,94.27 408.88,96.11 410.08,95.07 413.36,93.05" fill="#0000f4"/>
<polygon points="407.43,111.39 404.15,115.73 405.35,118.16 408.63,114.06" fill="#ff5000"/>
<polygon points="446.78,104.25 443.5,101.51 444.7,104.39 447.98,106.92" fill="#ff1000"/>
<polygon points="414.3,117.42 411.02,120.5 412.22,124.19 415.5,121.53" fill="#ff7000"/>
<polygon points="515.7,116.61 512.42,116.4 513.62,114.29 516.9,114.73" fill="#0000f4"/>
<polygon points="445.58,101.99 442.3,99.12 443.5,101.51 446.78,104.25" fill="#ff1000"/>
<polygon points="532.41,120.21 529.13,117.63 530.33,117.84 533.61,120.75" fill="#0000f4"/>
<polygon points="539.28,126.33 536,122.72 537.2,124.18 540.48,127.85" fill="#ff8f00"/>
<polygon points="441.73,113.6 438.45,113.15 439.65,118.52 442.93,118.73" fill="#ff5000"/>
<polygon points="486.81,135.85 483.54,140.88 484.73,142.45 488.01,137.37" fill="#ffef00"/>
<polygon points="486.5,128.54 483.22,132.59 484.42,133.47 487.7,129.08" fill="#ffaf00"/>
<polygon points="523.45,116.72 520.17,115.56 521.37,114.35 524.65,115.87" fill="#0000f4"/>
<polygon points="422,91.72 418.72,92.06 419.92,90.7 423.2,90.39" fill="#0000f4"/>
<polygon points="415.44,92.91 412.16,94.27 413.36,93.05 416.64,91.58" fill="#0000f4"/>
<polygon points="496.02,120.18 492.74,121.87 493.94,120.32 497.22,118.3" fill="#0000f4"/>
<polygon points="405.92,100.94 402.64,104.87 403.84,105.87 407.12,101.81" fill="#ff1000"/>
<polygon points="418.72,92.06 415.44,92.91 416.64,91.58 419.92,90.7" fill="#0000f4"/>
<polygon points="422.06,117.17 418.78,119.18 419.98,123.99 423.26,122.3" fill="#ff7000"/>
<polygon points="527.93,117.76 524.65,115.87 525.85,115.38 529.13,117.63" fill="#0000f4"/>
<polygon points="445.9,107.72 442.62,105.9 443.81,109.95 447.09,111.47" fill="#ff3000"/>
<polygon points="512.42,116.4 509.14,116.51 510.34,114.25 513.62,114.29" fill="#0000f4"/>
<polygon points="438.71,94.99 435.43,92.74 436.63,93.5 439.91,95.86" fill="#0000f4"/>
<polygon points="490.66,122.67 487.38,125.33 488.58,124.9 491.86,121.82" fill="#ff7000"/>
<polygon points="438.45,113.15 435.18,113.11 436.37,118.63 439.65,118.52" fill="#ff5000"/>
<polygon points="443.81,109.95 440.54,108.84 441.73,113.6 445.01,114.42" fill="#ff3000"/>
<polygon points="413.11,113.67 409.83,117.11 411.02,120.5 414.3,117.42" fill="#ff5000"/>
<polygon points="499.3,118.78 496.02,120.18 497.22,118.3 500.5,116.67" fill="#0000f4"/>
<polygon points="410.08,95.07 406.8,97.62 408,97.3 411.28,94.55" fill="#cf0000"/>
<polygon points="488.58,124.9 485.3,128.27 486.5,128.54 489.78,124.76" fill="#ff8f00"/>
<polygon points="429.76,91.5 426.48,90.67 427.67,90.01 430.95,90.99" fill="#0000f4"/>
<polygon points="509.14,116.51 505.86,116.94 507.06,114.64 510.34,114.25" fill="#0000f4"/>
<polygon points="425.34,115.53 422.06,117.17 423.26,122.3 426.54,120.9" fill="#ff5000"/>
<polygon points="417.58,114.71 414.3,117.42 415.5,121.53 418.78,119.18" fill="#ff5000"/>
<polygon points="408,97.3 404.72,100.56 405.92,100.94 409.2,97.5" fill="#ef0000"/>
<polygon points="502.58,117.7 499.3,118.78 500.5,116.67 503.78,115.44" fill="#0000f4"/>
<polygon points="533.61,120.75 530.33,117.84 531.52,118.43 534.8,121.58" fill="#0000f4"/>
<polygon points="505.86,116.94 502.58,117.7 503.78,115.44 507.06,114.64" fill="#0000f4"/>
<polygon points="435.18,113.11 431.9,113.5 433.09,119.06 436.37,118.63" fill="#ff5000"/>
<polygon points="407.12,101.81 403.84,105.87 405.04,107.29 408.31,103.19" fill="#ff1000"/>
<polygon points="487.7,129.08 484.42,133.47 485.62,134.55 488.9,129.91" fill="#ffaf00"/>
<polygon points="434.23,92.54 430.95,90.99 432.15,91.04 435.43,92.74" fill="#0000f4"/>
<polygon points="428.62,114.3 425.34,115.53 426.54,120.9 429.81,119.82" fill="#ff5000"/>
<polygon points="431.9,113.5 428.62,114.3 429.81,119.82 433.09,119.06" fill="#ff5000"/>
<polygon points="444.7,104.39 441.42,102.32 442.62,105.9 445.9,107.72" fill="#ff1000"/>
<polygon points="411.91,110.34 408.63,114.06 409.83,117.11 413.11,113.67" fill="#ff3000"/>
<polygon points="439.91,95.86 436.63,93.5 437.83,94.83 441.1,97.24" fill="#cf0000"/>
<polygon points="520.17,115.56 516.9,114.73 518.09,113.24 521.37,114.35" fill="#0000f4"/>
<polygon points="408.31,103.19 405.04,107.29 406.23,109.13 409.51,105.07" fill="#ff1000"/>
<polygon points="410.71,107.46 407.43,111.39 408.63,114.06 411.91,110.34" fill="#ff1000"/>
<polygon points="440.54,108.84 437.26,108.19 438.45,113.15 441.73,113.6" fill="#ff1000"/>
<polygon points="413.36,93.05 410.08,95.07 411.28,94.55 414.56,92.39" fill="#af0000"/>
<polygon points="493.94,120.32 490.66,122.67 491.86,121.82 495.14,119.11" fill="#0000f4"/>
<polygon points="409.51,105.07 406.23,109.13 407.43,111.39 410.71,107.46" fill="#ff1000"/>
<polygon points="426.48,90.67 423.2,90.39 424.4,89.64 427.67,90.01" fill="#0000f4"/>
<polygon points="443.5,101.51 440.22,99.26 441.42,102.32 444.7,104.39" fill="#ef0000"/>
<polygon points="441.1,97.24 437.83,94.83 439.02,96.76 442.3,99.12" fill="#cf0000"/>
<polygon points="420.86,112.41 417.58,114.71 418.78,119.18 422.06,117.17" fill="#ff3000"/>
<polygon points="442.62,105.9 439.34,104.54 440.54,108.84 443.81,109.95" fill="#ff1000"/>
<polygon points="488.9,129.91 485.62,134.55 486.81,135.85 490.09,131.05" fill="#ff8f00"/>
<polygon points="534.8,121.58 531.52,118.43 532.72,119.43 536,122.72" fill="#0000f4"/>
<polygon points="442.3,99.12 439.02,96.76 440.22,99.26 443.5,101.51" fill="#cf0000"/>
<polygon points="529.13,117.63 525.85,115.38 527.05,115.31 530.33,117.84" fill="#0000f4"/>
<polygon points="416.38,110.66 413.11,113.67 414.3,117.42 417.58,114.71" fill="#ff3000"/>
<polygon points="409.2,97.5 405.92,100.94 407.12,101.81 410.4,98.26" fill="#cf0000"/>
<polygon points="489.78,124.76 486.5,128.54 487.7,129.08 490.98,124.98" fill="#ff7000"/>
<polygon points="524.65,115.87 521.37,114.35 522.57,113.55 525.85,115.38" fill="#0000f4"/>
<polygon points="416.64,91.58 413.36,93.05 414.56,92.39 417.84,90.83" fill="#0000f4"/>
<polygon points="423.2,90.39 419.92,90.7 421.12,89.91 424.4,89.64" fill="#0000f4"/>
<polygon points="411.28,94.55 408,97.3 409.2,97.5 412.48,94.61" fill="#af0000"/>
<polygon points="435.43,92.74 432.15,91.04 433.35,91.71 436.63,93.5" fill="#0000f4"/>
<polygon points="491.86,121.82 488.58,124.9 489.78,124.76 493.06,121.33" fill="#ff5000"/>
<polygon points="437.26,108.19 433.98,108.02 435.18,113.11 438.45,113.15" fill="#ff1000"/>
<polygon points="516.9,114.73 513.62,114.29 514.81,112.58 518.09,113.24" fill="#0000f4"/>
<polygon points="419.92,90.7 416.64,91.58 417.84,90.83 421.12,89.91" fill="#0000f4"/>
<polygon points="430.95,90.99 427.67,90.01 428.87,89.96 432.15,91.04" fill="#0000f4"/>
<polygon points="424.14,110.57 420.86,112.41 422.06,117.17 425.34,115.53" fill="#ff1000"/>
<polygon points="490.09,131.05 486.81,135.85 488.01,137.37 491.29,132.51" fill="#ff8f00"/>
<polygon points="497.22,118.3 493.94,120.32 495.14,119.11 498.42,116.81" fill="#0000f4"/>
<polygon points="536,122.72 532.72,119.43 533.92,120.84 537.2,124.18" fill="#ff5000"/>
<polygon points="415.19,107.08 411.91,110.34 413.11,113.67 416.38,110.66" fill="#ff1000"/>
<polygon points="441.42,102.32 438.14,100.76 439.34,104.54 442.62,105.9" fill="#cf0000"/>
<polygon points="433.98,108.02 430.7,108.36 431.9,113.5 435.18,113.11" fill="#ff1000"/>
<polygon points="410.4,98.26 407.12,101.81 408.31,103.19 411.59,99.59" fill="#cf0000"/>
<polygon points="427.42,109.21 424.14,110.57 425.34,115.53 428.62,114.3" fill="#ff1000"/>
<polygon points="430.7,108.36 427.42,109.21 428.62,114.3 431.9,113.5" fill="#ff1000"/>
<polygon points="439.34,104.54 436.06,103.71 437.26,108.19 440.54,108.84" fill="#ef0000"/>
<polygon points="419.66,108.11 416.38,110.66 417.58,114.71 420.86,112.41" fill="#ff1000"/>
<polygon points="513.62,114.29 510.34,114.25 511.54,112.42 514.81,112.58" fill="#0000f4"/>
<polygon points="436.63,93.5 433.35,91.71 434.55,93.02 437.83,94.83" fill="#8f0000"/>
<polygon points="490.98,124.98 487.7,129.08 488.9,129.91 492.18,125.57" fill="#ff5000"/>
<polygon points="500.5,116.67 497.22,118.3 498.42,116.81 501.7,114.96" fill="#0000f4"/>
<polygon points="530.33,117.84 527.05,115.31 528.24,115.69 531.52,118.43" fill="#0000f4"/>
<polygon points="413.99,104.02 410.71,107.46 411.91,110.34 415.19,107.08" fill="#ef0000"/>
<polygon points="414.56,92.39 411.28,94.55 412.48,94.61 415.76,92.34" fill="#8f0000"/>
<polygon points="411.59,99.59 408.31,103.19 409.51,105.07 412.79,101.52" fill="#cf0000"/>
<polygon points="440.22,99.26 436.94,97.56 438.14,100.76 441.42,102.32" fill="#af0000"/>
<polygon points="427.67,90.01 424.4,89.64 425.59,89.53 428.87,89.96" fill="#0000f4"/>
<polygon points="412.79,101.52 409.51,105.07 410.71,107.46 413.99,104.02" fill="#cf0000"/>
<polygon points="412.48,94.61 409.2,97.5 410.4,98.26 413.67,95.28" fill="#af0000"/>
<polygon points="521.37,114.35 518.09,113.24 519.29,112.2 522.57,113.55" fill="#0000f4"/>
<polygon points="510.34,114.25 507.06,114.64 508.26,112.76 511.54,112.42" fill="#0000f4"/>
<polygon points="437.83,94.83 434.55,93.02 435.74,94.97 439.02,96.76" fill="#8f0000"/>
<polygon points="503.78,115.44 500.5,116.67 501.7,114.96 504.98,113.61" fill="#0000f4"/>
<polygon points="495.14,119.11 491.86,121.82 493.06,121.33 496.34,118.31" fill="#ff3000"/>
<polygon points="439.02,96.76 435.74,94.97 436.94,97.56 440.22,99.26" fill="#af0000"/>
<polygon points="432.15,91.04 428.87,89.96 430.07,90.56 433.35,91.71" fill="#ff00ff"/>
<polygon points="507.06,114.64 503.78,115.44 504.98,113.61 508.26,112.76" fill="#0000f4"/>
<polygon points="525.85,115.38 522.57,113.55 523.77,113.23 527.05,115.31" fill="#0000f4"/>
<polygon points="436.06,103.71 432.78,103.43 433.98,108.02 437.26,108.19" fill="#cf0000"/>
<polygon points="493.06,121.33 489.78,124.76 490.98,124.98 494.26,121.26" fill="#ff3000"/>
<polygon points="422.94,106.09 419.66,108.11 420.86,112.41 424.14,110.57" fill="#ef0000"/>
<polygon points="417.84,90.83 414.56,92.39 415.76,92.34 419.04,90.72" fill="#ff00ff"/>
<polygon points="418.47,104.33 415.19,107.08 416.38,110.66 419.66,108.11" fill="#cf0000"/>
<polygon points="424.4,89.64 421.12,89.91 422.31,89.78 425.59,89.53" fill="#0000f4"/>
<polygon points="438.14,100.76 434.86,99.79 436.06,103.71 439.34,104.54" fill="#af0000"/>
<polygon points="492.18,125.57 488.9,129.91 490.09,131.05 493.37,126.57" fill="#ff5000"/>
<polygon points="421.12,89.91 417.84,90.83 419.04,90.72 422.31,89.78" fill="#d8d8d8"/>
<polygon points="531.52,118.43 528.24,115.69 529.44,116.56 532.72,119.43" fill="#0000f4"/>
<polygon points="432.78,103.43 429.5,103.73 430.7,108.36 433.98,108.02" fill="#cf0000"/>
<polygon points="426.22,104.62 422.94,106.09 424.14,110.57 427.42,109.21" fill="#cf0000"/>
<polygon points="413.67,95.28 410.4,98.26 411.59,99.59 414.87,96.59" fill="#8f0000"/>
<polygon points="429.5,103.73 426.22,104.62 427.42,109.21 430.7,108.36" fill="#cf0000"/>
<polygon points="415.76,92.34 412.48,94.61 413.67,95.28 416.95,92.94" fill="#ff00ff"/>
<polygon points="433.35,91.71 430.07,90.56 431.27,91.85 434.55,93.02" fill="#d8d8d8"/>
<polygon points="417.27,101.13 413.99,104.02 415.19,107.08 418.47,104.33" fill="#af0000"/>
<polygon points="518.09,113.24 514.81,112.58 516.01,111.36 519.29,112.2" fill="#0000f4"/>
<polygon points="428.87,89.96 425.59,89.53 426.79,90.09 430.07,90.56" fill="#d8d8d8"/>
<polygon points="498.42,116.81 495.14,119.11 496.34,118.31 499.62,115.77" fill="#0000f4"/>
<polygon points="436.94,97.56 433.66,96.48 434.86,99.79 438.14,100.76" fill="#8f0000"/>
<polygon points="414.87,96.59 411.59,99.59 412.79,101.52 416.07,98.54" fill="#8f0000"/>
<polygon points="493.37,126.57 490.09,131.05 491.29,132.51 494.57,127.98" fill="#ff5000"/>
<polygon points="416.07,98.54 412.79,101.52 413.99,104.02 417.27,101.13" fill="#af0000"/>
<polygon points="421.74,102.16 418.47,104.33 419.66,108.11 422.94,106.09" fill="#af0000"/>
<polygon points="434.86,99.79 431.58,99.42 432.78,103.43 436.06,103.71" fill="#af0000"/>
<polygon points="532.72,119.43 529.44,116.56 530.64,117.93 533.92,120.84" fill="#ff1000"/>
<polygon points="434.55,93.02 431.27,91.85 432.47,93.82 435.74,94.97" fill="#d8d8d8"/>
<polygon points="435.74,94.97 432.47,93.82 433.66,96.48 436.94,97.56" fill="#ff00ff"/>
<polygon points="494.26,121.26 490.98,124.98 492.18,125.57 495.45,121.64" fill="#ff1000"/>
<polygon points="419.04,90.72 415.76,92.34 416.95,92.94 420.23,91.28" fill="#d8d8d8"/>
<polygon points="527.05,115.31 523.77,113.23 524.97,113.43 528.24,115.69" fill="#0000f4"/>
<polygon points="425.59,89.53 422.31,89.78 423.51,90.33 426.79,90.09" fill="#d8d8d8"/>
<polygon points="496.34,118.31 493.06,121.33 494.26,121.26 497.54,117.99" fill="#ff1000"/>
<polygon points="522.57,113.55 519.29,112.2 520.49,111.68 523.77,113.23" fill="#0000f4"/>
<polygon points="416.95,92.94 413.67,95.28 414.87,96.59 418.15,94.23" fill="#d8d8d8"/>
<polygon points="425.02,100.61 421.74,102.16 422.94,106.09 426.22,104.62" fill="#af0000"/>
<polygon points="422.31,89.78 419.04,90.72 420.23,91.28 423.51,90.33" fill="#d8d8d8"/>
<polygon points="514.81,112.58 511.54,112.42 512.73,111.09 516.01,111.36" fill="#0000f4"/>
<polygon points="431.58,99.42 428.3,99.69 429.5,103.73 432.78,103.43" fill="#8f0000"/>
<polygon points="501.7,114.96 498.42,116.81 499.62,115.77 502.9,113.74" fill="#0000f4"/>
<polygon points="430.07,90.56 426.79,90.09 427.99,91.37 431.27,91.85" fill="#d8d8d8"/>
<polygon points="420.55,98.86 417.27,101.13 418.47,104.33 421.74,102.16" fill="#8f0000"/>
<polygon points="428.3,99.69 425.02,100.61 426.22,104.62 429.5,103.73" fill="#8f0000"/>
<polygon points="433.66,96.48 430.38,96.05 431.58,99.42 434.86,99.79" fill="#ff00ff"/>
<polygon points="418.15,94.23 414.87,96.59 416.07,98.54 419.35,96.2" fill="#d8d8d8"/>
<polygon points="419.35,96.2 416.07,98.54 417.27,101.13 420.55,98.86" fill="#ff00ff"/>
<polygon points="511.54,112.42 508.26,112.76 509.45,111.39 512.73,111.09" fill="#0000f4"/>
<polygon points="504.98,113.61 501.7,114.96 502.9,113.74 506.18,112.28" fill="#0000f4"/>
<polygon points="431.27,91.85 427.99,91.37 429.19,93.35 432.47,93.82" fill="#d8d8d8"/>
<polygon points="432.47,93.82 429.19,93.35 430.38,96.05 433.66,96.48" fill="#d8d8d8"/>
<polygon points="420.23,91.28 416.95,92.94 418.15,94.23 421.43,92.56" fill="#d8d8d8"/>
<polygon points="495.45,121.64 492.18,125.57 493.37,126.57 496.65,122.51" fill="#ff1000"/>
<polygon points="508.26,112.76 504.98,113.61 506.18,112.28 509.45,111.39" fill="#0000f4"/>
<polygon points="426.79,90.09 423.51,90.33 424.71,91.6 427.99,91.37" fill="#d8d8d8"/>
<polygon points="423.83,97.24 420.55,98.86 421.74,102.16 425.02,100.61" fill="#ff00ff"/>
<polygon points="430.38,96.05 427.11,96.3 428.3,99.69 431.58,99.42" fill="#d8d8d8"/>
<polygon points="528.24,115.69 524.97,113.43 526.16,114.19 529.44,116.56" fill="#0000f4"/>
<polygon points="423.51,90.33 420.23,91.28 421.43,92.56 424.71,91.6" fill="#d8d8d8"/>
<polygon points="427.11,96.3 423.83,97.24 425.02,100.61 428.3,99.69" fill="#d8d8d8"/>
<polygon points="421.43,92.56 418.15,94.23 419.35,96.2 422.63,94.54" fill="#d8d8d8"/>
<polygon points="499.62,115.77 496.34,118.31 497.54,117.99 500.81,115.25" fill="#cf0000"/>
<polygon points="422.63,94.54 419.35,96.2 420.55,98.86 423.83,97.24" fill="#d8d8d8"/>
<polygon points="519.29,112.2 516.01,111.36 517.21,110.7 520.49,111.68" fill="#0000f4"/>
<polygon points="427.99,91.37 424.71,91.6 425.91,93.59 429.19,93.35" fill="#d8d8d8"/>
<polygon points="429.19,93.35 425.91,93.59 427.11,96.3 430.38,96.05" fill="#d8d8d8"/>
<polygon points="497.54,117.99 494.26,121.26 495.45,121.64 498.73,118.19" fill="#ef0000"/>
<polygon points="424.71,91.6 421.43,92.56 422.63,94.54 425.91,93.59" fill="#d8d8d8"/>
<polygon points="425.91,93.59 422.63,94.54 423.83,97.24 427.11,96.3" fill="#d8d8d8"/>
<polygon points="496.65,122.51 493.37,126.57 494.57,127.98 497.85,123.88" fill="#ff1000"/>
<polygon points="523.77,113.23 520.49,111.68 521.69,111.74 524.97,113.43" fill="#0000f4"/>
<polygon points="529.44,116.56 526.16,114.19 527.36,115.53 530.64,117.93" fill="#cf0000"/>
<polygon points="502.9,113.74 499.62,115.77 500.81,115.25 504.09,113.08" fill="#af0000"/>
<polygon points="516.01,111.36 512.73,111.09 513.93,110.34 517.21,110.7" fill="#0000f4"/>
<polygon points="498.73,118.19 495.45,121.64 496.65,122.51 499.93,118.95" fill="#cf0000"/>
<polygon points="506.18,112.28 502.9,113.74 504.09,113.08 507.37,111.53" fill="#0000f4"/>
<polygon points="512.73,111.09 509.45,111.39 510.65,110.61 513.93,110.34" fill="#0000f4"/>
<polygon points="500.81,115.25 497.54,117.99 498.73,118.19 502.01,115.31" fill="#af0000"/>
<polygon points="524.97,113.43 521.69,111.74 522.88,112.41 526.16,114.19" fill="#0000f4"/>
<polygon points="509.45,111.39 506.18,112.28 507.37,111.53 510.65,110.61" fill="#0000f4"/>
<polygon points="520.49,111.68 517.21,110.7 518.41,110.65 521.69,111.74" fill="#0000f4"/>
<polygon points="499.93,118.95 496.65,122.51 497.85,123.88 501.13,120.29" fill="#cf0000"/>
<polygon points="526.16,114.19 522.88,112.41 524.08,113.71 527.36,115.53" fill="#8f0000"/>
<polygon points="504.09,113.08 500.81,115.25 502.01,115.31 505.29,113.03" fill="#8f0000"/>
<polygon points="517.21,110.7 513.93,110.34 515.13,110.22 518.41,110.65" fill="#0000f4"/>
<polygon points="502.01,115.31 498.73,118.19 499.93,118.95 503.21,115.98" fill="#af0000"/>
<polygon points="521.69,111.74 518.41,110.65 519.61,111.26 522.88,112.41" fill="#ff00ff"/>
<polygon points="507.37,111.53 504.09,113.08 505.29,113.03 508.57,111.41" fill="#ff00ff"/>
<polygon points="513.93,110.34 510.65,110.61 511.85,110.47 515.13,110.22" fill="#0000f4"/>
<polygon points="510.65,110.61 507.37,111.53 508.57,111.41 511.85,110.47" fill="#d8d8d8"/>
<polygon points="503.21,115.98 499.93,118.95 501.13,120.29 504.41,117.28" fill="#8f0000"/>
<polygon points="505.29,113.03 502.01,115.31 503.21,115.98 506.49,113.64" fill="#ff00ff"/>
<polygon points="522.88,112.41 519.61,111.26 520.8,112.54 524.08,113.71" fill="#d8d8d8"/>
<polygon points="518.41,110.65 515.13,110.22 516.33,110.79 519.61,111.26" fill="#d8d8d8"/>
<polygon points="508.57,111.41 505.29,113.03 506.49,113.64 509.77,111.98" fill="#d8d8d8"/>
<polygon points="515.13,110.22 511.85,110.47 513.05,111.03 516.33,110.79" fill="#d8d8d8"/>
<polygon points="506.49,113.64 503.21,115.98 504.41,117.28 507.69,114.92" fill="#d8d8d8"/>
<polygon points="511.85,110.47 508.57,111.41 509.77,111.98 513.05,111.03" fill="#d8d8d8"/>
<polygon points="519.61,111.26 516.33,110.79 517.52,112.06 520.8,112.54" fill="#d8d8d8"/>
<polygon points="509.77,111.98 506.49,113.64 507.69,114.92 510.97,113.25" fill="#d8d8d8"/>
<polygon points="516.33,110.79 513.05,111.03 514.25,112.29 517.52,112.06" fill="#d8d8d8"/>
<polygon points="513.05,111.03 509.77,111.98 510.97,113.25 514.25,112.29" fill="#d8d8d8"/>
</g>
<path d="M571.5 171.1l3.26 4.43M550.62 174.89l1.78 2.42M529.75 178.68l3.26 4.43M508.88 182.46l1.78 2.42M488 186.25l3.26 4.43M467.12 190.04l1.78 2.42M446.25 193.82l3.26 4.43M425.38 197.61l1.78 2.42M404.5 201.4l3.26 4.43M343.5 118.4l-6.4 1.16M351.12 128.78l-3.44 0.62M358.75 139.15l-3.44 0.62M366.38 149.53l-3.44 0.62M374 159.9l-6.4 1.16M381.62 170.28l-3.44 0.62M389.25 180.65l-3.44 0.62M396.88 191.03l-3.44 0.62M404.5 201.4l-3.15 0.57M571.5 171.1l6.38 -1.16M571.5 156.1l3.19 -0.58M571.5 141.1l6.38 -1.16M571.5 126.1l3.19 -0.58M571.5 111.1l6.38 -1.16" stroke="#000" stroke-width="1" fill="none"/>
<text x="412.4" y="216.4" font-size="10" text-anchor="middle">4</text>
<text x="453.7" y="209" font-size="10" text-anchor="middle">2</text>
<text x="495.6" y="201.4" font-size="10" text-anchor="middle">0</text>
<text x="539.4" y="196.6" font-size="10" text-anchor="middle">-2</text>
<text x="581.7" y="189.3" font-size="10" text-anchor="middle">-4</text>
<text x="360.7" y="165.2" font-size="10" text-anchor="middle">0</text>
<text x="583.6" y="112.3" font-size="10" text-anchor="middle">1</text>
<text x="583.6" y="142" font-size="10" text-anchor="middle">0</text>
<text x="584.6" y="172.4" font-size="10" text-anchor="middle">-1</text>
<text x="505" y="223.2" font-size="12.5" text-anchor="middle">X</text>
<text x="346.7" y="166.6" font-size="12.5" text-anchor="middle">Y</text>
<text x="599" y="141" font-size="12.5" text-anchor="middle">Z</text>
</g>
<g id="param3d">
<path d="M99 338.1L251.9 377.8M99 338.1L99 269.1M76 359.3L228.9 399M76 359.3L76 290.3M53 380.5L205.9 420.2M53 380.5L53 311.5M63.34 396.77L132.34 333.17M132.34 333.17L132.34 264.17M107.03 408.11L176.03 344.51M176.03 344.51L176.03 275.51M150.71 419.46L219.71 355.86M219.71 355.86L219.71 286.86M263.4 367.2L263.4 298.2M41.5 347.98L110.5 284.38M110.5 284.38L263.4 324.07" stroke="#b8b8b8" stroke-width="1" fill="none" stroke-dasharray="2.6 2.6"/>
<line x1="110.5" y1="258.5" x2="110.5" y2="327.5" stroke="#0000ff" stroke-width="1" stroke-dasharray="13 6.3"/>
<path d="M41.5 391.1L110.5 327.5M263.4 367.2L110.5 327.5" stroke="#1a2aff" stroke-width="0.95" fill="none" stroke-dasharray="8 2 2 2"/>
<path d="M41.5 391.1L194.4 430.8L263.4 367.2L263.4 298.2L110.5 258.5L41.5 322.1ZM41.5 322.1L194.4 361.8L263.4 298.2M194.4 361.8L194.4 430.8" stroke="#808080" stroke-width="1" fill="none"/>
<defs><g id="mk"><path d="M0 -4.6Q0.3 -0.3 4.6 0Q0.3 0.3 0 4.6Q-0.3 0.3 -4.6 0Q-0.3 -0.3 0 -4.6Z" fill="#ff00ff"/><path d="M0 -4.5V4.5M-4.5 0H4.5" stroke="#ff00ff" stroke-width="0.75"/><path d="M-2.1 -2.1L2.1 2.1M-2.1 2.1L2.1 -2.1" stroke="#ff00ff" stroke-width="0.75"/></g><g id="mc"><path d="M0 -2.5L0.65 -0.65L2.5 0L0.65 0.65L0 2.5L-0.65 0.65L-2.5 0L-0.65 -0.65Z" fill="#ff00ff"/></g></defs>
<use href="#mk" x="210.12" y="394.12"/>
<use href="#mk" x="205.76" y="396.8"/>
<use href="#mk" x="200.81" y="399.24"/>
<use href="#mk" x="195.33" y="401.4"/>
<use href="#mk" x="189.39" y="403.26"/>
<use href="#mk" x="183.04" y="404.8"/>
<use href="#mk" x="176.36" y="406.02"/>
<use href="#mk" x="169.42" y="406.89"/>
<use href="#mk" x="162.29" y="407.4"/>
<use href="#mk" x="155.05" y="407.56"/>
<use href="#mk" x="147.78" y="407.36"/>
<use href="#mk" x="140.53" y="406.81"/>
<use href="#mk" x="133.4" y="405.91"/>
<use href="#mk" x="126.44" y="404.66"/>
<use href="#mk" x="119.74" y="403.09"/>
<use href="#mk" x="113.34" y="401.21"/>
<use href="#mk" x="107.31" y="399.03"/>
<use href="#mk" x="101.72" y="396.59"/>
<use href="#mk" x="96.6" y="393.9"/>
<use href="#mk" x="92" y="390.99"/>
<use href="#mk" x="87.97" y="387.89"/>
<use href="#mk" x="84.53" y="384.63"/>
<use href="#mk" x="81.72" y="381.24"/>
<use href="#mk" x="79.54" y="377.75"/>
<use href="#mk" x="78.02" y="374.2"/>
<use href="#mk" x="77.16" y="370.61"/>
<use href="#mk" x="76.96" y="367.02"/>
<use href="#mk" x="77.41" y="363.47"/>
<use href="#mk" x="78.49" y="359.98"/>
<use href="#mk" x="80.19" y="356.58"/>
<use href="#mk" x="82.48" y="353.3"/>
<use href="#mk" x="85.33" y="350.18"/>
<use href="#mk" x="88.69" y="347.23"/>
<use href="#mk" x="92.54" y="344.47"/>
<use href="#mk" x="96.81" y="341.94"/>
<use href="#mk" x="101.46" y="339.64"/>
<use href="#mk" x="106.44" y="337.6"/>
<use href="#mk" x="111.69" y="335.81"/>
<use href="#mk" x="117.16" y="334.31"/>
<use href="#mk" x="122.77" y="333.08"/>
<use href="#mk" x="128.48" y="332.14"/>
<use href="#mk" x="134.23" y="331.48"/>
<use href="#mk" x="139.95" y="331.1"/>
<use href="#mk" x="145.59" y="331"/>
<use href="#mk" x="151.09" y="331.17"/>
<use href="#mk" x="156.4" y="331.6"/>
<use href="#mk" x="161.46" y="332.28"/>
<use href="#mk" x="166.23" y="333.18"/>
<use href="#mk" x="170.67" y="334.3"/>
<use href="#mk" x="174.73" y="335.61"/>
<use href="#mk" x="178.39" y="337.09"/>
<use href="#mk" x="181.6" y="338.72"/>
<use href="#mk" x="184.35" y="340.48"/>
<use href="#mk" x="186.62" y="342.33"/>
<use href="#mk" x="188.39" y="344.27"/>
<use href="#mk" x="189.66" y="346.25"/>
<use href="#mk" x="190.41" y="348.26"/>
<use href="#mk" x="190.66" y="350.26"/>
<use href="#mk" x="190.41" y="352.24"/>
<use href="#mk" x="189.66" y="354.18"/>
<use href="#mk" x="188.45" y="356.03"/>
<use href="#mk" x="186.79" y="357.8"/>
<use href="#mk" x="184.7" y="359.44"/>
<use href="#mk" x="182.22" y="360.96"/>
<use href="#mk" x="179.39" y="362.32"/>
<use href="#mk" x="176.23" y="363.51"/>
<use href="#mk" x="172.78" y="364.52"/>
<use href="#mk" x="169.1" y="365.35"/>
<use href="#mk" x="165.22" y="365.97"/>
<use href="#mk" x="161.18" y="366.38"/>
<use href="#mk" x="157.04" y="366.59"/>
<use href="#mk" x="152.83" y="366.58"/>
<use href="#mk" x="148.6" y="366.36"/>
<use href="#mk" x="144.4" y="365.93"/>
<use href="#mk" x="140.27" y="365.3"/>
<use href="#mk" x="136.26" y="364.47"/>
<use href="#mk" x="132.39" y="363.45"/>
<use href="#mk" x="128.71" y="362.26"/>
<use href="#mk" x="125.25" y="360.89"/>
<use href="#mk" x="122.04" y="359.38"/>
<use href="#mk" x="119.11" y="357.73"/>
<use href="#mk" x="116.49" y="355.96"/>
<use href="#mk" x="114.19" y="354.09"/>
<use href="#mk" x="112.23" y="352.13"/>
<use href="#mk" x="110.62" y="350.1"/>
<use href="#mk" x="109.37" y="348.03"/>
<use href="#mk" x="108.48" y="345.93"/>
<use href="#mk" x="107.96" y="343.82"/>
<use href="#mk" x="107.8" y="341.71"/>
<use href="#mk" x="107.98" y="339.63"/>
<use href="#mk" x="108.51" y="337.6"/>
<use href="#mk" x="109.36" y="335.62"/>
<use href="#mk" x="110.51" y="333.71"/>
<use href="#mk" x="111.96" y="331.9"/>
<use href="#mk" x="113.66" y="330.18"/>
<use href="#mk" x="115.59" y="328.57"/>
<use href="#mk" x="117.73" y="327.09"/>
<use href="#mk" x="120.05" y="325.73"/>
<use href="#mk" x="122.52" y="324.51"/>
<use href="#mk" x="125.1" y="323.43"/>
<use href="#mk" x="127.77" y="322.48"/>
<use href="#mk" x="130.48" y="321.69"/>
<use href="#mk" x="133.22" y="321.03"/>
<use href="#mk" x="135.95" y="320.51"/>
<use href="#mk" x="138.63" y="320.14"/>
<use href="#mk" x="141.25" y="319.89"/>
<use href="#mk" x="143.77" y="319.77"/>
<use href="#mk" x="146.17" y="319.76"/>
<use href="#mk" x="148.42" y="319.87"/>
<use href="#mk" x="150.52" y="320.07"/>
<use href="#mk" x="152.43" y="320.36"/>
<use href="#mk" x="154.15" y="320.73"/>
<use href="#mk" x="155.65" y="321.16"/>
<use href="#mk" x="156.94" y="321.64"/>
<use href="#mk" x="158.01" y="322.17"/>
<use href="#mk" x="158.85" y="322.72"/>
<use href="#mk" x="159.47" y="323.28"/>
<use href="#mk" x="159.86" y="323.85"/>
<use href="#mk" x="160.02" y="324.41"/>
<use href="#mk" x="159.98" y="324.94"/>
<use href="#mk" x="159.73" y="325.45"/>
<use href="#mk" x="159.3" y="325.91"/>
<use href="#mk" x="158.69" y="326.33"/>
<use href="#mk" x="157.92" y="326.69"/>
<use href="#mk" x="157" y="326.98"/>
<use href="#mk" x="155.97" y="327.2"/>
<use href="#mk" x="154.82" y="327.34"/>
<use href="#mk" x="153.6" y="327.41"/>
<use href="#mk" x="152.31" y="327.39"/>
<use href="#mk" x="150.98" y="327.3"/>
<use href="#mk" x="149.62" y="327.12"/>
<use href="#mk" x="148.27" y="326.86"/>
<use href="#mk" x="146.93" y="326.52"/>
<use href="#mk" x="145.62" y="326.11"/>
<use href="#mk" x="144.37" y="325.62"/>
<use href="#mk" x="143.18" y="325.08"/>
<use href="#mk" x="142.07" y="324.47"/>
<use href="#mk" x="141.06" y="323.81"/>
<use href="#mk" x="140.15" y="323.1"/>
<use href="#mk" x="139.35" y="322.36"/>
<use href="#mk" x="138.67" y="321.58"/>
<use href="#mk" x="138.11" y="320.79"/>
<use href="#mk" x="137.67" y="319.98"/>
<use href="#mk" x="137.36" y="319.17"/>
<use href="#mk" x="137.17" y="318.36"/>
<use href="#mk" x="137.09" y="317.55"/>
<use href="#mk" x="137.12" y="316.77"/>
<use href="#mk" x="137.25" y="316.01"/>
<use href="#mk" x="137.48" y="315.28"/>
<use href="#mk" x="137.78" y="314.58"/>
<use href="#mk" x="138.16" y="313.93"/>
<use href="#mk" x="138.59" y="313.32"/>
<use href="#mk" x="139.06" y="312.75"/>
<use href="#mk" x="139.56" y="312.23"/>
<use href="#mk" x="140.07" y="311.76"/>
<use href="#mk" x="140.58" y="311.34"/>
<use href="#mk" x="141.07" y="310.97"/>
<use href="#mk" x="141.53" y="310.64"/>
<path d="M210.12 394.12 L205.76 396.8 L200.81 399.24 L195.33 401.4 L189.39 403.26 L183.04 404.8 L176.36 406.02 L169.42 406.89 L162.29 407.4 L155.05 407.56 L147.78 407.36 L140.53 406.81 L133.4 405.91 L126.44 404.66 L119.74 403.09 L113.34 401.21 L107.31 399.03 L101.72 396.59 L96.6 393.9 L92 390.99 L87.97 387.89 L84.53 384.63 L81.72 381.24 L79.54 377.75 L78.02 374.2 L77.16 370.61 L76.96 367.02 L77.41 363.47 L78.49 359.98 L80.19 356.58 L82.48 353.3 L85.33 350.18 L88.69 347.23 L92.54 344.47 L96.81 341.94 L101.46 339.64 L106.44 337.6 L111.69 335.81 L117.16 334.31 L122.77 333.08 L128.48 332.14 L134.23 331.48 L139.95 331.1 L145.59 331 L151.09 331.17 L156.4 331.6 L161.46 332.28 L166.23 333.18 L170.67 334.3 L174.73 335.61 L178.39 337.09 L181.6 338.72 L184.35 340.48 L186.62 342.33 L188.39 344.27 L189.66 346.25 L190.41 348.26 L190.66 350.26 L190.41 352.24 L189.66 354.18 L188.45 356.03 L186.79 357.8 L184.7 359.44 L182.22 360.96 L179.39 362.32 L176.23 363.51 L172.78 364.52 L169.1 365.35 L165.22 365.97 L161.18 366.38 L157.04 366.59 L152.83 366.58 L148.6 366.36 L144.4 365.93 L140.27 365.3 L136.26 364.47 L132.39 363.45 L128.71 362.26 L125.25 360.89 L122.04 359.38 L119.11 357.73 L116.49 355.96 L114.19 354.09 L112.23 352.13 L110.62 350.1 L109.37 348.03 L108.48 345.93 L107.96 343.82 L107.8 341.71 L107.98 339.63 L108.51 337.6 L109.36 335.62 L110.51 333.71 L111.96 331.9 L113.66 330.18 L115.59 328.57 L117.73 327.09 L120.05 325.73 L122.52 324.51 L125.1 323.43 L127.77 322.48 L130.48 321.69 L133.22 321.03 L135.95 320.51 L138.63 320.14 L141.25 319.89 L143.77 319.77 L146.17 319.76 L148.42 319.87 L150.52 320.07 L152.43 320.36 L154.15 320.73 L155.65 321.16 L156.94 321.64 L158.01 322.17 L158.85 322.72 L159.47 323.28 L159.86 323.85 L160.02 324.41 L159.98 324.94 L159.73 325.45 L159.3 325.91 L158.69 326.33 L157.92 326.69 L157 326.98 L155.97 327.2 L154.82 327.34 L153.6 327.41 L152.31 327.39 L150.98 327.3 L149.62 327.12 L148.27 326.86 L146.93 326.52 L145.62 326.11 L144.37 325.62 L143.18 325.08 L142.07 324.47 L141.06 323.81 L140.15 323.1 L139.35 322.36 L138.67 321.58 L138.11 320.79 L137.67 319.98 L137.36 319.17 L137.17 318.36 L137.09 317.55 L137.12 316.77 L137.25 316.01 L137.48 315.28 L137.78 314.58 L138.16 313.93 L138.59 313.32 L139.06 312.75 L139.56 312.23 L140.07 311.76 L140.58 311.34 L141.07 310.97 L141.53 310.64" stroke="#000" stroke-width="1.1" fill="none"/>
<use href="#mc" x="210.12" y="394.12"/>
<use href="#mc" x="205.76" y="396.8"/>
<use href="#mc" x="200.81" y="399.24"/>
<use href="#mc" x="195.33" y="401.4"/>
<use href="#mc" x="189.39" y="403.26"/>
<use href="#mc" x="183.04" y="404.8"/>
<use href="#mc" x="176.36" y="406.02"/>
<use href="#mc" x="169.42" y="406.89"/>
<use href="#mc" x="162.29" y="407.4"/>
<use href="#mc" x="155.05" y="407.56"/>
<use href="#mc" x="147.78" y="407.36"/>
<use href="#mc" x="140.53" y="406.81"/>
<use href="#mc" x="133.4" y="405.91"/>
<use href="#mc" x="126.44" y="404.66"/>
<use href="#mc" x="119.74" y="403.09"/>
<use href="#mc" x="113.34" y="401.21"/>
<use href="#mc" x="107.31" y="399.03"/>
<use href="#mc" x="101.72" y="396.59"/>
<use href="#mc" x="96.6" y="393.9"/>
<use href="#mc" x="92" y="390.99"/>
<use href="#mc" x="87.97" y="387.89"/>
<use href="#mc" x="84.53" y="384.63"/>
<use href="#mc" x="81.72" y="381.24"/>
<use href="#mc" x="79.54" y="377.75"/>
<use href="#mc" x="78.02" y="374.2"/>
<use href="#mc" x="77.16" y="370.61"/>
<use href="#mc" x="76.96" y="367.02"/>
<use href="#mc" x="77.41" y="363.47"/>
<use href="#mc" x="78.49" y="359.98"/>
<use href="#mc" x="80.19" y="356.58"/>
<use href="#mc" x="82.48" y="353.3"/>
<use href="#mc" x="85.33" y="350.18"/>
<use href="#mc" x="88.69" y="347.23"/>
<use href="#mc" x="92.54" y="344.47"/>
<use href="#mc" x="96.81" y="341.94"/>
<use href="#mc" x="101.46" y="339.64"/>
<use href="#mc" x="106.44" y="337.6"/>
<use href="#mc" x="111.69" y="335.81"/>
<use href="#mc" x="117.16" y="334.31"/>
<use href="#mc" x="122.77" y="333.08"/>
<use href="#mc" x="128.48" y="332.14"/>
<use href="#mc" x="134.23" y="331.48"/>
<use href="#mc" x="139.95" y="331.1"/>
<use href="#mc" x="145.59" y="331"/>
<use href="#mc" x="151.09" y="331.17"/>
<use href="#mc" x="156.4" y="331.6"/>
<use href="#mc" x="161.46" y="332.28"/>
<use href="#mc" x="166.23" y="333.18"/>
<use href="#mc" x="170.67" y="334.3"/>
<use href="#mc" x="174.73" y="335.61"/>
<use href="#mc" x="178.39" y="337.09"/>
<use href="#mc" x="181.6" y="338.72"/>
<use href="#mc" x="184.35" y="340.48"/>
<use href="#mc" x="186.62" y="342.33"/>
<use href="#mc" x="188.39" y="344.27"/>
<use href="#mc" x="189.66" y="346.25"/>
<use href="#mc" x="190.41" y="348.26"/>
<use href="#mc" x="190.66" y="350.26"/>
<use href="#mc" x="190.41" y="352.24"/>
<use href="#mc" x="189.66" y="354.18"/>
<use href="#mc" x="188.45" y="356.03"/>
<use href="#mc" x="186.79" y="357.8"/>
<use href="#mc" x="184.7" y="359.44"/>
<use href="#mc" x="182.22" y="360.96"/>
<use href="#mc" x="179.39" y="362.32"/>
<use href="#mc" x="176.23" y="363.51"/>
<use href="#mc" x="172.78" y="364.52"/>
<use href="#mc" x="169.1" y="365.35"/>
<use href="#mc" x="165.22" y="365.97"/>
<use href="#mc" x="161.18" y="366.38"/>
<use href="#mc" x="157.04" y="366.59"/>
<use href="#mc" x="152.83" y="366.58"/>
<use href="#mc" x="148.6" y="366.36"/>
<use href="#mc" x="144.4" y="365.93"/>
<use href="#mc" x="140.27" y="365.3"/>
<use href="#mc" x="136.26" y="364.47"/>
<use href="#mc" x="132.39" y="363.45"/>
<use href="#mc" x="128.71" y="362.26"/>
<use href="#mc" x="125.25" y="360.89"/>
<use href="#mc" x="122.04" y="359.38"/>
<use href="#mc" x="119.11" y="357.73"/>
<use href="#mc" x="116.49" y="355.96"/>
<use href="#mc" x="114.19" y="354.09"/>
<use href="#mc" x="112.23" y="352.13"/>
<use href="#mc" x="110.62" y="350.1"/>
<use href="#mc" x="109.37" y="348.03"/>
<use href="#mc" x="108.48" y="345.93"/>
<use href="#mc" x="107.96" y="343.82"/>
<use href="#mc" x="107.8" y="341.71"/>
<use href="#mc" x="107.98" y="339.63"/>
<use href="#mc" x="108.51" y="337.6"/>
<use href="#mc" x="109.36" y="335.62"/>
<use href="#mc" x="110.51" y="333.71"/>
<use href="#mc" x="111.96" y="331.9"/>
<use href="#mc" x="113.66" y="330.18"/>
<use href="#mc" x="115.59" y="328.57"/>
<use href="#mc" x="117.73" y="327.09"/>
<use href="#mc" x="120.05" y="325.73"/>
<use href="#mc" x="122.52" y="324.51"/>
<use href="#mc" x="125.1" y="323.43"/>
<use href="#mc" x="127.77" y="322.48"/>
<use href="#mc" x="130.48" y="321.69"/>
<use href="#mc" x="133.22" y="321.03"/>
<use href="#mc" x="135.95" y="320.51"/>
<use href="#mc" x="138.63" y="320.14"/>
<use href="#mc" x="141.25" y="319.89"/>
<use href="#mc" x="143.77" y="319.77"/>
<use href="#mc" x="146.17" y="319.76"/>
<use href="#mc" x="148.42" y="319.87"/>
<use href="#mc" x="150.52" y="320.07"/>
<use href="#mc" x="152.43" y="320.36"/>
<use href="#mc" x="154.15" y="320.73"/>
<use href="#mc" x="155.65" y="321.16"/>
<use href="#mc" x="156.94" y="321.64"/>
<use href="#mc" x="158.01" y="322.17"/>
<use href="#mc" x="158.85" y="322.72"/>
<use href="#mc" x="159.47" y="323.28"/>
<use href="#mc" x="159.86" y="323.85"/>
<use href="#mc" x="160.02" y="324.41"/>
<use href="#mc" x="159.98" y="324.94"/>
<use href="#mc" x="159.73" y="325.45"/>
<use href="#mc" x="159.3" y="325.91"/>
<use href="#mc" x="158.69" y="326.33"/>
<use href="#mc" x="157.92" y="326.69"/>
<use href="#mc" x="157" y="326.98"/>
<use href="#mc" x="155.97" y="327.2"/>
<use href="#mc" x="154.82" y="327.34"/>
<use href="#mc" x="153.6" y="327.41"/>
<use href="#mc" x="152.31" y="327.39"/>
<use href="#mc" x="150.98" y="327.3"/>
<use href="#mc" x="149.62" y="327.12"/>
<use href="#mc" x="148.27" y="326.86"/>
<use href="#mc" x="146.93" y="326.52"/>
<use href="#mc" x="145.62" y="326.11"/>
<use href="#mc" x="144.37" y="325.62"/>
<use href="#mc" x="143.18" y="325.08"/>
<use href="#mc" x="142.07" y="324.47"/>
<use href="#mc" x="141.06" y="323.81"/>
<use href="#mc" x="140.15" y="323.1"/>
<use href="#mc" x="139.35" y="322.36"/>
<use href="#mc" x="138.67" y="321.58"/>
<use href="#mc" x="138.11" y="320.79"/>
<use href="#mc" x="137.67" y="319.98"/>
<use href="#mc" x="137.36" y="319.17"/>
<use href="#mc" x="137.17" y="318.36"/>
<use href="#mc" x="137.09" y="317.55"/>
<use href="#mc" x="137.12" y="316.77"/>
<use href="#mc" x="137.25" y="316.01"/>
<use href="#mc" x="137.48" y="315.28"/>
<use href="#mc" x="137.78" y="314.58"/>
<use href="#mc" x="138.16" y="313.93"/>
<use href="#mc" x="138.59" y="313.32"/>
<use href="#mc" x="139.06" y="312.75"/>
<use href="#mc" x="139.56" y="312.23"/>
<use href="#mc" x="140.07" y="311.76"/>
<use href="#mc" x="140.58" y="311.34"/>
<use href="#mc" x="141.07" y="310.97"/>
<use href="#mc" x="141.53" y="310.64"/>
<path d="M63.34 396.77l-4.41 4.07M72.08 399.04l-2.21 2.03M80.82 401.31l-2.21 2.03M89.55 403.58l-2.21 2.03M98.29 405.85l-2.21 2.03M107.03 408.11l-4.41 4.07M115.77 410.38l-2.21 2.03M124.5 412.65l-2.21 2.03M133.24 414.92l-2.21 2.03M141.98 417.19l-2.21 2.03M150.71 419.46l-4.41 4.07M159.45 421.73l-2.21 2.03M168.19 423.99l-2.21 2.03M176.93 426.26l-2.21 2.03M185.66 428.53l-2.21 2.03M194.4 430.8l-4.41 4.07M251.9 377.8l5.81 1.51M247.3 382.04l2.9 0.75M242.7 386.28l2.9 0.75M238.1 390.52l2.9 0.75M233.5 394.76l2.9 0.75M228.9 399l5.81 1.51M224.3 403.24l2.9 0.75M219.7 407.48l2.9 0.75M215.1 411.72l2.9 0.75M210.5 415.96l2.9 0.75M205.9 420.2l5.81 1.51M41.5 391.1l-6.1 -1.58M41.5 382.48l-2.9 -0.75M41.5 373.85l-2.9 -0.75M41.5 365.23l-2.9 -0.75M41.5 356.6l-2.9 -0.75M41.5 347.98l-6.1 -1.58" stroke="#707070" stroke-width="1" fill="none"/>
<text x="51" y="411.1" font-size="10" text-anchor="middle">-1</text>
<text x="95.6" y="420.9" font-size="10" text-anchor="middle">0</text>
<text x="140.5" y="430.8" font-size="10" text-anchor="middle">1</text>
<text x="183.6" y="443.4" font-size="10" text-anchor="middle">2</text>
<text x="216.8" y="427" font-size="10" text-anchor="middle">1</text>
<text x="240.5" y="405.7" font-size="10" text-anchor="middle">0</text>
<text x="264.5" y="385" font-size="10" text-anchor="middle">-1</text>
<text x="28.4" y="349.1" font-size="10" text-anchor="middle">1</text>
<text x="27.6" y="391.9" font-size="10" text-anchor="middle">0</text>
<text x="79.2" y="432.3" font-size="11.4" text-anchor="middle">axis Y</text>
<text x="268" y="408.9" font-size="11.4" text-anchor="middle">axis X</text>
<text x="16.7" y="355.6" font-size="11.4" text-anchor="end">axis Z</text>
</g>
<g id="bar3d">
<line x1="388.5" y1="258.8" x2="388.5" y2="350.8" stroke="#0000ff" stroke-width="1" stroke-dasharray="11.5 5.5"/>
<line x1="343.5" y1="405" x2="388.5" y2="350.8" stroke="#0000ff" stroke-width="1" stroke-dasharray="11.5 5.5"/>
<line x1="571.5" y1="376.3" x2="388.5" y2="350.8" stroke="#0000ff" stroke-width="1" stroke-dasharray="11.5 5.5"/>
<path d="M343.5 405L526.5 430.5L571.5 376.3L571.5 284.3L388.5 258.8L343.5 313Z" stroke="#000" stroke-width="1" fill="none"/>
<g fill="#0000ff" stroke="#000" stroke-width="0.8" stroke-linejoin="round">
<polygon points="389.61,339.25 393.59,339.8 393.59,322.63 389.61,322.08"/><polygon points="393.59,339.8 394.49,338.72 394.49,321.55 393.59,322.63"/><polygon points="389.61,322.08 393.59,322.63 394.49,321.55 390.51,320.99"/>
<polygon points="402.86,341.1 406.84,341.65 406.84,320.49 402.86,319.94"/><polygon points="406.84,341.65 407.74,340.57 407.74,319.41 406.84,320.49"/><polygon points="402.86,319.94 406.84,320.49 407.74,319.41 403.76,318.85"/>
<polygon points="416.11,342.94 420.09,343.5 420.09,313.14 416.11,312.58"/><polygon points="420.09,343.5 420.99,342.41 420.99,312.05 420.09,313.14"/><polygon points="416.11,312.58 420.09,313.14 420.99,312.05 417.01,311.5"/>
<polygon points="429.36,344.79 433.34,345.34 433.34,307.93 429.36,307.38"/><polygon points="433.34,345.34 434.24,344.26 434.24,306.85 433.34,307.93"/><polygon points="429.36,307.38 433.34,307.93 434.24,306.85 430.26,306.29"/>
<polygon points="442.61,346.64 446.59,347.19 446.59,297.51 442.61,296.96"/><polygon points="446.59,347.19 447.49,346.11 447.49,296.43 446.59,297.51"/><polygon points="442.61,296.96 446.59,297.51 447.49,296.43 443.51,295.87"/>
<polygon points="455.86,348.48 459.84,349.04 459.84,288.93 455.86,288.37"/><polygon points="459.84,349.04 460.74,347.95 460.74,287.84 459.84,288.93"/><polygon points="455.86,288.37 459.84,288.93 460.74,287.84 456.76,287.29"/>
<polygon points="469.11,350.33 473.09,350.88 473.09,283.42 469.11,282.86"/><polygon points="473.09,350.88 473.99,349.8 473.99,282.33 473.09,283.42"/><polygon points="469.11,282.86 473.09,283.42 473.99,282.33 470.01,281.78"/>
<polygon points="482.36,352.17 486.34,352.73 486.34,285.57 482.36,285.01"/><polygon points="486.34,352.73 487.24,351.64 487.24,284.48 486.34,285.57"/><polygon points="482.36,285.01 486.34,285.57 487.24,284.48 483.26,283.93"/>
<polygon points="495.61,354.02 499.59,354.57 499.59,297.23 495.61,296.67"/><polygon points="499.59,354.57 500.49,353.49 500.49,296.14 499.59,297.23"/><polygon points="495.61,296.67 499.59,297.23 500.49,296.14 496.51,295.59"/>
<polygon points="508.86,355.87 512.84,356.42 512.84,311.65 508.86,311.09"/><polygon points="512.84,356.42 513.74,355.34 513.74,310.56 512.84,311.65"/><polygon points="508.86,311.09 512.84,311.65 513.74,310.56 509.76,310.01"/>
<polygon points="522.11,357.71 526.09,358.27 526.09,330.67 522.11,330.11"/><polygon points="526.09,358.27 526.99,357.18 526.99,329.58 526.09,330.67"/><polygon points="522.11,330.11 526.09,330.67 526.99,329.58 523.01,329.03"/>
<polygon points="535.36,359.56 539.34,360.11 539.34,341.41 535.36,340.85"/><polygon points="539.34,360.11 540.24,359.03 540.24,340.32 539.34,341.41"/><polygon points="535.36,340.85 539.34,341.41 540.24,340.32 536.26,339.77"/>
<polygon points="548.61,361.41 552.59,361.96 552.59,320.25 548.61,319.7"/><polygon points="552.59,361.96 553.49,360.88 553.49,319.17 552.59,320.25"/><polygon points="548.61,319.7 552.59,320.25 553.49,319.17 549.51,318.61"/>
<polygon points="385.11,344.67 389.09,345.22 389.09,317.32 385.11,316.76"/><polygon points="389.09,345.22 389.99,344.14 389.99,316.23 389.09,317.32"/><polygon points="385.11,316.76 389.09,317.32 389.99,316.23 386.01,315.68"/>
<polygon points="398.36,346.52 402.34,347.07 402.34,318.24 398.36,317.69"/><polygon points="402.34,347.07 403.24,345.99 403.24,317.16 402.34,318.24"/><polygon points="398.36,317.69 402.34,318.24 403.24,317.16 399.26,316.61"/>
<polygon points="411.61,348.36 415.59,348.92 415.59,314.88 411.61,314.32"/><polygon points="415.59,348.92 416.49,347.83 416.49,313.79 415.59,314.88"/><polygon points="411.61,314.32 415.59,314.88 416.49,313.79 412.51,313.24"/>
<polygon points="424.86,350.21 428.84,350.76 428.84,309.98 424.86,309.42"/><polygon points="428.84,350.76 429.74,349.68 429.74,308.89 428.84,309.98"/><polygon points="424.86,309.42 428.84,309.98 429.74,308.89 425.76,308.34"/>
<polygon points="438.11,352.06 442.09,352.61 442.09,299.56 438.11,299"/><polygon points="442.09,352.61 442.99,351.53 442.99,298.47 442.09,299.56"/><polygon points="438.11,299 442.09,299.56 442.99,298.47 439.01,297.92"/>
<polygon points="451.36,353.9 455.34,354.46 455.34,290.06 451.36,289.5"/><polygon points="455.34,354.46 456.24,353.37 456.24,288.97 455.34,290.06"/><polygon points="451.36,289.5 455.34,290.06 456.24,288.97 452.26,288.42"/>
<polygon points="464.61,355.75 468.59,356.3 468.59,282.4 464.61,281.84"/><polygon points="468.59,356.3 469.49,355.22 469.49,281.31 468.59,282.4"/><polygon points="464.61,281.84 468.59,282.4 469.49,281.31 465.51,280.76"/>
<polygon points="477.86,357.59 481.84,358.15 481.84,283.32 477.86,282.77"/><polygon points="481.84,358.15 482.74,357.06 482.74,282.24 481.84,283.32"/><polygon points="477.86,282.77 481.84,283.32 482.74,282.24 478.76,281.68"/>
<polygon points="491.11,359.44 495.09,359.99 495.09,295.29 491.11,294.73"/><polygon points="495.09,359.99 495.99,358.91 495.99,294.2 495.09,295.29"/><polygon points="491.11,294.73 495.09,295.29 495.99,294.2 492.01,293.65"/>
<polygon points="504.36,361.29 508.34,361.84 508.34,308.79 504.36,308.23"/><polygon points="508.34,361.84 509.24,360.76 509.24,307.7 508.34,308.79"/><polygon points="504.36,308.23 508.34,308.79 509.24,307.7 505.26,307.15"/>
<polygon points="517.61,363.13 521.59,363.69 521.59,323.82 517.61,323.27"/><polygon points="521.59,363.69 522.49,362.6 522.49,322.74 521.59,323.82"/><polygon points="517.61,323.27 521.59,323.82 522.49,322.74 518.51,322.18"/>
<polygon points="530.86,364.98 534.84,365.53 534.84,334.56 530.86,334.01"/><polygon points="534.84,365.53 535.74,364.45 535.74,333.48 534.84,334.56"/><polygon points="530.86,334.01 534.84,334.56 535.74,333.48 531.76,332.92"/>
<polygon points="544.11,366.83 548.09,367.38 548.09,318.62 544.11,318.07"/><polygon points="548.09,367.38 548.99,366.3 548.99,317.54 548.09,318.62"/><polygon points="544.11,318.07 548.09,318.62 548.99,317.54 545.01,316.98"/>
<polygon points="380.61,357.14 384.59,357.7 384.59,350.64 380.61,350.09"/><polygon points="384.59,357.7 385.49,356.61 385.49,349.56 384.59,350.64"/><polygon points="380.61,350.09 384.59,350.64 385.49,349.56 381.51,349.01"/>
<polygon points="393.86,354.08 397.84,354.64 397.84,352.49 393.86,351.94"/><polygon points="397.84,354.64 398.74,353.55 398.74,351.41 397.84,352.49"/><polygon points="393.86,351.94 397.84,352.49 398.74,351.41 394.76,350.85"/>
<polygon points="407.11,353.78 411.09,354.34 411.09,344.83 407.11,344.28"/><polygon points="411.09,354.34 411.99,353.25 411.99,343.75 411.09,344.83"/><polygon points="407.11,344.28 411.09,344.83 411.99,343.75 408.01,343.19"/>
<polygon points="420.36,355.63 424.34,356.18 424.34,335.33 420.36,334.78"/><polygon points="424.34,356.18 425.24,355.1 425.24,334.25 424.34,335.33"/><polygon points="420.36,334.78 424.34,335.33 425.24,334.25 421.26,333.69"/>
<polygon points="433.61,357.48 437.59,358.03 437.59,323.07 433.61,322.52"/><polygon points="437.59,358.03 438.49,356.95 438.49,321.99 437.59,323.07"/><polygon points="433.61,322.52 437.59,323.07 438.49,321.99 434.51,321.43"/>
<polygon points="446.86,359.32 450.84,359.88 450.84,315.1 446.86,314.55"/><polygon points="450.84,359.88 451.74,358.79 451.74,314.02 450.84,315.1"/><polygon points="446.86,314.55 450.84,315.1 451.74,314.02 447.76,313.46"/>
<polygon points="460.11,361.17 464.09,361.72 464.09,309.9 460.11,309.34"/><polygon points="464.09,361.72 464.99,360.64 464.99,308.81 464.09,309.9"/><polygon points="460.11,309.34 464.09,309.9 464.99,308.81 461.01,308.26"/>
<polygon points="473.36,363.01 477.34,363.57 477.34,313.58 473.36,313.03"/><polygon points="477.34,363.57 478.24,362.48 478.24,312.5 477.34,313.58"/><polygon points="473.36,313.03 477.34,313.58 478.24,312.5 474.26,311.94"/>
<polygon points="486.61,364.86 490.59,365.41 490.59,325.85 486.61,325.3"/><polygon points="490.59,365.41 491.49,364.33 491.49,324.77 490.59,325.85"/><polygon points="486.61,325.3 490.59,325.85 491.49,324.77 487.51,324.22"/>
<polygon points="499.86,366.71 503.84,367.26 503.84,340.89 499.86,340.33"/><polygon points="503.84,367.26 504.74,366.18 504.74,339.8 503.84,340.89"/><polygon points="499.86,340.33 503.84,340.89 504.74,339.8 500.76,339.25"/>
<polygon points="513.11,368.55 517.09,369.11 517.09,362.05 513.11,361.5"/><polygon points="517.09,369.11 517.99,368.02 517.99,360.97 517.09,362.05"/><polygon points="513.11,361.5 517.09,362.05 517.99,360.97 514.01,360.42"/>
<polygon points="526.36,375.31 530.34,375.86 530.34,370.95 526.36,370.4"/><polygon points="530.34,375.86 531.24,374.78 531.24,369.87 530.34,370.95"/><polygon points="526.36,370.4 530.34,370.95 531.24,369.87 527.26,369.32"/>
<polygon points="539.61,372.25 543.59,372.8 543.59,350.11 539.61,349.55"/><polygon points="543.59,372.8 544.49,371.72 544.49,349.02 543.59,350.11"/><polygon points="539.61,349.55 543.59,350.11 544.49,349.02 540.51,348.47"/>
<polygon points="376.11,355.51 380.09,356.06 380.09,337.66 376.11,337.11"/><polygon points="380.09,356.06 380.99,354.98 380.99,336.58 380.09,337.66"/><polygon points="376.11,337.11 380.09,337.66 380.99,336.58 377.01,336.03"/>
<polygon points="389.36,357.36 393.34,357.91 393.34,336.75 389.36,336.2"/><polygon points="393.34,357.91 394.24,356.83 394.24,335.67 393.34,336.75"/><polygon points="389.36,336.2 393.34,336.75 394.24,335.67 390.26,335.11"/>
<polygon points="402.61,359.2 406.59,359.76 406.59,330.32 402.61,329.76"/><polygon points="406.59,359.76 407.49,358.67 407.49,329.23 406.59,330.32"/><polygon points="402.61,329.76 406.59,330.32 407.49,329.23 403.51,328.68"/>
<polygon points="415.86,361.05 419.84,361.6 419.84,325.42 415.86,324.86"/><polygon points="419.84,361.6 420.74,360.52 420.74,324.33 419.84,325.42"/><polygon points="415.86,324.86 419.84,325.42 420.74,324.33 416.76,323.78"/>
<polygon points="429.11,362.9 433.09,363.45 433.09,315.61 429.11,315.06"/><polygon points="433.09,363.45 433.99,362.37 433.99,314.53 433.09,315.61"/><polygon points="429.11,315.06 433.09,315.61 433.99,314.53 430.01,313.97"/>
<polygon points="442.36,364.74 446.34,365.3 446.34,307.64 442.36,307.09"/><polygon points="446.34,365.3 447.24,364.21 447.24,306.56 446.34,307.64"/><polygon points="442.36,307.09 446.34,307.64 447.24,306.56 443.26,306"/>
<polygon points="455.61,366.59 459.59,367.14 459.59,303.05 455.61,302.49"/><polygon points="459.59,367.14 460.49,366.06 460.49,301.96 459.59,303.05"/><polygon points="455.61,302.49 459.59,303.05 460.49,301.96 456.51,301.41"/>
<polygon points="468.86,368.43 472.84,368.99 472.84,305.2 468.86,304.65"/><polygon points="472.84,368.99 473.74,367.9 473.74,304.12 472.84,305.2"/><polygon points="468.86,304.65 472.84,305.2 473.74,304.12 469.76,303.56"/>
<polygon points="482.11,370.28 486.09,370.83 486.09,315.94 482.11,315.39"/><polygon points="486.09,370.83 486.99,369.75 486.99,314.86 486.09,315.94"/><polygon points="482.11,315.39 486.09,315.94 486.99,314.86 483.01,314.3"/>
<polygon points="495.36,372.13 499.34,372.68 499.34,329.13 495.36,328.58"/><polygon points="499.34,372.68 500.24,371.6 500.24,328.05 499.34,329.13"/><polygon points="495.36,328.58 499.34,329.13 500.24,328.05 496.26,327.5"/>
<polygon points="508.61,373.97 512.59,374.53 512.59,346.31 508.61,345.76"/><polygon points="512.59,374.53 513.49,373.44 513.49,345.23 512.59,346.31"/><polygon points="508.61,345.76 512.59,346.31 513.49,345.23 509.51,344.68"/>
<polygon points="521.86,375.82 525.84,376.37 525.84,356.44 521.86,355.89"/><polygon points="525.84,376.37 526.74,375.29 526.74,355.36 525.84,356.44"/><polygon points="521.86,355.89 525.84,356.44 526.74,355.36 522.76,354.8"/>
<polygon points="535.11,377.67 539.09,378.22 539.09,337.74 535.11,337.19"/><polygon points="539.09,378.22 539.99,377.14 539.99,336.66 539.09,337.74"/><polygon points="535.11,337.19 539.09,337.74 539.99,336.66 536.01,336.1"/>
<polygon points="371.61,360.93 375.59,361.48 375.59,332.35 371.61,331.8"/><polygon points="375.59,361.48 376.49,360.4 376.49,331.27 375.59,332.35"/><polygon points="371.61,331.8 375.59,332.35 376.49,331.27 372.51,330.71"/>
<polygon points="384.86,362.78 388.84,363.33 388.84,332.97 384.86,332.42"/><polygon points="388.84,363.33 389.74,362.25 389.74,331.89 388.84,332.97"/><polygon points="384.86,332.42 388.84,332.97 389.74,331.89 385.76,331.33"/>
<polygon points="398.11,364.62 402.09,365.18 402.09,328.68 398.11,328.13"/><polygon points="402.09,365.18 402.99,364.09 402.99,327.6 402.09,328.68"/><polygon points="398.11,328.13 402.09,328.68 402.99,327.6 399.01,327.05"/>
<polygon points="411.36,366.47 415.34,367.02 415.34,324.09 411.36,323.54"/><polygon points="415.34,367.02 416.24,365.94 416.24,323.01 415.34,324.09"/><polygon points="411.36,323.54 415.34,324.09 416.24,323.01 412.26,322.45"/>
<polygon points="424.61,368.32 428.59,368.87 428.59,314.59 424.61,314.04"/><polygon points="428.59,368.87 429.49,367.79 429.49,313.51 428.59,314.59"/><polygon points="424.61,314.04 428.59,314.59 429.49,313.51 425.51,312.95"/>
<polygon points="437.86,370.16 441.84,370.72 441.84,305.09 437.86,304.53"/><polygon points="441.84,370.72 442.74,369.63 442.74,304 441.84,305.09"/><polygon points="437.86,304.53 441.84,305.09 442.74,304 438.76,303.45"/>
<polygon points="451.11,372.01 455.09,372.56 455.09,298.04 451.11,297.49"/><polygon points="455.09,372.56 455.99,371.48 455.99,296.96 455.09,298.04"/><polygon points="451.11,297.49 455.09,298.04 455.99,296.96 452.01,296.4"/>
<polygon points="464.36,373.85 468.34,374.41 468.34,299.89 464.36,299.33"/><polygon points="468.34,374.41 469.24,373.32 469.24,298.8 468.34,299.89"/><polygon points="464.36,299.33 468.34,299.89 469.24,298.8 465.26,298.25"/>
<polygon points="477.61,375.7 481.59,376.25 481.59,311.85 477.61,311.3"/><polygon points="481.59,376.25 482.49,375.17 482.49,310.77 481.59,311.85"/><polygon points="477.61,311.3 481.59,311.85 482.49,310.77 478.51,310.22"/>
<polygon points="490.86,377.55 494.84,378.1 494.84,325.05 490.86,324.49"/><polygon points="494.84,378.1 495.74,377.02 495.74,323.96 494.84,325.05"/><polygon points="490.86,324.49 494.84,325.05 495.74,323.96 491.76,323.41"/>
<polygon points="504.11,379.39 508.09,379.95 508.09,340.39 504.11,339.83"/><polygon points="508.09,379.95 508.99,378.86 508.99,339.3 508.09,340.39"/><polygon points="504.11,339.83 508.09,340.39 508.99,339.3 505.01,338.75"/>
<polygon points="517.36,381.24 521.34,381.79 521.34,350.21 517.36,349.65"/><polygon points="521.34,381.79 522.24,380.71 522.24,349.12 521.34,350.21"/><polygon points="517.36,349.65 521.34,350.21 522.24,349.12 518.26,348.57"/>
<polygon points="530.61,383.09 534.59,383.64 534.59,333.96 530.61,333.41"/><polygon points="534.59,383.64 535.49,382.56 535.49,332.88 534.59,333.96"/><polygon points="530.61,333.41 534.59,333.96 535.49,332.88 531.51,332.32"/>
<polygon points="367.11,366.35 371.09,366.9 371.09,351.88 367.11,351.32"/><polygon points="371.09,366.9 371.99,365.82 371.99,350.79 371.09,351.88"/><polygon points="367.11,351.32 371.09,351.88 371.99,350.79 368.01,350.24"/>
<polygon points="380.36,368.2 384.34,368.75 384.34,352.19 380.36,351.64"/><polygon points="384.34,368.75 385.24,367.67 385.24,351.11 384.34,352.19"/><polygon points="380.36,351.64 384.34,352.19 385.24,351.11 381.26,350.55"/>
<polygon points="393.61,370.04 397.59,370.6 397.59,345.45 393.61,344.9"/><polygon points="397.59,370.6 398.49,369.51 398.49,344.37 397.59,345.45"/><polygon points="393.61,344.9 397.59,345.45 398.49,344.37 394.51,343.81"/>
<polygon points="406.86,371.89 410.84,372.44 410.84,340.24 406.86,339.69"/><polygon points="410.84,372.44 411.74,371.36 411.74,339.16 410.84,340.24"/><polygon points="406.86,339.69 410.84,340.24 411.74,339.16 407.76,338.6"/>
<polygon points="420.11,373.74 424.09,374.29 424.09,330.74 420.11,330.19"/><polygon points="424.09,374.29 424.99,373.21 424.99,329.66 424.09,330.74"/><polygon points="420.11,330.19 424.09,330.74 424.99,329.66 421.01,329.1"/>
<polygon points="433.36,375.58 437.34,376.14 437.34,322.78 433.36,322.22"/><polygon points="437.34,376.14 438.24,375.05 438.24,321.69 437.34,322.78"/><polygon points="433.36,322.22 437.34,322.78 438.24,321.69 434.26,321.14"/>
<polygon points="446.61,377.43 450.59,377.98 450.59,317.88 446.61,317.32"/><polygon points="450.59,377.98 451.49,376.9 451.49,316.79 450.59,317.88"/><polygon points="446.61,317.32 450.59,317.88 451.49,316.79 447.51,316.24"/>
<polygon points="459.86,379.27 463.84,379.83 463.84,320.03 459.86,319.47"/><polygon points="463.84,379.83 464.74,378.74 464.74,318.94 463.84,320.03"/><polygon points="459.86,319.47 463.84,320.03 464.74,318.94 460.76,318.39"/>
<polygon points="473.11,381.12 477.09,381.67 477.09,331.38 473.11,330.83"/><polygon points="477.09,381.67 477.99,380.59 477.99,330.3 477.09,331.38"/><polygon points="473.11,330.83 477.09,331.38 477.99,330.3 474.01,329.74"/>
<polygon points="486.36,382.97 490.34,383.52 490.34,344.88 486.36,344.33"/><polygon points="490.34,383.52 491.24,382.44 491.24,343.8 490.34,344.88"/><polygon points="486.36,344.33 490.34,344.88 491.24,343.8 487.26,343.24"/>
<polygon points="499.61,384.81 503.59,385.37 503.59,361.14 499.61,360.59"/><polygon points="503.59,385.37 504.49,384.28 504.49,360.06 503.59,361.14"/><polygon points="499.61,360.59 503.59,361.14 504.49,360.06 500.51,359.5"/>
<polygon points="512.86,386.66 516.84,387.21 516.84,370.96 512.86,370.41"/><polygon points="516.84,387.21 517.74,386.13 517.74,369.88 516.84,370.96"/><polygon points="512.86,370.41 516.84,370.96 517.74,369.88 513.76,369.32"/>
<polygon points="526.11,388.51 530.09,389.06 530.09,352.87 526.11,352.32"/><polygon points="530.09,389.06 530.99,387.98 530.99,351.79 530.09,352.87"/><polygon points="526.11,352.32 530.09,352.87 530.99,351.79 527.01,351.23"/>
<polygon points="362.61,371.77 366.59,372.32 366.59,368.95 362.61,368.4"/><polygon points="366.59,372.32 367.49,371.24 367.49,367.87 366.59,368.95"/><polygon points="362.61,368.4 366.59,368.95 367.49,367.87 363.51,367.31"/>
<polygon points="375.86,373.62 379.84,374.17 379.84,368.34 375.86,367.79"/><polygon points="379.84,374.17 380.74,373.09 380.74,367.26 379.84,368.34"/><polygon points="375.86,367.79 379.84,368.34 380.74,367.26 376.76,366.71"/>
<polygon points="389.11,375.46 393.09,376.02 393.09,360.99 389.11,360.44"/><polygon points="393.09,376.02 393.99,374.93 393.99,359.91 393.09,360.99"/><polygon points="389.11,360.44 393.09,360.99 393.99,359.91 390.01,359.35"/>
<polygon points="402.36,377.31 406.34,377.86 406.34,355.17 402.36,354.62"/><polygon points="406.34,377.86 407.24,376.78 407.24,354.09 406.34,355.17"/><polygon points="402.36,354.62 406.34,355.17 407.24,354.09 403.26,353.53"/>
<polygon points="415.61,379.16 419.59,379.71 419.59,344.44 415.61,343.89"/><polygon points="419.59,379.71 420.49,378.63 420.49,343.36 419.59,344.44"/><polygon points="415.61,343.89 419.59,344.44 420.49,343.36 416.51,342.8"/>
<polygon points="428.86,381 432.84,381.56 432.84,335.56 428.86,335"/><polygon points="432.84,381.56 433.74,380.47 433.74,334.47 432.84,335.56"/><polygon points="428.86,335 432.84,335.56 433.74,334.47 429.76,333.92"/>
<polygon points="442.11,382.85 446.09,383.4 446.09,329.12 442.11,328.57"/><polygon points="446.09,383.4 446.99,382.32 446.99,328.04 446.09,329.12"/><polygon points="442.11,328.57 446.09,329.12 446.99,328.04 443.01,327.48"/>
<polygon points="455.36,384.69 459.34,385.25 459.34,331.89 455.36,331.33"/><polygon points="459.34,385.25 460.24,384.16 460.24,330.8 459.34,331.89"/><polygon points="455.36,331.33 459.34,331.89 460.24,330.8 456.26,330.25"/>
<polygon points="468.61,386.54 472.59,387.09 472.59,344.47 468.61,343.91"/><polygon points="472.59,387.09 473.49,386.01 473.49,343.38 472.59,344.47"/><polygon points="468.61,343.91 472.59,344.47 473.49,343.38 469.51,342.83"/>
<polygon points="481.86,388.39 485.84,388.94 485.84,357.66 481.86,357.11"/><polygon points="485.84,388.94 486.74,387.86 486.74,356.58 485.84,357.66"/><polygon points="481.86,357.11 485.84,357.66 486.74,356.58 482.76,356.02"/>
<polygon points="495.11,390.23 499.09,390.79 499.09,375.76 495.11,375.21"/><polygon points="499.09,390.79 499.99,389.7 499.99,374.68 499.09,375.76"/><polygon points="495.11,375.21 499.09,375.76 499.99,374.68 496.01,374.12"/>
<polygon points="508.36,392.08 512.34,392.63 512.34,386.19 508.36,385.64"/><polygon points="512.34,392.63 513.24,391.55 513.24,385.11 512.34,386.19"/><polygon points="508.36,385.64 512.34,386.19 513.24,385.11 509.26,384.56"/>
<polygon points="521.61,393.93 525.59,394.48 525.59,366.88 521.61,366.33"/><polygon points="525.59,394.48 526.49,393.4 526.49,365.8 525.59,366.88"/><polygon points="521.61,366.33 525.59,366.88 526.49,365.8 522.51,365.24"/>
<polygon points="358.11,377.19 362.09,377.74 362.09,367.32 358.11,366.76"/><polygon points="362.09,377.74 362.99,376.66 362.99,366.23 362.09,367.32"/><polygon points="358.11,366.76 362.09,367.32 362.99,366.23 359.01,365.68"/>
<polygon points="371.36,379.04 375.34,379.59 375.34,367.63 371.36,367.08"/><polygon points="375.34,379.59 376.24,378.51 376.24,366.55 375.34,367.63"/><polygon points="371.36,367.08 375.34,367.63 376.24,366.55 372.26,365.99"/>
<polygon points="384.61,380.88 388.59,381.44 388.59,360.58 384.61,360.03"/><polygon points="388.59,381.44 389.49,380.35 389.49,359.5 388.59,360.58"/><polygon points="384.61,360.03 388.59,360.58 389.49,359.5 385.51,358.95"/>
<polygon points="397.86,382.73 401.84,383.28 401.84,354.46 397.86,353.9"/><polygon points="401.84,383.28 402.74,382.2 402.74,353.37 401.84,354.46"/><polygon points="397.86,353.9 401.84,354.46 402.74,353.37 398.76,352.82"/>
<polygon points="411.11,384.58 415.09,385.13 415.09,344.65 411.11,344.1"/><polygon points="415.09,385.13 415.99,384.05 415.99,343.57 415.09,344.65"/><polygon points="411.11,344.1 415.09,344.65 415.99,343.57 412.01,343.01"/>
<polygon points="424.36,386.42 428.34,386.98 428.34,338.22 424.36,337.66"/><polygon points="428.34,386.98 429.24,385.89 429.24,337.13 428.34,338.22"/><polygon points="424.36,337.66 428.34,338.22 429.24,337.13 425.26,336.58"/>
<polygon points="437.61,388.27 441.59,388.82 441.59,332.7 437.61,332.15"/><polygon points="441.59,388.82 442.49,387.74 442.49,331.62 441.59,332.7"/><polygon points="437.61,332.15 441.59,332.7 442.49,331.62 438.51,331.06"/>
<polygon points="450.86,390.11 454.84,390.67 454.84,334.55 450.86,333.99"/><polygon points="454.84,390.67 455.74,389.58 455.74,333.46 454.84,334.55"/><polygon points="450.86,333.99 454.84,334.55 455.74,333.46 451.76,332.91"/>
<polygon points="464.11,391.96 468.09,392.51 468.09,345.9 464.11,345.35"/><polygon points="468.09,392.51 468.99,391.43 468.99,344.82 468.09,345.9"/><polygon points="464.11,345.35 468.09,345.9 468.99,344.82 465.01,344.26"/>
<polygon points="477.36,393.81 481.34,394.36 481.34,359.4 477.36,358.85"/><polygon points="481.34,394.36 482.24,393.28 482.24,358.32 481.34,359.4"/><polygon points="477.36,358.85 481.34,359.4 482.24,358.32 478.26,357.76"/>
<polygon points="490.61,395.65 494.59,396.21 494.59,375.35 490.61,374.8"/><polygon points="494.59,396.21 495.49,395.12 495.49,374.27 494.59,375.35"/><polygon points="490.61,374.8 494.59,375.35 495.49,374.27 491.51,373.72"/>
<polygon points="503.86,397.5 507.84,398.05 507.84,385.48 503.86,384.93"/><polygon points="507.84,398.05 508.74,396.97 508.74,384.4 507.84,385.48"/><polygon points="503.86,384.93 507.84,385.48 508.74,384.4 504.76,383.84"/>
<polygon points="517.11,399.35 521.09,399.9 521.09,367.39 517.11,366.84"/><polygon points="521.09,399.9 521.99,398.82 521.99,366.31 521.09,367.39"/><polygon points="517.11,366.84 521.09,367.39 521.99,366.31 518.01,365.75"/>
<polygon points="353.61,382.61 357.59,383.16 357.59,362.62 353.61,362.06"/><polygon points="357.59,383.16 358.49,382.08 358.49,361.53 357.59,362.62"/><polygon points="353.61,362.06 357.59,362.62 358.49,361.53 354.51,360.98"/>
<polygon points="366.86,384.46 370.84,385.01 370.84,364.16 366.86,363.6"/><polygon points="370.84,385.01 371.74,383.93 371.74,363.07 370.84,364.16"/><polygon points="366.86,363.6 370.84,364.16 371.74,363.07 367.76,362.52"/>
<polygon points="380.11,386.3 384.09,386.86 384.09,360.18 380.11,359.62"/><polygon points="384.09,386.86 384.99,385.77 384.99,359.09 384.09,360.18"/><polygon points="380.11,359.62 384.09,360.18 384.99,359.09 381.01,358.54"/>
<polygon points="393.36,388.15 397.34,388.7 397.34,357.12 393.36,356.56"/><polygon points="397.34,388.7 398.24,387.62 398.24,356.03 397.34,357.12"/><polygon points="393.36,356.56 397.34,357.12 398.24,356.03 394.26,355.48"/>
<polygon points="406.61,390 410.59,390.55 410.59,349.15 406.61,348.6"/><polygon points="410.59,390.55 411.49,389.47 411.49,348.07 410.59,349.15"/><polygon points="406.61,348.6 410.59,349.15 411.49,348.07 407.51,347.51"/>
<polygon points="419.86,391.84 423.84,392.4 423.84,342.72 419.86,342.16"/><polygon points="423.84,392.4 424.74,391.31 424.74,341.63 423.84,342.72"/><polygon points="419.86,342.16 423.84,342.72 424.74,341.63 420.76,341.08"/>
<polygon points="433.11,393.69 437.09,394.24 437.09,338.74 433.11,338.18"/><polygon points="437.09,394.24 437.99,393.16 437.99,337.65 437.09,338.74"/><polygon points="433.11,338.18 437.09,338.74 437.99,337.65 434.01,337.1"/>
<polygon points="446.36,395.53 450.34,396.09 450.34,340.89 446.36,340.33"/><polygon points="450.34,396.09 451.24,395 451.24,339.8 450.34,340.89"/><polygon points="446.36,340.33 450.34,340.89 451.24,339.8 447.26,339.25"/>
<polygon points="459.61,397.38 463.59,397.93 463.59,348.87 459.61,348.31"/><polygon points="463.59,397.93 464.49,396.85 464.49,347.78 463.59,348.87"/><polygon points="459.61,348.31 463.59,348.87 464.49,347.78 460.51,347.23"/>
<polygon points="472.86,399.23 476.84,399.78 476.84,359.91 472.86,359.36"/><polygon points="476.84,399.78 477.74,398.7 477.74,358.83 476.84,359.91"/><polygon points="472.86,359.36 476.84,359.91 477.74,358.83 473.76,358.28"/>
<polygon points="486.11,401.07 490.09,401.63 490.09,372.49 486.11,371.94"/><polygon points="490.09,401.63 490.99,400.54 490.99,371.41 490.09,372.49"/><polygon points="486.11,371.94 490.09,372.49 490.99,371.41 487.01,370.86"/>
<polygon points="499.36,402.92 503.34,403.47 503.34,381.09 499.36,380.53"/><polygon points="503.34,403.47 504.24,402.39 504.24,380 503.34,381.09"/><polygon points="499.36,380.53 503.34,381.09 504.24,380 500.26,379.45"/>
<polygon points="512.61,404.77 516.59,405.32 516.59,368.52 512.61,367.97"/><polygon points="516.59,405.32 517.49,404.24 517.49,367.44 516.59,368.52"/><polygon points="512.61,367.97 516.59,368.52 517.49,367.44 513.51,366.88"/>
<polygon points="349.11,388.03 353.09,388.58 353.09,387.05 349.11,386.5"/><polygon points="353.09,388.58 353.99,387.5 353.99,385.97 353.09,387.05"/><polygon points="349.11,386.5 353.09,387.05 353.99,385.97 350.01,385.41"/>
<polygon points="362.36,389.88 366.34,390.43 366.34,386.75 362.36,386.2"/><polygon points="366.34,390.43 367.24,389.35 367.24,385.67 366.34,386.75"/><polygon points="362.36,386.2 366.34,386.75 367.24,385.67 363.26,385.11"/>
<polygon points="375.61,391.72 379.59,392.28 379.59,380.62 375.61,380.07"/><polygon points="379.59,392.28 380.49,391.19 380.49,379.54 379.59,380.62"/><polygon points="375.61,380.07 379.59,380.62 380.49,379.54 376.51,378.99"/>
<polygon points="388.86,393.57 392.84,394.12 392.84,375.11 388.86,374.56"/><polygon points="392.84,394.12 393.74,393.04 393.74,374.03 392.84,375.11"/><polygon points="388.86,374.56 392.84,375.11 393.74,374.03 389.76,373.47"/>
<polygon points="402.11,395.42 406.09,395.97 406.09,364.69 402.11,364.14"/><polygon points="406.09,395.97 406.99,394.89 406.99,363.61 406.09,364.69"/><polygon points="402.11,364.14 406.09,364.69 406.99,363.61 403.01,363.05"/>
<polygon points="415.36,397.26 419.34,397.82 419.34,355.8 415.36,355.25"/><polygon points="419.34,397.82 420.24,396.73 420.24,354.72 419.34,355.8"/><polygon points="415.36,355.25 419.34,355.8 420.24,354.72 416.26,354.16"/>
<polygon points="428.61,399.11 432.59,399.66 432.59,348.76 428.61,348.2"/><polygon points="432.59,399.66 433.49,398.58 433.49,347.67 432.59,348.76"/><polygon points="428.61,348.2 432.59,348.76 433.49,347.67 429.51,347.12"/>
<polygon points="441.86,400.95 445.84,401.51 445.84,351.52 441.86,350.97"/><polygon points="445.84,401.51 446.74,400.42 446.74,350.44 445.84,351.52"/><polygon points="441.86,350.97 445.84,351.52 446.74,350.44 442.76,349.88"/>
<polygon points="455.11,402.8 459.09,403.35 459.09,363.49 455.11,362.93"/><polygon points="459.09,403.35 459.99,402.27 459.99,362.4 459.09,363.49"/><polygon points="455.11,362.93 459.09,363.49 459.99,362.4 456.01,361.85"/>
<polygon points="468.36,404.65 472.34,405.2 472.34,376.99 468.36,376.43"/><polygon points="472.34,405.2 473.24,404.12 473.24,375.9 472.34,376.99"/><polygon points="468.36,376.43 472.34,376.99 473.24,375.9 469.26,375.35"/>
<polygon points="481.61,406.49 485.59,407.05 485.59,394.47 481.61,393.92"/><polygon points="485.59,407.05 486.49,405.96 486.49,393.39 485.59,394.47"/><polygon points="481.61,393.92 485.59,394.47 486.49,393.39 482.51,392.84"/>
<polygon points="494.86,408.34 498.84,408.89 498.84,404.6 494.86,404.05"/><polygon points="498.84,408.89 499.74,407.81 499.74,403.52 498.84,404.6"/><polygon points="494.86,404.05 498.84,404.6 499.74,403.52 495.76,402.96"/>
<polygon points="508.11,410.19 512.09,410.74 512.09,386.21 508.11,385.65"/><polygon points="512.09,410.74 512.99,409.66 512.99,385.12 512.09,386.21"/><polygon points="508.11,385.65 512.09,386.21 512.99,385.12 509.01,384.57"/>
</g>
<path d="M343.5 313L526.5 338.5L571.5 284.3M526.5 338.5L526.5 430.5" stroke="#000" stroke-width="0.75" fill="none"/>
<text x="331.1" y="329.4" font-size="10" text-anchor="end">20</text>
<text x="331.1" y="360.4" font-size="10" text-anchor="end">10</text>
<text x="332.3" y="391.5" font-size="10" text-anchor="end">0</text>
<path d="M343.5 389.67l-6.65 -1.43M343.5 374.33l-3.23 -0.69M343.5 359l-6.65 -1.43M343.5 343.67l-3.23 -0.69M343.5 328.33l-6.65 -1.43M349.5 405.81v5.5M351.5 406.18v3M354.5 406.55v3M357.5 406.92v3M359.5 407.29v3M362.5 407.65v5.5M365.5 408.02v3M367.5 408.39v3M370.5 408.76v3M373.5 409.13v3M375.5 409.5v5.5M378.5 409.87v3M381.5 410.24v3M383.5 410.61v3M386.5 410.98v3M389.5 411.35v5.5M391.5 411.72v3M394.5 412.09v3M397.5 412.45v3M399.5 412.82v3M402.5 413.19v5.5M404.5 413.56v3M407.5 413.93v3M410.5 414.3v3M412.5 414.67v3M415.5 415.04v5.5M418.5 415.41v3M420.5 415.78v3M423.5 416.15v3M426.5 416.52v3M428.5 416.89v5.5M431.5 417.26v3M434.5 417.62v3M436.5 417.99v3M439.5 418.36v3M442.5 418.73v5.5M444.5 419.1v3M447.5 419.47v3M450.5 419.84v3M452.5 420.21v3M455.5 420.58v5.5M457.5 420.95v3M460.5 421.32v3M463.5 421.69v3M465.5 422.06v3M468.5 422.43v5.5M471.5 422.79v3M473.5 423.16v3M476.5 423.53v3M479.5 423.9v3M481.5 424.27v5.5M484.5 424.64v3M487.5 425.01v3M489.5 425.38v3M492.5 425.75v3M495.5 426.12v5.5M497.5 426.49v3M500.5 426.86v3M503.5 427.23v3M505.5 427.59v3M508.5 427.96v5.5M527.85 428.87l2.97 0.41M528.75 427.79l5.94 0.83M529.65 426.71l2.97 0.41M530.55 425.62l2.97 0.41M531.45 424.54l2.97 0.41M532.35 423.45l2.97 0.41M533.25 422.37l5.94 0.83M534.15 421.29l2.97 0.41M535.05 420.2l2.97 0.41M535.95 419.12l2.97 0.41M536.85 418.03l2.97 0.41M537.75 416.95l5.94 0.83M538.65 415.87l2.97 0.41M539.55 414.78l2.97 0.41M540.45 413.7l2.97 0.41M541.35 412.61l2.97 0.41M542.25 411.53l5.94 0.83M543.15 410.45l2.97 0.41M544.05 409.36l2.97 0.41M544.95 408.28l2.97 0.41M545.85 407.19l2.97 0.41M546.75 406.11l5.94 0.83M547.65 405.03l2.97 0.41M548.55 403.94l2.97 0.41M549.45 402.86l2.97 0.41M550.35 401.77l2.97 0.41M551.25 400.69l5.94 0.83M552.15 399.61l2.97 0.41M553.05 398.52l2.97 0.41M553.95 397.44l2.97 0.41M554.85 396.35l2.97 0.41M555.75 395.27l5.94 0.83M556.65 394.19l2.97 0.41M557.55 393.1l2.97 0.41M558.45 392.02l2.97 0.41M559.35 390.93l2.97 0.41M560.25 389.85l5.94 0.83M561.15 388.77l2.97 0.41M562.05 387.68l2.97 0.41M562.95 386.6l2.97 0.41M563.85 385.51l2.97 0.41M564.75 384.43l5.94 0.83M565.65 383.35l2.97 0.41M566.55 382.26l2.97 0.41M567.45 381.18l2.97 0.41M568.35 380.09l2.97 0.41M569.25 379.01l5.94 0.83M570.15 377.93l2.97 0.41M571.05 376.84l2.97 0.41" stroke="#000" stroke-width="1" fill="none"/>
<text x="580.2" y="386.4" font-size="9.5" text-anchor="start">Agen</text>
<text x="572.6" y="391.86" font-size="9.5" text-anchor="start">Bastia</text>
<text x="568.6" y="397.31" font-size="9.5" text-anchor="start">Chamonix</text>
<text x="564.8" y="402.77" font-size="9.5" text-anchor="start">Cognac</text>
<text x="559.2" y="408.22" font-size="9.5" text-anchor="start">Hyères</text>
<text x="555.1" y="413.68" font-size="9.5" text-anchor="start">Le Mans</text>
<text x="550.5" y="419.13" font-size="9.5" text-anchor="start">Le Puy</text>
<text x="546.4" y="424.59" font-size="9.5" text-anchor="start">Lille</text>
<text x="541.8" y="430.04" font-size="9.5" text-anchor="start">Lorient</text>
<text x="537.3" y="435.5" font-size="9.5" text-anchor="start">Mende</text>
<text transform="translate(349.3 417.31) rotate(-90)" font-family="'Liberation Serif',serif" font-size="13.5" text-anchor="end" x="0" y="4.9">Janvier</text>
<text transform="translate(362.55 419.15) rotate(-90)" font-family="'Liberation Serif',serif" font-size="13.5" text-anchor="end" x="0" y="3.3">February</text>
<text transform="translate(375.8 421) rotate(-90)" font-family="'Liberation Serif',serif" font-size="13.5" text-anchor="end" x="0" y="4.2">Mars</text>
<text transform="translate(389.05 422.85) rotate(-90)" font-family="'Liberation Serif',serif" font-size="13.5" text-anchor="end" x="0" y="4.2">Avril</text>
<text transform="translate(402.3 424.69) rotate(-90)" font-family="'Liberation Serif',serif" font-size="13.5" text-anchor="end" x="0" y="4.2">Mai</text>
<text transform="translate(415.55 426.54) rotate(-90)" font-family="'Liberation Serif',serif" font-size="13.5" text-anchor="end" x="0" y="4.2">Juin</text>
<text transform="translate(428.8 428.39) rotate(-90)" font-family="'Liberation Serif',serif" font-size="13.5" text-anchor="end" x="0" y="4.2">Juillet</text>
<text transform="translate(442.05 430.23) rotate(-90)" font-family="'Liberation Serif',serif" font-size="13.5" text-anchor="end" x="0" y="4.2">Août</text>
<text transform="translate(455.3 432.08) rotate(-90)" font-family="'Liberation Serif',serif" font-size="13.5" text-anchor="end" x="0" y="3.3">Septembre</text>
<text transform="translate(468.55 433.93) rotate(-90)" font-family="'Liberation Serif',serif" font-size="13.5" text-anchor="end" x="0" y="4.2">Octobre</text>
<text transform="translate(481.8 435.77) rotate(-90)" font-family="'Liberation Serif',serif" font-size="13.5" text-anchor="end" x="0" y="4.2">Novembre</text>
<text transform="translate(495.05 437.62) rotate(-90)" font-family="'Liberation Serif',serif" font-size="13.5" text-anchor="end" x="0" y="4.2">Décembre</text>
<text transform="translate(508.3 439.46) rotate(-90)" font-family="'Liberation Serif',serif" font-size="13.5" text-anchor="end" x="0" y="3.3">Moyenne</text>
<text x="283.9" y="359.8" font-size="12" text-anchor="start">T [°C]</text>
<text x="277.6" y="243.8" font-size="14.05" text-anchor="start">Températures mensuelles moyennes des villes françaises</text>
</g>
</svg>
</body>
</html>
